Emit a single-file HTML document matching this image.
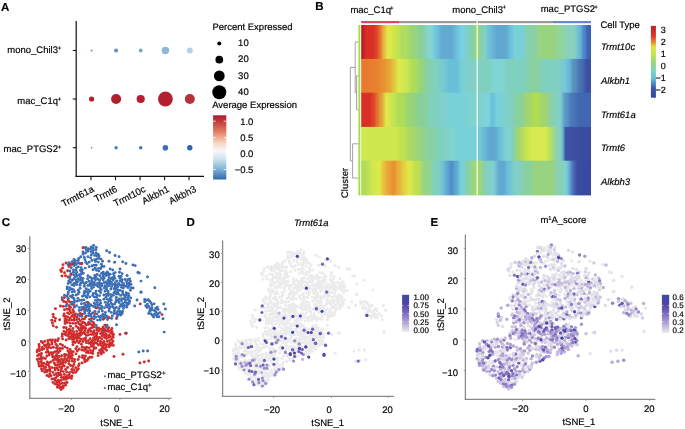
<!DOCTYPE html><html><head><meta charset="utf-8"><style>html,body{margin:0;padding:0;background:#fff;}svg{display:block;font-family:"Liberation Sans",sans-serif;text-rendering:geometricPrecision;will-change:transform;} text{stroke:#000;stroke-width:0.18px;}</style></head><body><svg width="685" height="429" viewBox="0 0 685 429"><text x="1.00" y="10.60" font-size="11.5" text-anchor="start" font-weight="bold" font-style="normal" fill="#000" >A</text>
<line x1="76.20" y1="21.00" x2="76.20" y2="177.00" stroke="#111" stroke-width="1.2"/>
<line x1="75.60" y1="176.40" x2="204.00" y2="176.40" stroke="#111" stroke-width="1.2"/>
<line x1="72.80" y1="50.50" x2="76.20" y2="50.50" stroke="#111" stroke-width="1.1"/>
<line x1="72.80" y1="99.00" x2="76.20" y2="99.00" stroke="#111" stroke-width="1.1"/>
<line x1="72.80" y1="147.70" x2="76.20" y2="147.70" stroke="#111" stroke-width="1.1"/>
<line x1="91.00" y1="176.40" x2="91.00" y2="180.20" stroke="#111" stroke-width="1.1"/>
<line x1="115.50" y1="176.40" x2="115.50" y2="180.20" stroke="#111" stroke-width="1.1"/>
<line x1="140.10" y1="176.40" x2="140.10" y2="180.20" stroke="#111" stroke-width="1.1"/>
<line x1="164.60" y1="176.40" x2="164.60" y2="180.20" stroke="#111" stroke-width="1.1"/>
<line x1="189.00" y1="176.40" x2="189.00" y2="180.20" stroke="#111" stroke-width="1.1"/>
<text x="58.00" y="52.70" font-size="9.5" text-anchor="end" font-weight="normal" font-style="normal" fill="#000" >mono_Chil3</text>
<text x="57.80" y="49.50" font-size="6.2" text-anchor="start" font-weight="normal" font-style="normal" fill="#000" >+</text>
<text x="58.00" y="103.90" font-size="9.5" text-anchor="end" font-weight="normal" font-style="normal" fill="#000" >mac_C1q</text>
<text x="57.80" y="100.70" font-size="6.2" text-anchor="start" font-weight="normal" font-style="normal" fill="#000" >+</text>
<text x="58.00" y="152.40" font-size="9.5" text-anchor="end" font-weight="normal" font-style="normal" fill="#000" >mac_PTGS2</text>
<text x="57.80" y="149.20" font-size="6.2" text-anchor="start" font-weight="normal" font-style="normal" fill="#000" >+</text>
<text transform="translate(94.60,191.2) rotate(-27)" font-size="9.5" text-anchor="end" fill="#000">Trmt61a</text>
<text transform="translate(118.00,191.2) rotate(-27)" font-size="9.5" text-anchor="end" fill="#000">Trmt6</text>
<text transform="translate(146.30,191.2) rotate(-27)" font-size="9.5" text-anchor="end" fill="#000">Trmt10c</text>
<text transform="translate(169.90,191.2) rotate(-27)" font-size="9.5" text-anchor="end" fill="#000">Alkbh1</text>
<text transform="translate(196.90,191.2) rotate(-27)" font-size="9.5" text-anchor="end" fill="#000">Alkbh3</text>
<circle cx="91.60" cy="50.50" r="1.00" fill="#5a8fbd"/>
<circle cx="116.10" cy="50.50" r="2.00" fill="#5a93bd"/>
<circle cx="140.70" cy="50.50" r="1.90" fill="#74a6cb"/>
<circle cx="165.40" cy="50.50" r="3.70" fill="#8bb9d5"/>
<circle cx="189.80" cy="50.50" r="3.00" fill="#b5d2e4"/>
<circle cx="91.60" cy="99.00" r="2.60" fill="#b41f2e"/>
<circle cx="116.10" cy="99.00" r="5.00" fill="#b2202f"/>
<circle cx="140.70" cy="99.00" r="4.10" fill="#b41f2e"/>
<circle cx="165.40" cy="99.00" r="7.40" fill="#b2202f"/>
<circle cx="189.80" cy="99.00" r="5.00" fill="#b53236"/>
<circle cx="91.60" cy="147.70" r="0.90" fill="#6b98c8"/>
<circle cx="116.10" cy="147.70" r="1.75" fill="#4a82c0"/>
<circle cx="140.70" cy="147.70" r="1.75" fill="#4078b8"/>
<circle cx="165.40" cy="147.70" r="2.80" fill="#3a70b0"/>
<circle cx="189.80" cy="147.70" r="2.70" fill="#2e64a8"/>
<text x="212.40" y="30.20" font-size="9.5" text-anchor="start" font-weight="normal" font-style="normal" fill="#000" >Percent Expressed</text>
<circle cx="219.30" cy="43.50" r="2.00" fill="#000"/>
<text x="243.40" y="45.65" font-size="9.5" text-anchor="middle" font-weight="normal" font-style="normal" fill="#000" >10</text>
<circle cx="219.30" cy="59.70" r="3.85" fill="#000"/>
<text x="243.40" y="62.00" font-size="9.5" text-anchor="middle" font-weight="normal" font-style="normal" fill="#000" >20</text>
<circle cx="219.30" cy="75.90" r="5.40" fill="#000"/>
<text x="243.40" y="78.90" font-size="9.5" text-anchor="middle" font-weight="normal" font-style="normal" fill="#000" >30</text>
<circle cx="219.30" cy="92.20" r="7.00" fill="#000"/>
<text x="243.40" y="94.90" font-size="9.5" text-anchor="middle" font-weight="normal" font-style="normal" fill="#000" >40</text>
<text x="212.20" y="108.20" font-size="9.5" text-anchor="start" font-weight="normal" font-style="normal" fill="#000" >Average Expression</text>
<defs><linearGradient id="rdbu" x1="0" y1="0" x2="0" y2="1"><stop offset="0" stop-color="#b2182b"/><stop offset="0.1" stop-color="#c43c3c"/><stop offset="0.25" stop-color="#e07b5f"/><stop offset="0.42" stop-color="#f7d2bd"/><stop offset="0.55" stop-color="#f7f7f7"/><stop offset="0.68" stop-color="#cfe3ef"/><stop offset="0.82" stop-color="#88b9d9"/><stop offset="1" stop-color="#2f6aac"/></linearGradient></defs>
<rect x="213.10" y="115.30" width="13.20" height="64.20" fill="url(#rdbu)" />
<line x1="213.10" y1="121.20" x2="215.70" y2="121.20" stroke="#fff" stroke-width="0.8"/>
<line x1="223.70" y1="121.20" x2="226.30" y2="121.20" stroke="#fff" stroke-width="0.8"/>
<text x="253.40" y="124.60" font-size="9.5" text-anchor="end" font-weight="normal" font-style="normal" fill="#000" >1.0</text>
<line x1="213.10" y1="137.60" x2="215.70" y2="137.60" stroke="#fff" stroke-width="0.8"/>
<line x1="223.70" y1="137.60" x2="226.30" y2="137.60" stroke="#fff" stroke-width="0.8"/>
<text x="253.40" y="141.00" font-size="9.5" text-anchor="end" font-weight="normal" font-style="normal" fill="#000" >0.5</text>
<line x1="213.10" y1="153.30" x2="215.70" y2="153.30" stroke="#fff" stroke-width="0.8"/>
<line x1="223.70" y1="153.30" x2="226.30" y2="153.30" stroke="#fff" stroke-width="0.8"/>
<text x="253.40" y="156.70" font-size="9.5" text-anchor="end" font-weight="normal" font-style="normal" fill="#000" >0.0</text>
<line x1="213.10" y1="169.50" x2="215.70" y2="169.50" stroke="#fff" stroke-width="0.8"/>
<line x1="223.70" y1="169.50" x2="226.30" y2="169.50" stroke="#fff" stroke-width="0.8"/>
<text x="253.40" y="172.90" font-size="9.5" text-anchor="end" font-weight="normal" font-style="normal" fill="#000" >−0.5</text>
<text x="315.30" y="10.00" font-size="11.5" text-anchor="start" font-weight="bold" font-style="normal" fill="#000" >B</text>
<text x="350.40" y="12.70" font-size="9.5" text-anchor="start" font-weight="normal" font-style="normal" fill="#000" >mac_C1q</text>
<text x="390.10" y="9.50" font-size="6.2" text-anchor="start" font-weight="normal" font-style="normal" fill="#000" >+</text>
<text x="452.30" y="12.60" font-size="9.5" text-anchor="start" font-weight="normal" font-style="normal" fill="#000" >mono_Chil3</text>
<text x="502.40" y="9.40" font-size="6.2" text-anchor="start" font-weight="normal" font-style="normal" fill="#000" >+</text>
<text x="540.70" y="12.30" font-size="9.5" text-anchor="start" font-weight="normal" font-style="normal" fill="#000" >mac_PTGS2</text>
<text x="594.30" y="9.10" font-size="6.2" text-anchor="start" font-weight="normal" font-style="normal" fill="#000" >+</text>
<rect x="361.20" y="21.00" width="37.80" height="2.20" fill="#e2465f" />
<rect x="399.00" y="21.00" width="77.50" height="2.20" fill="#9a9a9a" />
<rect x="477.80" y="21.00" width="75.20" height="2.20" fill="#9a9a9a" />
<rect x="553.00" y="21.00" width="38.00" height="2.20" fill="#6b86c9" />
<defs><linearGradient id="hm0" x1="0" y1="0" x2="1" y2="0"><stop offset="0.0042" stop-color="#b82028"/><stop offset="0.0060" stop-color="#b82028"/><stop offset="0.0226" stop-color="#d83028"/><stop offset="0.0517" stop-color="#d83028"/><stop offset="0.0692" stop-color="#e04a28"/><stop offset="0.0714" stop-color="#e04a28"/><stop offset="0.0817" stop-color="#e07a30"/><stop offset="0.0847" stop-color="#e07a30"/><stop offset="0.0950" stop-color="#e8b040"/><stop offset="0.0972" stop-color="#e8b040"/><stop offset="0.1147" stop-color="#e0e848"/><stop offset="0.1254" stop-color="#e0e848"/><stop offset="0.1488" stop-color="#c8e450"/><stop offset="0.1540" stop-color="#c8e450"/><stop offset="0.1773" stop-color="#b0dc60"/><stop offset="0.1954" stop-color="#b0dc60"/><stop offset="0.2215" stop-color="#98d478"/><stop offset="0.2323" stop-color="#98d478"/><stop offset="0.2584" stop-color="#88d098"/><stop offset="0.2654" stop-color="#88d098"/><stop offset="0.2844" stop-color="#84d2c8"/><stop offset="0.2873" stop-color="#84d2c8"/><stop offset="0.2991" stop-color="#88d4d0"/><stop offset="0.3021" stop-color="#88d4d0"/><stop offset="0.3124" stop-color="#7ccfd8"/><stop offset="0.3146" stop-color="#7ccfd8"/><stop offset="0.3264" stop-color="#6ec2dc"/><stop offset="0.3301" stop-color="#6ec2dc"/><stop offset="0.3505" stop-color="#64a9d2"/><stop offset="0.3944" stop-color="#64a9d2"/><stop offset="0.4134" stop-color="#6cc0dc"/><stop offset="0.4163" stop-color="#6cc0dc"/><stop offset="0.4353" stop-color="#7ad0e0"/><stop offset="0.4460" stop-color="#7ad0e0"/><stop offset="0.4708" stop-color="#80d0b8"/><stop offset="0.4767" stop-color="#80d0b8"/><stop offset="0.4953" stop-color="#90d480"/><stop offset="0.4987" stop-color="#90d480"/><stop offset="0.5090" stop-color="#98d480"/><stop offset="0.5108" stop-color="#98d480"/><stop offset="0.5202" stop-color="#88d0a8"/><stop offset="0.5231" stop-color="#88d0a8"/><stop offset="0.5364" stop-color="#80d0c8"/><stop offset="0.5401" stop-color="#80d0c8"/><stop offset="0.5563" stop-color="#6cc0d8"/><stop offset="0.5607" stop-color="#6cc0d8"/><stop offset="0.5740" stop-color="#68b0d8"/><stop offset="0.5762" stop-color="#68b0d8"/><stop offset="0.5937" stop-color="#60a8d0"/><stop offset="0.6302" stop-color="#60a8d0"/><stop offset="0.6477" stop-color="#6cc0dc"/><stop offset="0.6499" stop-color="#6cc0dc"/><stop offset="0.6674" stop-color="#78d0d8"/><stop offset="0.7002" stop-color="#78d0d8"/><stop offset="0.7263" stop-color="#88d0a8"/><stop offset="0.7518" stop-color="#88d0a8"/><stop offset="0.7779" stop-color="#98d480"/><stop offset="0.8402" stop-color="#98d480"/><stop offset="0.8663" stop-color="#90d4a0"/><stop offset="0.8771" stop-color="#90d4a0"/><stop offset="0.9032" stop-color="#88d0c0"/><stop offset="0.9287" stop-color="#88d0c0"/><stop offset="0.9491" stop-color="#68b8d8"/><stop offset="0.9528" stop-color="#68b8d8"/><stop offset="0.9675" stop-color="#5088c8"/><stop offset="0.9712" stop-color="#5088c8"/><stop offset="0.9871" stop-color="#3e60b0"/><stop offset="0.9914" stop-color="#3e60b0"/></linearGradient><linearGradient id="hm1" x1="0" y1="0" x2="1" y2="0"><stop offset="0.0137" stop-color="#e87a30"/><stop offset="0.0259" stop-color="#e87a30"/><stop offset="0.0520" stop-color="#e88030"/><stop offset="0.0665" stop-color="#e88030"/><stop offset="0.0926" stop-color="#e89030"/><stop offset="0.0996" stop-color="#e89030"/><stop offset="0.1215" stop-color="#e8a838"/><stop offset="0.1260" stop-color="#e8a838"/><stop offset="0.1422" stop-color="#e0c840"/><stop offset="0.1459" stop-color="#e0c840"/><stop offset="0.1606" stop-color="#e0e848"/><stop offset="0.1643" stop-color="#e0e848"/><stop offset="0.1847" stop-color="#d0e850"/><stop offset="0.1954" stop-color="#d0e850"/><stop offset="0.2215" stop-color="#b0dc58"/><stop offset="0.2323" stop-color="#b0dc58"/><stop offset="0.2571" stop-color="#98d478"/><stop offset="0.2630" stop-color="#98d478"/><stop offset="0.2866" stop-color="#88d0a8"/><stop offset="0.2925" stop-color="#88d0a8"/><stop offset="0.3173" stop-color="#80d0c0"/><stop offset="0.3281" stop-color="#80d0c0"/><stop offset="0.3529" stop-color="#78c8d0"/><stop offset="0.3588" stop-color="#78c8d0"/><stop offset="0.3837" stop-color="#68c0d8"/><stop offset="0.4165" stop-color="#68c0d8"/><stop offset="0.4384" stop-color="#78d0d8"/><stop offset="0.4428" stop-color="#78d0d8"/><stop offset="0.4647" stop-color="#80d0c8"/><stop offset="0.4924" stop-color="#80d0c8"/><stop offset="0.5185" stop-color="#80d0c0"/><stop offset="0.5528" stop-color="#80d0c0"/><stop offset="0.5789" stop-color="#80d4d4"/><stop offset="0.6118" stop-color="#80d4d4"/><stop offset="0.6379" stop-color="#80d0c0"/><stop offset="0.7076" stop-color="#80d0c0"/><stop offset="0.7337" stop-color="#88d0a0"/><stop offset="0.7665" stop-color="#88d0a0"/><stop offset="0.7927" stop-color="#80d0c0"/><stop offset="0.8550" stop-color="#80d0c0"/><stop offset="0.8798" stop-color="#78c8d8"/><stop offset="0.8857" stop-color="#78c8d8"/><stop offset="0.9034" stop-color="#68b8d8"/><stop offset="0.9064" stop-color="#68b8d8"/><stop offset="0.9240" stop-color="#5890c0"/><stop offset="0.9299" stop-color="#5890c0"/><stop offset="0.9535" stop-color="#4870b0"/><stop offset="0.9594" stop-color="#4870b0"/><stop offset="0.9827" stop-color="#3850a8"/><stop offset="0.9885" stop-color="#3850a8"/></linearGradient><linearGradient id="hm2" x1="0" y1="0" x2="1" y2="0"><stop offset="0.0137" stop-color="#d83028"/><stop offset="0.0370" stop-color="#d83028"/><stop offset="0.0545" stop-color="#e04828"/><stop offset="0.0567" stop-color="#e04828"/><stop offset="0.0670" stop-color="#e07030"/><stop offset="0.0699" stop-color="#e07030"/><stop offset="0.0847" stop-color="#e0a038"/><stop offset="0.0891" stop-color="#e0a038"/><stop offset="0.1083" stop-color="#e0e848"/><stop offset="0.1134" stop-color="#e0e848"/><stop offset="0.1341" stop-color="#c8e450"/><stop offset="0.1392" stop-color="#c8e450"/><stop offset="0.1626" stop-color="#b0dc58"/><stop offset="0.1807" stop-color="#b0dc58"/><stop offset="0.2068" stop-color="#98d478"/><stop offset="0.2249" stop-color="#98d478"/><stop offset="0.2510" stop-color="#88d098"/><stop offset="0.2765" stop-color="#88d098"/><stop offset="0.3026" stop-color="#80d0c0"/><stop offset="0.3281" stop-color="#80d0c0"/><stop offset="0.3542" stop-color="#80d0d0"/><stop offset="0.3649" stop-color="#80d0d0"/><stop offset="0.3910" stop-color="#78d0d8"/><stop offset="0.4460" stop-color="#78d0d8"/><stop offset="0.4721" stop-color="#80d4d0"/><stop offset="0.4924" stop-color="#80d4d0"/><stop offset="0.5149" stop-color="#80d0d0"/><stop offset="0.5196" stop-color="#80d0d0"/><stop offset="0.5421" stop-color="#80d4d8"/><stop offset="0.5528" stop-color="#80d4d8"/><stop offset="0.5703" stop-color="#68c0d8"/><stop offset="0.5725" stop-color="#68c0d8"/><stop offset="0.5900" stop-color="#78d0d8"/><stop offset="0.6044" stop-color="#78d0d8"/><stop offset="0.6305" stop-color="#80d0c8"/><stop offset="0.6486" stop-color="#80d0c8"/><stop offset="0.6747" stop-color="#88d0a0"/><stop offset="0.6929" stop-color="#88d0a0"/><stop offset="0.7190" stop-color="#a0d470"/><stop offset="0.7297" stop-color="#a0d470"/><stop offset="0.7558" stop-color="#b0dc50"/><stop offset="0.7665" stop-color="#b0dc50"/><stop offset="0.7927" stop-color="#a0d470"/><stop offset="0.8034" stop-color="#a0d470"/><stop offset="0.8295" stop-color="#88d0b0"/><stop offset="0.8402" stop-color="#88d0b0"/><stop offset="0.8621" stop-color="#80d0d0"/><stop offset="0.8666" stop-color="#80d0d0"/><stop offset="0.8872" stop-color="#5898c8"/><stop offset="0.8931" stop-color="#5898c8"/><stop offset="0.9167" stop-color="#4878b8"/><stop offset="0.9226" stop-color="#4878b8"/><stop offset="0.9474" stop-color="#4068b0"/><stop offset="0.9869" stop-color="#4068b0"/></linearGradient><linearGradient id="hm3" x1="0" y1="0" x2="1" y2="0"><stop offset="0.0137" stop-color="#d0e850"/><stop offset="0.1512" stop-color="#d0e850"/><stop offset="0.1773" stop-color="#c0e050"/><stop offset="0.1881" stop-color="#c0e050"/><stop offset="0.2142" stop-color="#a8d868"/><stop offset="0.2249" stop-color="#a8d868"/><stop offset="0.2510" stop-color="#98d480"/><stop offset="0.2618" stop-color="#98d480"/><stop offset="0.2879" stop-color="#88d0a0"/><stop offset="0.3133" stop-color="#88d0a0"/><stop offset="0.3395" stop-color="#80d0c0"/><stop offset="0.3649" stop-color="#80d0c0"/><stop offset="0.3898" stop-color="#80d4d0"/><stop offset="0.3957" stop-color="#80d4d0"/><stop offset="0.4205" stop-color="#78d0d8"/><stop offset="0.4924" stop-color="#78d0d8"/><stop offset="0.5149" stop-color="#70c8d8"/><stop offset="0.5196" stop-color="#70c8d8"/><stop offset="0.5349" stop-color="#68b8d8"/><stop offset="0.5379" stop-color="#68b8d8"/><stop offset="0.5568" stop-color="#60a8d0"/><stop offset="0.5823" stop-color="#60a8d0"/><stop offset="0.6042" stop-color="#6cc0d8"/><stop offset="0.6086" stop-color="#6cc0d8"/><stop offset="0.6305" stop-color="#80d4d0"/><stop offset="0.6486" stop-color="#80d4d0"/><stop offset="0.6617" stop-color="#88d0a8"/><stop offset="0.6912" stop-color="#a8d868"/><stop offset="0.7206" stop-color="#c8e450"/><stop offset="0.7428" stop-color="#d8ea50"/><stop offset="0.8017" stop-color="#d8ea50"/><stop offset="0.8238" stop-color="#b8e060"/><stop offset="0.8459" stop-color="#90d4a8"/><stop offset="0.8680" stop-color="#80d0c8"/><stop offset="0.8791" stop-color="#6aa8d0"/><stop offset="0.8887" stop-color="#3e52a4"/><stop offset="1.0000" stop-color="#3a4aa0"/></linearGradient><linearGradient id="hm4" x1="0" y1="0" x2="1" y2="0"><stop offset="0.0101" stop-color="#b0dc5c"/><stop offset="0.0148" stop-color="#b0dc5c"/><stop offset="0.0302" stop-color="#c0e050"/><stop offset="0.0331" stop-color="#c0e050"/><stop offset="0.0508" stop-color="#d0e850"/><stop offset="0.0567" stop-color="#d0e850"/><stop offset="0.0773" stop-color="#e0e848"/><stop offset="0.0817" stop-color="#e0e848"/><stop offset="0.0965" stop-color="#e8c040"/><stop offset="0.0994" stop-color="#e8c040"/><stop offset="0.1142" stop-color="#e8a838"/><stop offset="0.1186" stop-color="#e8a838"/><stop offset="0.1377" stop-color="#e89030"/><stop offset="0.1429" stop-color="#e89030"/><stop offset="0.1621" stop-color="#e8b038"/><stop offset="0.1665" stop-color="#e8b038"/><stop offset="0.1827" stop-color="#e0d040"/><stop offset="0.1864" stop-color="#e0d040"/><stop offset="0.2055" stop-color="#e0e848"/><stop offset="0.2114" stop-color="#e0e848"/><stop offset="0.2363" stop-color="#c0e050"/><stop offset="0.2470" stop-color="#c0e050"/><stop offset="0.2731" stop-color="#98d488"/><stop offset="0.2912" stop-color="#98d488"/><stop offset="0.3173" stop-color="#80d0c0"/><stop offset="0.3355" stop-color="#80d0c0"/><stop offset="0.3544" stop-color="#70c0d8"/><stop offset="0.3574" stop-color="#70c0d8"/><stop offset="0.3706" stop-color="#60a8d0"/><stop offset="0.3743" stop-color="#60a8d0"/><stop offset="0.3905" stop-color="#5090c8"/><stop offset="0.3949" stop-color="#5090c8"/><stop offset="0.4111" stop-color="#60a8d0"/><stop offset="0.4148" stop-color="#60a8d0"/><stop offset="0.4340" stop-color="#78d0d8"/><stop offset="0.4399" stop-color="#78d0d8"/><stop offset="0.4635" stop-color="#88d0a8"/><stop offset="0.4694" stop-color="#88d0a8"/><stop offset="0.4909" stop-color="#a0d870"/><stop offset="0.4957" stop-color="#a0d870"/><stop offset="0.5119" stop-color="#a0d870"/><stop offset="0.5152" stop-color="#a0d870"/><stop offset="0.5335" stop-color="#88d0b0"/><stop offset="0.5394" stop-color="#88d0b0"/><stop offset="0.5642" stop-color="#80d0d0"/><stop offset="0.5749" stop-color="#80d0d0"/><stop offset="0.6011" stop-color="#60a8d0"/><stop offset="0.6192" stop-color="#60a8d0"/><stop offset="0.6411" stop-color="#70c0d8"/><stop offset="0.6455" stop-color="#70c0d8"/><stop offset="0.6674" stop-color="#80d0c8"/><stop offset="0.6855" stop-color="#80d0c8"/><stop offset="0.7116" stop-color="#88d0a0"/><stop offset="0.7297" stop-color="#88d0a0"/><stop offset="0.7558" stop-color="#98d480"/><stop offset="0.8329" stop-color="#98d480"/><stop offset="0.8590" stop-color="#88d0b8"/><stop offset="0.8771" stop-color="#88d0b8"/><stop offset="0.8901" stop-color="#7cd0d8"/><stop offset="0.9012" stop-color="#6cbcd8"/><stop offset="0.9122" stop-color="#5a90c8"/><stop offset="0.9255" stop-color="#4866b2"/><stop offset="0.9417" stop-color="#3a4ca2"/><stop offset="1.0000" stop-color="#3848a0"/></linearGradient></defs>
<rect x="361.20" y="25.00" width="229.80" height="34.50" fill="url(#hm0)" />
<rect x="361.20" y="58.90" width="229.80" height="34.40" fill="url(#hm1)" />
<rect x="361.20" y="92.70" width="229.80" height="34.80" fill="url(#hm2)" />
<rect x="361.20" y="126.90" width="229.80" height="34.40" fill="url(#hm3)" />
<rect x="361.20" y="160.70" width="229.80" height="34.70" fill="url(#hm4)" />
<rect x="476.60" y="25.00" width="1.20" height="170.40" fill="#ffffff" />
<rect x="358.40" y="25.00" width="1.90" height="170.40" fill="#a4de4a" />
<line x1="356.60" y1="75.80" x2="358.40" y2="75.80" stroke="#8c8c8c" stroke-width="0.8"/>
<line x1="356.60" y1="109.80" x2="358.40" y2="109.80" stroke="#8c8c8c" stroke-width="0.8"/>
<line x1="356.60" y1="75.80" x2="356.60" y2="109.80" stroke="#8c8c8c" stroke-width="0.8"/>
<line x1="355.20" y1="41.95" x2="358.40" y2="41.95" stroke="#8c8c8c" stroke-width="0.8"/>
<line x1="355.20" y1="92.80" x2="356.60" y2="92.80" stroke="#8c8c8c" stroke-width="0.8"/>
<line x1="355.20" y1="41.95" x2="355.20" y2="92.80" stroke="#8c8c8c" stroke-width="0.8"/>
<line x1="352.60" y1="143.80" x2="358.40" y2="143.80" stroke="#8c8c8c" stroke-width="0.8"/>
<line x1="352.60" y1="178.05" x2="358.40" y2="178.05" stroke="#8c8c8c" stroke-width="0.8"/>
<line x1="352.60" y1="143.80" x2="352.60" y2="178.05" stroke="#8c8c8c" stroke-width="0.8"/>
<line x1="350.30" y1="67.38" x2="355.20" y2="67.38" stroke="#8c8c8c" stroke-width="0.8"/>
<line x1="350.30" y1="160.93" x2="352.60" y2="160.93" stroke="#8c8c8c" stroke-width="0.8"/>
<line x1="350.30" y1="67.38" x2="350.30" y2="160.93" stroke="#8c8c8c" stroke-width="0.8"/>
<text transform="translate(347.6,198.0) rotate(-90)" font-size="9.5" fill="#000">Cluster</text>
<text x="600.40" y="27.80" font-size="9.5" text-anchor="start" font-weight="normal" font-style="normal" fill="#000" >Cell Type</text>
<text x="601.00" y="50.30" font-size="9.5" text-anchor="start" font-weight="normal" font-style="italic" fill="#000" >Trmt10c</text>
<text x="601.00" y="83.80" font-size="9.5" text-anchor="start" font-weight="normal" font-style="italic" fill="#000" >Alkbh1</text>
<text x="601.00" y="117.70" font-size="9.5" text-anchor="start" font-weight="normal" font-style="italic" fill="#000" >Trmt61a</text>
<text x="601.00" y="151.00" font-size="9.5" text-anchor="start" font-weight="normal" font-style="italic" fill="#000" >Trmt6</text>
<text x="601.00" y="184.80" font-size="9.5" text-anchor="start" font-weight="normal" font-style="italic" fill="#000" >Alkbh3</text>
<defs><linearGradient id="jet" x1="0" y1="0" x2="0" y2="1"><stop offset="0" stop-color="#b82028"/><stop offset="0.045" stop-color="#c82428"/><stop offset="0.1" stop-color="#d83028"/><stop offset="0.145" stop-color="#dc3a28"/><stop offset="0.195" stop-color="#e26a2c"/><stop offset="0.245" stop-color="#e8a032"/><stop offset="0.29" stop-color="#e0e040"/><stop offset="0.38" stop-color="#c8e450"/><stop offset="0.49" stop-color="#a0d870"/><stop offset="0.53" stop-color="#92d48c"/><stop offset="0.63" stop-color="#80d0c0"/><stop offset="0.73" stop-color="#68c0dc"/><stop offset="0.79" stop-color="#5090c8"/><stop offset="0.87" stop-color="#3c58a8"/><stop offset="1" stop-color="#3342a0"/></linearGradient></defs>
<rect x="650.90" y="25.90" width="5.00" height="71.80" fill="url(#jet)" />
<text x="665.80" y="32.60" font-size="9" text-anchor="end" font-weight="normal" font-style="normal" fill="#000" >3</text>
<text x="665.80" y="44.75" font-size="9" text-anchor="end" font-weight="normal" font-style="normal" fill="#000" >2</text>
<text x="665.80" y="56.90" font-size="9" text-anchor="end" font-weight="normal" font-style="normal" fill="#000" >1</text>
<text x="665.80" y="69.05" font-size="9" text-anchor="end" font-weight="normal" font-style="normal" fill="#000" >0</text>
<text x="665.80" y="81.20" font-size="9" text-anchor="end" font-weight="normal" font-style="normal" fill="#000" >−1</text>
<text x="665.80" y="93.35" font-size="9" text-anchor="end" font-weight="normal" font-style="normal" fill="#000" >−2</text>
<text x="1.70" y="226.20" font-size="11.5" text-anchor="start" font-weight="bold" font-style="normal" fill="#000" >C</text>
<line x1="29.80" y1="236.20" x2="29.80" y2="399.00" stroke="#8a8a8a" stroke-width="1.3"/>
<line x1="29.20" y1="398.40" x2="171.50" y2="398.40" stroke="#8a8a8a" stroke-width="1.3"/>
<line x1="27.80" y1="248.40" x2="29.50" y2="248.40" stroke="#8a8a8a" stroke-width="0.8"/>
<text x="26.40" y="251.80" font-size="9.5" text-anchor="end" font-weight="normal" font-style="normal" fill="#000" >30</text>
<line x1="27.80" y1="279.70" x2="29.50" y2="279.70" stroke="#8a8a8a" stroke-width="0.8"/>
<text x="26.40" y="283.10" font-size="9.5" text-anchor="end" font-weight="normal" font-style="normal" fill="#000" >20</text>
<line x1="27.80" y1="310.50" x2="29.50" y2="310.50" stroke="#8a8a8a" stroke-width="0.8"/>
<text x="26.40" y="314.60" font-size="9.5" text-anchor="end" font-weight="normal" font-style="normal" fill="#000" >10</text>
<line x1="27.80" y1="341.10" x2="29.50" y2="341.10" stroke="#8a8a8a" stroke-width="0.8"/>
<text x="26.40" y="345.90" font-size="9.5" text-anchor="end" font-weight="normal" font-style="normal" fill="#000" >0</text>
<line x1="27.80" y1="371.30" x2="29.50" y2="371.30" stroke="#8a8a8a" stroke-width="0.8"/>
<text x="26.40" y="377.40" font-size="9.5" text-anchor="end" font-weight="normal" font-style="normal" fill="#000" >−10</text>
<line x1="71.40" y1="398.40" x2="71.40" y2="400.20" stroke="#8a8a8a" stroke-width="0.8"/>
<text x="66.40" y="412.20" font-size="9.5" text-anchor="middle" font-weight="normal" font-style="normal" fill="#000" >−20</text>
<line x1="119.90" y1="398.40" x2="119.90" y2="400.20" stroke="#8a8a8a" stroke-width="0.8"/>
<text x="116.75" y="412.20" font-size="9.5" text-anchor="middle" font-weight="normal" font-style="normal" fill="#000" >0</text>
<line x1="168.30" y1="398.40" x2="168.30" y2="400.20" stroke="#8a8a8a" stroke-width="0.8"/>
<text x="164.55" y="412.20" font-size="9.5" text-anchor="middle" font-weight="normal" font-style="normal" fill="#000" >20</text>
<text x="116.65" y="425.50" font-size="9.5" text-anchor="middle" font-weight="normal" font-style="normal" fill="#000" >tSNE_1</text>
<text transform="translate(9.7,313.9) rotate(-90)" font-size="9.5" text-anchor="middle" fill="#000">tSNE_2</text>
<g>
<circle cx="67.15" cy="288.88" r="1.45" fill="#3a6db4"/>
<circle cx="72.19" cy="261.61" r="1.45" fill="#3a6db4"/>
<circle cx="123.79" cy="283.70" r="1.45" fill="#3a6db4"/>
<circle cx="82.49" cy="296.29" r="1.45" fill="#3a6db4"/>
<circle cx="98.78" cy="311.66" r="1.45" fill="#3a6db4"/>
<circle cx="109.00" cy="310.93" r="1.45" fill="#3a6db4"/>
<circle cx="46.99" cy="375.56" r="1.45" fill="#d02a2a"/>
<circle cx="84.23" cy="257.41" r="1.45" fill="#3a6db4"/>
<circle cx="141.00" cy="292.20" r="1.45" fill="#3a6db4"/>
<circle cx="111.37" cy="282.24" r="1.45" fill="#3a6db4"/>
<circle cx="95.57" cy="261.49" r="1.45" fill="#3a6db4"/>
<circle cx="67.67" cy="316.94" r="1.45" fill="#d02a2a"/>
<circle cx="122.76" cy="303.49" r="1.45" fill="#3a6db4"/>
<circle cx="50.88" cy="347.89" r="1.45" fill="#d02a2a"/>
<circle cx="83.02" cy="251.89" r="1.45" fill="#3a6db4"/>
<circle cx="86.39" cy="352.40" r="1.45" fill="#d02a2a"/>
<circle cx="97.76" cy="279.09" r="1.45" fill="#3a6db4"/>
<circle cx="103.86" cy="341.43" r="1.45" fill="#d02a2a"/>
<circle cx="157.33" cy="307.11" r="1.45" fill="#3a6db4"/>
<circle cx="67.00" cy="382.47" r="1.45" fill="#d02a2a"/>
<circle cx="110.75" cy="278.81" r="1.45" fill="#3a6db4"/>
<circle cx="77.00" cy="346.67" r="1.45" fill="#d02a2a"/>
<circle cx="108.30" cy="293.44" r="1.45" fill="#3a6db4"/>
<circle cx="122.64" cy="311.46" r="1.45" fill="#3a6db4"/>
<circle cx="58.03" cy="362.14" r="1.45" fill="#d02a2a"/>
<circle cx="122.76" cy="261.83" r="1.45" fill="#3a6db4"/>
<circle cx="85.87" cy="247.43" r="1.45" fill="#3a6db4"/>
<circle cx="55.46" cy="339.95" r="1.45" fill="#d02a2a"/>
<circle cx="117.16" cy="284.84" r="1.45" fill="#3a6db4"/>
<circle cx="86.70" cy="307.28" r="1.45" fill="#3a6db4"/>
<circle cx="72.73" cy="366.54" r="1.45" fill="#d02a2a"/>
<circle cx="86.69" cy="302.15" r="1.45" fill="#3a6db4"/>
<circle cx="80.30" cy="276.64" r="1.45" fill="#3a6db4"/>
<circle cx="79.59" cy="300.35" r="1.45" fill="#3a6db4"/>
<circle cx="126.45" cy="294.88" r="1.45" fill="#3a6db4"/>
<circle cx="106.03" cy="273.31" r="1.45" fill="#3a6db4"/>
<circle cx="57.63" cy="340.81" r="1.45" fill="#d02a2a"/>
<circle cx="94.96" cy="311.35" r="1.45" fill="#3a6db4"/>
<circle cx="80.38" cy="320.96" r="1.45" fill="#d02a2a"/>
<circle cx="79.81" cy="263.54" r="1.45" fill="#3a6db4"/>
<circle cx="64.52" cy="295.16" r="1.45" fill="#3a6db4"/>
<circle cx="106.63" cy="338.53" r="1.45" fill="#d02a2a"/>
<circle cx="131.01" cy="284.33" r="1.45" fill="#3a6db4"/>
<circle cx="93.31" cy="293.46" r="1.45" fill="#3a6db4"/>
<circle cx="92.75" cy="353.55" r="1.45" fill="#d02a2a"/>
<circle cx="100.39" cy="317.96" r="1.45" fill="#3a6db4"/>
<circle cx="85.99" cy="349.08" r="1.45" fill="#d02a2a"/>
<circle cx="67.63" cy="312.95" r="1.45" fill="#d02a2a"/>
<circle cx="114.04" cy="288.74" r="1.45" fill="#3a6db4"/>
<circle cx="44.61" cy="372.01" r="1.45" fill="#d02a2a"/>
<circle cx="71.00" cy="273.62" r="1.45" fill="#3a6db4"/>
<circle cx="98.65" cy="316.43" r="1.45" fill="#3a6db4"/>
<circle cx="99.22" cy="290.89" r="1.45" fill="#3a6db4"/>
<circle cx="79.02" cy="292.17" r="1.45" fill="#3a6db4"/>
<circle cx="103.19" cy="280.04" r="1.45" fill="#3a6db4"/>
<circle cx="55.50" cy="318.41" r="1.45" fill="#d02a2a"/>
<circle cx="75.98" cy="353.87" r="1.45" fill="#d02a2a"/>
<circle cx="39.06" cy="366.05" r="1.45" fill="#d02a2a"/>
<circle cx="70.69" cy="333.14" r="1.45" fill="#d02a2a"/>
<circle cx="97.14" cy="274.43" r="1.45" fill="#3a6db4"/>
<circle cx="94.17" cy="278.26" r="1.45" fill="#3a6db4"/>
<circle cx="78.13" cy="293.98" r="1.45" fill="#3a6db4"/>
<circle cx="65.05" cy="323.43" r="1.45" fill="#d02a2a"/>
<circle cx="47.85" cy="340.54" r="1.45" fill="#d02a2a"/>
<circle cx="73.32" cy="331.45" r="1.45" fill="#d02a2a"/>
<circle cx="94.33" cy="297.10" r="1.45" fill="#3a6db4"/>
<circle cx="71.98" cy="284.86" r="1.45" fill="#3a6db4"/>
<circle cx="58.80" cy="382.18" r="1.45" fill="#d02a2a"/>
<circle cx="91.48" cy="282.77" r="1.45" fill="#3a6db4"/>
<circle cx="86.66" cy="347.15" r="1.45" fill="#d02a2a"/>
<circle cx="146.42" cy="300.30" r="1.45" fill="#3a6db4"/>
<circle cx="49.13" cy="355.00" r="1.45" fill="#d02a2a"/>
<circle cx="77.06" cy="340.80" r="1.45" fill="#d02a2a"/>
<circle cx="100.63" cy="292.64" r="1.45" fill="#3a6db4"/>
<circle cx="75.30" cy="334.60" r="1.45" fill="#d02a2a"/>
<circle cx="64.64" cy="358.68" r="1.45" fill="#d02a2a"/>
<circle cx="73.71" cy="333.49" r="1.45" fill="#d02a2a"/>
<circle cx="72.99" cy="342.21" r="1.45" fill="#d02a2a"/>
<circle cx="86.43" cy="325.05" r="1.45" fill="#d02a2a"/>
<circle cx="98.22" cy="286.54" r="1.45" fill="#3a6db4"/>
<circle cx="109.08" cy="277.67" r="1.45" fill="#3a6db4"/>
<circle cx="83.89" cy="299.85" r="1.45" fill="#3a6db4"/>
<circle cx="70.48" cy="326.19" r="1.45" fill="#d02a2a"/>
<circle cx="115.18" cy="272.62" r="1.45" fill="#3a6db4"/>
<circle cx="158.89" cy="316.76" r="1.45" fill="#3a6db4"/>
<circle cx="73.78" cy="278.87" r="1.45" fill="#3a6db4"/>
<circle cx="120.70" cy="313.60" r="1.45" fill="#3a6db4"/>
<circle cx="62.47" cy="345.32" r="1.45" fill="#d02a2a"/>
<circle cx="97.02" cy="313.83" r="1.45" fill="#3a6db4"/>
<circle cx="88.35" cy="340.82" r="1.45" fill="#d02a2a"/>
<circle cx="64.23" cy="313.83" r="1.45" fill="#d02a2a"/>
<circle cx="93.85" cy="265.21" r="1.45" fill="#3a6db4"/>
<circle cx="71.56" cy="288.87" r="1.45" fill="#3a6db4"/>
<circle cx="74.40" cy="307.16" r="1.45" fill="#3a6db4"/>
<circle cx="78.06" cy="327.74" r="1.45" fill="#d02a2a"/>
<circle cx="101.54" cy="273.35" r="1.45" fill="#3a6db4"/>
<circle cx="119.22" cy="298.96" r="1.45" fill="#3a6db4"/>
<circle cx="64.89" cy="383.07" r="1.45" fill="#d02a2a"/>
<circle cx="88.88" cy="281.13" r="1.45" fill="#3a6db4"/>
<circle cx="156.97" cy="316.82" r="1.45" fill="#3a6db4"/>
<circle cx="130.74" cy="297.91" r="1.45" fill="#3a6db4"/>
<circle cx="66.64" cy="319.65" r="1.45" fill="#d02a2a"/>
<circle cx="57.27" cy="376.28" r="1.45" fill="#d02a2a"/>
<circle cx="106.40" cy="294.50" r="1.45" fill="#3a6db4"/>
<circle cx="62.60" cy="268.00" r="1.45" fill="#d02a2a"/>
<circle cx="78.31" cy="278.74" r="1.45" fill="#3a6db4"/>
<circle cx="51.02" cy="375.73" r="1.45" fill="#d02a2a"/>
<circle cx="93.85" cy="327.11" r="1.45" fill="#d02a2a"/>
<circle cx="69.08" cy="305.68" r="1.45" fill="#d02a2a"/>
<circle cx="68.16" cy="264.79" r="1.45" fill="#3a6db4"/>
<circle cx="70.50" cy="307.52" r="1.45" fill="#d02a2a"/>
<circle cx="56.15" cy="344.52" r="1.45" fill="#d02a2a"/>
<circle cx="113.18" cy="337.21" r="1.45" fill="#d02a2a"/>
<circle cx="72.75" cy="323.36" r="1.45" fill="#d02a2a"/>
<circle cx="92.61" cy="284.65" r="1.45" fill="#3a6db4"/>
<circle cx="68.66" cy="336.37" r="1.45" fill="#d02a2a"/>
<circle cx="76.85" cy="317.28" r="1.45" fill="#d02a2a"/>
<circle cx="73.56" cy="304.92" r="1.45" fill="#d02a2a"/>
<circle cx="87.61" cy="305.51" r="1.45" fill="#3a6db4"/>
<circle cx="81.80" cy="307.54" r="1.45" fill="#3a6db4"/>
<circle cx="54.87" cy="321.00" r="1.45" fill="#d02a2a"/>
<circle cx="91.87" cy="318.40" r="1.45" fill="#d02a2a"/>
<circle cx="86.43" cy="291.76" r="1.45" fill="#3a6db4"/>
<circle cx="113.54" cy="273.78" r="1.45" fill="#3a6db4"/>
<circle cx="116.73" cy="280.95" r="1.45" fill="#3a6db4"/>
<circle cx="83.53" cy="308.80" r="1.45" fill="#d02a2a"/>
<circle cx="89.17" cy="266.76" r="1.45" fill="#3a6db4"/>
<circle cx="96.74" cy="343.37" r="1.45" fill="#d02a2a"/>
<circle cx="103.35" cy="333.80" r="1.45" fill="#d02a2a"/>
<circle cx="102.08" cy="336.05" r="1.45" fill="#d02a2a"/>
<circle cx="78.37" cy="260.53" r="1.45" fill="#3a6db4"/>
<circle cx="164.20" cy="332.10" r="1.45" fill="#3a6db4"/>
<circle cx="85.71" cy="328.39" r="1.45" fill="#d02a2a"/>
<circle cx="59.69" cy="319.79" r="1.45" fill="#d02a2a"/>
<circle cx="133.12" cy="287.95" r="1.45" fill="#3a6db4"/>
<circle cx="148.70" cy="361.00" r="1.45" fill="#d02a2a"/>
<circle cx="82.43" cy="326.46" r="1.45" fill="#d02a2a"/>
<circle cx="91.96" cy="260.41" r="1.45" fill="#3a6db4"/>
<circle cx="103.48" cy="352.39" r="1.45" fill="#d02a2a"/>
<circle cx="72.76" cy="263.55" r="1.45" fill="#3a6db4"/>
<circle cx="132.96" cy="264.90" r="1.45" fill="#3a6db4"/>
<circle cx="70.96" cy="330.60" r="1.45" fill="#d02a2a"/>
<circle cx="107.60" cy="302.78" r="1.45" fill="#3a6db4"/>
<circle cx="96.94" cy="330.03" r="1.45" fill="#d02a2a"/>
<circle cx="76.70" cy="284.52" r="1.45" fill="#3a6db4"/>
<circle cx="123.00" cy="354.30" r="1.45" fill="#d02a2a"/>
<circle cx="104.45" cy="343.69" r="1.45" fill="#d02a2a"/>
<circle cx="72.16" cy="358.54" r="1.45" fill="#d02a2a"/>
<circle cx="127.58" cy="297.71" r="1.45" fill="#3a6db4"/>
<circle cx="74.66" cy="359.48" r="1.45" fill="#d02a2a"/>
<circle cx="66.70" cy="360.36" r="1.45" fill="#d02a2a"/>
<circle cx="79.21" cy="363.86" r="1.45" fill="#d02a2a"/>
<circle cx="111.87" cy="343.15" r="1.45" fill="#d02a2a"/>
<circle cx="85.89" cy="309.27" r="1.45" fill="#3a6db4"/>
<circle cx="107.05" cy="284.22" r="1.45" fill="#3a6db4"/>
<circle cx="72.38" cy="355.25" r="1.45" fill="#d02a2a"/>
<circle cx="65.81" cy="306.23" r="1.45" fill="#3a6db4"/>
<circle cx="129.01" cy="285.51" r="1.45" fill="#3a6db4"/>
<circle cx="76.57" cy="305.69" r="1.45" fill="#3a6db4"/>
<circle cx="95.63" cy="293.43" r="1.45" fill="#3a6db4"/>
<circle cx="79.05" cy="337.95" r="1.45" fill="#d02a2a"/>
<circle cx="84.98" cy="330.57" r="1.45" fill="#d02a2a"/>
<circle cx="115.21" cy="282.69" r="1.45" fill="#3a6db4"/>
<circle cx="80.17" cy="280.36" r="1.45" fill="#3a6db4"/>
<circle cx="94.59" cy="284.44" r="1.45" fill="#3a6db4"/>
<circle cx="109.03" cy="261.31" r="1.45" fill="#3a6db4"/>
<circle cx="73.00" cy="314.80" r="1.45" fill="#d02a2a"/>
<circle cx="67.96" cy="350.93" r="1.45" fill="#d02a2a"/>
<circle cx="92.80" cy="295.50" r="1.45" fill="#3a6db4"/>
<circle cx="86.26" cy="316.03" r="1.45" fill="#3a6db4"/>
<circle cx="111.56" cy="318.41" r="1.45" fill="#3a6db4"/>
<circle cx="43.64" cy="363.20" r="1.45" fill="#d02a2a"/>
<circle cx="102.53" cy="261.26" r="1.45" fill="#3a6db4"/>
<circle cx="98.52" cy="327.89" r="1.45" fill="#d02a2a"/>
<circle cx="64.96" cy="318.60" r="1.45" fill="#d02a2a"/>
<circle cx="129.61" cy="278.86" r="1.45" fill="#3a6db4"/>
<circle cx="81.90" cy="263.25" r="1.45" fill="#3a6db4"/>
<circle cx="123.37" cy="288.11" r="1.45" fill="#3a6db4"/>
<circle cx="80.40" cy="270.46" r="1.45" fill="#3a6db4"/>
<circle cx="68.88" cy="363.84" r="1.45" fill="#d02a2a"/>
<circle cx="64.31" cy="366.03" r="1.45" fill="#d02a2a"/>
<circle cx="119.48" cy="272.27" r="1.45" fill="#3a6db4"/>
<circle cx="148.72" cy="313.42" r="1.45" fill="#3a6db4"/>
<circle cx="84.37" cy="295.34" r="1.45" fill="#3a6db4"/>
<circle cx="67.14" cy="330.09" r="1.45" fill="#d02a2a"/>
<circle cx="67.15" cy="286.90" r="1.45" fill="#3a6db4"/>
<circle cx="123.47" cy="308.39" r="1.45" fill="#3a6db4"/>
<circle cx="62.94" cy="362.20" r="1.45" fill="#d02a2a"/>
<circle cx="89.84" cy="283.97" r="1.45" fill="#3a6db4"/>
<circle cx="80.72" cy="327.91" r="1.45" fill="#d02a2a"/>
<circle cx="105.95" cy="297.16" r="1.45" fill="#3a6db4"/>
<circle cx="87.80" cy="302.50" r="1.45" fill="#d02a2a"/>
<circle cx="48.17" cy="342.92" r="1.45" fill="#d02a2a"/>
<circle cx="46.26" cy="364.55" r="1.45" fill="#d02a2a"/>
<circle cx="38.98" cy="354.51" r="1.45" fill="#d02a2a"/>
<circle cx="116.50" cy="318.50" r="1.45" fill="#d02a2a"/>
<circle cx="154.40" cy="310.59" r="1.45" fill="#3a6db4"/>
<circle cx="91.37" cy="346.18" r="1.45" fill="#d02a2a"/>
<circle cx="49.37" cy="366.65" r="1.45" fill="#d02a2a"/>
<circle cx="106.12" cy="344.70" r="1.45" fill="#d02a2a"/>
<circle cx="80.82" cy="325.30" r="1.45" fill="#d02a2a"/>
<circle cx="62.40" cy="348.52" r="1.45" fill="#d02a2a"/>
<circle cx="87.91" cy="251.25" r="1.45" fill="#3a6db4"/>
<circle cx="74.43" cy="262.40" r="1.45" fill="#3a6db4"/>
<circle cx="65.96" cy="379.39" r="1.45" fill="#d02a2a"/>
<circle cx="87.93" cy="285.54" r="1.45" fill="#3a6db4"/>
<circle cx="72.22" cy="297.26" r="1.45" fill="#3a6db4"/>
<circle cx="101.26" cy="278.36" r="1.45" fill="#3a6db4"/>
<circle cx="145.76" cy="305.80" r="1.45" fill="#3a6db4"/>
<circle cx="107.25" cy="341.57" r="1.45" fill="#d02a2a"/>
<circle cx="116.35" cy="307.40" r="1.45" fill="#3a6db4"/>
<circle cx="139.30" cy="273.00" r="1.45" fill="#3a6db4"/>
<circle cx="75.22" cy="342.46" r="1.45" fill="#d02a2a"/>
<circle cx="103.53" cy="345.39" r="1.45" fill="#d02a2a"/>
<circle cx="74.02" cy="283.38" r="1.45" fill="#3a6db4"/>
<circle cx="57.50" cy="365.04" r="1.45" fill="#d02a2a"/>
<circle cx="113.30" cy="334.40" r="1.45" fill="#d02a2a"/>
<circle cx="72.23" cy="280.26" r="1.45" fill="#3a6db4"/>
<circle cx="112.49" cy="304.75" r="1.45" fill="#3a6db4"/>
<circle cx="86.59" cy="335.39" r="1.45" fill="#d02a2a"/>
<circle cx="50.81" cy="361.87" r="1.45" fill="#d02a2a"/>
<circle cx="78.30" cy="335.91" r="1.45" fill="#d02a2a"/>
<circle cx="56.50" cy="327.18" r="1.45" fill="#d02a2a"/>
<circle cx="96.49" cy="297.18" r="1.45" fill="#3a6db4"/>
<circle cx="70.61" cy="337.01" r="1.45" fill="#d02a2a"/>
<circle cx="101.13" cy="354.05" r="1.45" fill="#d02a2a"/>
<circle cx="49.37" cy="345.00" r="1.45" fill="#d02a2a"/>
<circle cx="93.00" cy="253.15" r="1.45" fill="#3a6db4"/>
<circle cx="126.64" cy="307.14" r="1.45" fill="#3a6db4"/>
<circle cx="151.90" cy="307.68" r="1.45" fill="#3a6db4"/>
<circle cx="75.91" cy="270.31" r="1.45" fill="#3a6db4"/>
<circle cx="65.75" cy="377.30" r="1.45" fill="#d02a2a"/>
<circle cx="68.03" cy="298.36" r="1.45" fill="#3a6db4"/>
<circle cx="100.32" cy="319.99" r="1.45" fill="#3a6db4"/>
<circle cx="48.67" cy="347.29" r="1.45" fill="#d02a2a"/>
<circle cx="53.21" cy="325.79" r="1.45" fill="#d02a2a"/>
<circle cx="117.69" cy="286.84" r="1.45" fill="#3a6db4"/>
<circle cx="154.56" cy="314.22" r="1.45" fill="#3a6db4"/>
<circle cx="88.28" cy="324.49" r="1.45" fill="#d02a2a"/>
<circle cx="107.27" cy="272.07" r="1.45" fill="#3a6db4"/>
<circle cx="61.18" cy="375.01" r="1.45" fill="#d02a2a"/>
<circle cx="58.03" cy="348.88" r="1.45" fill="#d02a2a"/>
<circle cx="120.67" cy="295.41" r="1.45" fill="#3a6db4"/>
<circle cx="106.55" cy="289.31" r="1.45" fill="#3a6db4"/>
<circle cx="84.56" cy="318.86" r="1.45" fill="#d02a2a"/>
<circle cx="60.10" cy="350.72" r="1.45" fill="#d02a2a"/>
<circle cx="107.25" cy="299.36" r="1.45" fill="#3a6db4"/>
<circle cx="81.75" cy="271.93" r="1.45" fill="#3a6db4"/>
<circle cx="77.75" cy="281.60" r="1.45" fill="#3a6db4"/>
<circle cx="112.86" cy="341.28" r="1.45" fill="#d02a2a"/>
<circle cx="63.81" cy="327.47" r="1.45" fill="#d02a2a"/>
<circle cx="112.23" cy="332.00" r="1.45" fill="#d02a2a"/>
<circle cx="43.51" cy="366.16" r="1.45" fill="#d02a2a"/>
<circle cx="71.98" cy="302.24" r="1.45" fill="#3a6db4"/>
<circle cx="141.00" cy="292.00" r="1.45" fill="#3a6db4"/>
<circle cx="67.57" cy="367.44" r="1.45" fill="#d02a2a"/>
<circle cx="154.08" cy="303.87" r="1.45" fill="#3a6db4"/>
<circle cx="98.11" cy="355.59" r="1.45" fill="#d02a2a"/>
<circle cx="65.05" cy="321.27" r="1.45" fill="#d02a2a"/>
<circle cx="54.72" cy="356.74" r="1.45" fill="#d02a2a"/>
<circle cx="95.19" cy="307.18" r="1.45" fill="#3a6db4"/>
<circle cx="104.70" cy="329.51" r="1.45" fill="#d02a2a"/>
<circle cx="41.28" cy="341.45" r="1.45" fill="#d02a2a"/>
<circle cx="59.68" cy="387.63" r="1.45" fill="#d02a2a"/>
<circle cx="113.30" cy="345.40" r="1.45" fill="#d02a2a"/>
<circle cx="46.63" cy="371.88" r="1.45" fill="#d02a2a"/>
<circle cx="61.08" cy="380.55" r="1.45" fill="#d02a2a"/>
<circle cx="106.63" cy="287.06" r="1.45" fill="#3a6db4"/>
<circle cx="78.93" cy="323.85" r="1.45" fill="#d02a2a"/>
<circle cx="73.06" cy="337.23" r="1.45" fill="#d02a2a"/>
<circle cx="94.84" cy="313.61" r="1.45" fill="#d02a2a"/>
<circle cx="65.56" cy="385.16" r="1.45" fill="#d02a2a"/>
<circle cx="114.72" cy="304.05" r="1.45" fill="#3a6db4"/>
<circle cx="68.97" cy="308.72" r="1.45" fill="#d02a2a"/>
<circle cx="88.57" cy="315.80" r="1.45" fill="#3a6db4"/>
<circle cx="67.06" cy="309.32" r="1.45" fill="#d02a2a"/>
<circle cx="130.34" cy="290.23" r="1.45" fill="#3a6db4"/>
<circle cx="54.73" cy="368.12" r="1.45" fill="#d02a2a"/>
<circle cx="114.17" cy="276.11" r="1.45" fill="#3a6db4"/>
<circle cx="108.00" cy="280.12" r="1.45" fill="#3a6db4"/>
<circle cx="81.09" cy="267.64" r="1.45" fill="#3a6db4"/>
<circle cx="89.88" cy="296.84" r="1.45" fill="#3a6db4"/>
<circle cx="81.75" cy="323.59" r="1.45" fill="#d02a2a"/>
<circle cx="77.11" cy="370.25" r="1.45" fill="#d02a2a"/>
<circle cx="50.10" cy="371.30" r="1.45" fill="#d02a2a"/>
<circle cx="111.23" cy="300.13" r="1.45" fill="#3a6db4"/>
<circle cx="116.32" cy="297.42" r="1.45" fill="#3a6db4"/>
<circle cx="114.18" cy="313.55" r="1.45" fill="#3a6db4"/>
<circle cx="84.77" cy="311.22" r="1.45" fill="#3a6db4"/>
<circle cx="80.14" cy="313.54" r="1.45" fill="#d02a2a"/>
<circle cx="73.41" cy="272.25" r="1.45" fill="#3a6db4"/>
<circle cx="56.21" cy="373.72" r="1.45" fill="#d02a2a"/>
<circle cx="61.55" cy="386.84" r="1.45" fill="#d02a2a"/>
<circle cx="85.02" cy="361.72" r="1.45" fill="#d02a2a"/>
<circle cx="67.50" cy="358.58" r="1.45" fill="#d02a2a"/>
<circle cx="38.76" cy="363.60" r="1.45" fill="#d02a2a"/>
<circle cx="71.95" cy="369.50" r="1.45" fill="#d02a2a"/>
<circle cx="82.60" cy="319.15" r="1.45" fill="#d02a2a"/>
<circle cx="75.03" cy="277.08" r="1.45" fill="#3a6db4"/>
<circle cx="122.49" cy="291.13" r="1.45" fill="#3a6db4"/>
<circle cx="91.71" cy="327.72" r="1.45" fill="#d02a2a"/>
<circle cx="119.90" cy="313.57" r="1.45" fill="#3a6db4"/>
<circle cx="63.72" cy="315.72" r="1.45" fill="#d02a2a"/>
<circle cx="63.62" cy="377.34" r="1.45" fill="#d02a2a"/>
<circle cx="91.29" cy="246.96" r="1.45" fill="#3a6db4"/>
<circle cx="126.30" cy="333.20" r="1.45" fill="#3a6db4"/>
<circle cx="72.72" cy="295.29" r="1.45" fill="#3a6db4"/>
<circle cx="123.86" cy="298.89" r="1.45" fill="#3a6db4"/>
<circle cx="87.20" cy="263.77" r="1.45" fill="#3a6db4"/>
<circle cx="62.21" cy="333.95" r="1.45" fill="#d02a2a"/>
<circle cx="71.72" cy="339.02" r="1.45" fill="#d02a2a"/>
<circle cx="76.10" cy="295.05" r="1.45" fill="#3a6db4"/>
<circle cx="76.44" cy="267.84" r="1.45" fill="#3a6db4"/>
<circle cx="92.90" cy="342.61" r="1.45" fill="#d02a2a"/>
<circle cx="43.69" cy="348.89" r="1.45" fill="#d02a2a"/>
<circle cx="99.67" cy="337.48" r="1.45" fill="#d02a2a"/>
<circle cx="69.43" cy="372.62" r="1.45" fill="#d02a2a"/>
<circle cx="110.44" cy="306.91" r="1.45" fill="#3a6db4"/>
<circle cx="108.14" cy="291.43" r="1.45" fill="#3a6db4"/>
<circle cx="158.02" cy="309.56" r="1.45" fill="#3a6db4"/>
<circle cx="119.14" cy="302.50" r="1.45" fill="#3a6db4"/>
<circle cx="91.32" cy="334.39" r="1.45" fill="#d02a2a"/>
<circle cx="127.12" cy="275.50" r="1.45" fill="#3a6db4"/>
<circle cx="73.68" cy="274.86" r="1.45" fill="#3a6db4"/>
<circle cx="82.64" cy="355.58" r="1.45" fill="#d02a2a"/>
<circle cx="97.93" cy="307.37" r="1.45" fill="#3a6db4"/>
<circle cx="108.77" cy="327.66" r="1.45" fill="#d02a2a"/>
<circle cx="121.51" cy="300.67" r="1.45" fill="#3a6db4"/>
<circle cx="66.13" cy="302.22" r="1.45" fill="#d02a2a"/>
<circle cx="92.37" cy="340.38" r="1.45" fill="#d02a2a"/>
<circle cx="84.58" cy="359.72" r="1.45" fill="#d02a2a"/>
<circle cx="153.61" cy="316.95" r="1.45" fill="#3a6db4"/>
<circle cx="79.28" cy="307.60" r="1.45" fill="#3a6db4"/>
<circle cx="54.70" cy="359.17" r="1.45" fill="#d02a2a"/>
<circle cx="95.91" cy="277.29" r="1.45" fill="#3a6db4"/>
<circle cx="85.06" cy="333.92" r="1.45" fill="#d02a2a"/>
<circle cx="128.85" cy="295.94" r="1.45" fill="#3a6db4"/>
<circle cx="89.83" cy="311.00" r="1.45" fill="#3a6db4"/>
<circle cx="69.64" cy="290.06" r="1.45" fill="#3a6db4"/>
<circle cx="39.13" cy="346.57" r="1.45" fill="#d02a2a"/>
<circle cx="119.09" cy="256.67" r="1.45" fill="#3a6db4"/>
<circle cx="82.17" cy="280.47" r="1.45" fill="#3a6db4"/>
<circle cx="101.74" cy="306.44" r="1.45" fill="#3a6db4"/>
<circle cx="147.01" cy="307.40" r="1.45" fill="#3a6db4"/>
<circle cx="91.08" cy="341.88" r="1.45" fill="#d02a2a"/>
<circle cx="77.87" cy="314.72" r="1.45" fill="#3a6db4"/>
<circle cx="63.77" cy="301.46" r="1.45" fill="#d02a2a"/>
<circle cx="87.62" cy="278.81" r="1.45" fill="#3a6db4"/>
<circle cx="109.29" cy="308.80" r="1.45" fill="#3a6db4"/>
<circle cx="151.04" cy="302.85" r="1.45" fill="#3a6db4"/>
<circle cx="74.08" cy="317.73" r="1.45" fill="#d02a2a"/>
<circle cx="108.07" cy="273.17" r="1.45" fill="#3a6db4"/>
<circle cx="68.23" cy="300.39" r="1.45" fill="#d02a2a"/>
<circle cx="100.16" cy="287.69" r="1.45" fill="#3a6db4"/>
<circle cx="111.45" cy="339.31" r="1.45" fill="#d02a2a"/>
<circle cx="62.33" cy="299.63" r="1.45" fill="#d02a2a"/>
<circle cx="115.05" cy="285.09" r="1.45" fill="#3a6db4"/>
<circle cx="46.86" cy="355.97" r="1.45" fill="#d02a2a"/>
<circle cx="37.45" cy="349.86" r="1.45" fill="#d02a2a"/>
<circle cx="80.47" cy="335.33" r="1.45" fill="#d02a2a"/>
<circle cx="96.52" cy="335.07" r="1.45" fill="#d02a2a"/>
<circle cx="43.82" cy="368.61" r="1.45" fill="#d02a2a"/>
<circle cx="72.85" cy="328.45" r="1.45" fill="#d02a2a"/>
<circle cx="74.22" cy="302.53" r="1.45" fill="#3a6db4"/>
<circle cx="104.55" cy="337.59" r="1.45" fill="#d02a2a"/>
<circle cx="125.58" cy="300.00" r="1.45" fill="#3a6db4"/>
<circle cx="71.70" cy="316.34" r="1.45" fill="#d02a2a"/>
<circle cx="111.17" cy="330.33" r="1.45" fill="#d02a2a"/>
<circle cx="85.64" cy="252.95" r="1.45" fill="#3a6db4"/>
<circle cx="125.09" cy="302.19" r="1.45" fill="#3a6db4"/>
<circle cx="101.70" cy="339.06" r="1.45" fill="#d02a2a"/>
<circle cx="163.00" cy="318.70" r="1.45" fill="#3a6db4"/>
<circle cx="63.13" cy="306.40" r="1.45" fill="#d02a2a"/>
<circle cx="51.78" cy="320.24" r="1.45" fill="#d02a2a"/>
<circle cx="110.85" cy="289.01" r="1.45" fill="#3a6db4"/>
<circle cx="100.74" cy="268.51" r="1.45" fill="#3a6db4"/>
<circle cx="138.80" cy="352.00" r="1.45" fill="#3a6db4"/>
<circle cx="93.49" cy="337.89" r="1.45" fill="#d02a2a"/>
<circle cx="104.19" cy="282.78" r="1.45" fill="#3a6db4"/>
<circle cx="89.54" cy="319.42" r="1.45" fill="#d02a2a"/>
<circle cx="41.36" cy="359.78" r="1.45" fill="#d02a2a"/>
<circle cx="58.05" cy="372.93" r="1.45" fill="#d02a2a"/>
<circle cx="76.40" cy="336.64" r="1.45" fill="#d02a2a"/>
<circle cx="60.28" cy="344.09" r="1.45" fill="#d02a2a"/>
<circle cx="67.60" cy="270.80" r="1.45" fill="#d02a2a"/>
<circle cx="100.61" cy="303.29" r="1.45" fill="#3a6db4"/>
<circle cx="68.40" cy="356.71" r="1.45" fill="#d02a2a"/>
<circle cx="129.20" cy="282.89" r="1.45" fill="#3a6db4"/>
<circle cx="87.90" cy="256.63" r="1.45" fill="#3a6db4"/>
<circle cx="104.47" cy="307.64" r="1.45" fill="#3a6db4"/>
<circle cx="98.41" cy="345.00" r="1.45" fill="#d02a2a"/>
<circle cx="90.03" cy="338.70" r="1.45" fill="#d02a2a"/>
<circle cx="63.37" cy="385.89" r="1.45" fill="#d02a2a"/>
<circle cx="78.27" cy="290.32" r="1.45" fill="#3a6db4"/>
<circle cx="70.03" cy="349.42" r="1.45" fill="#d02a2a"/>
<circle cx="117.92" cy="290.06" r="1.45" fill="#3a6db4"/>
<circle cx="63.45" cy="360.35" r="1.45" fill="#d02a2a"/>
<circle cx="88.56" cy="322.42" r="1.45" fill="#d02a2a"/>
<circle cx="93.49" cy="287.09" r="1.45" fill="#3a6db4"/>
<circle cx="107.42" cy="307.08" r="1.45" fill="#3a6db4"/>
<circle cx="77.29" cy="351.03" r="1.45" fill="#d02a2a"/>
<circle cx="55.17" cy="370.12" r="1.45" fill="#d02a2a"/>
<circle cx="58.98" cy="374.72" r="1.45" fill="#d02a2a"/>
<circle cx="69.01" cy="331.82" r="1.45" fill="#d02a2a"/>
<circle cx="91.07" cy="320.68" r="1.45" fill="#3a6db4"/>
<circle cx="61.89" cy="366.79" r="1.45" fill="#d02a2a"/>
<circle cx="75.92" cy="274.24" r="1.45" fill="#3a6db4"/>
<circle cx="69.98" cy="318.27" r="1.45" fill="#d02a2a"/>
<circle cx="56.93" cy="384.45" r="1.45" fill="#d02a2a"/>
<circle cx="95.07" cy="336.65" r="1.45" fill="#d02a2a"/>
<circle cx="95.50" cy="280.02" r="1.45" fill="#3a6db4"/>
<circle cx="94.09" cy="330.59" r="1.45" fill="#d02a2a"/>
<circle cx="37.24" cy="359.54" r="1.45" fill="#d02a2a"/>
<circle cx="60.03" cy="373.09" r="1.45" fill="#d02a2a"/>
<circle cx="77.78" cy="321.97" r="1.45" fill="#d02a2a"/>
<circle cx="75.79" cy="348.68" r="1.45" fill="#d02a2a"/>
<circle cx="41.79" cy="364.14" r="1.45" fill="#d02a2a"/>
<circle cx="100.94" cy="351.97" r="1.45" fill="#d02a2a"/>
<circle cx="111.15" cy="296.95" r="1.45" fill="#3a6db4"/>
<circle cx="68.91" cy="361.26" r="1.45" fill="#d02a2a"/>
<circle cx="116.21" cy="288.86" r="1.45" fill="#3a6db4"/>
<circle cx="96.57" cy="255.76" r="1.45" fill="#3a6db4"/>
<circle cx="88.34" cy="292.69" r="1.45" fill="#3a6db4"/>
<circle cx="74.52" cy="291.61" r="1.45" fill="#3a6db4"/>
<circle cx="44.39" cy="345.21" r="1.45" fill="#d02a2a"/>
<circle cx="103.16" cy="319.33" r="1.45" fill="#d02a2a"/>
<circle cx="68.00" cy="277.00" r="1.45" fill="#d02a2a"/>
<circle cx="56.95" cy="351.20" r="1.45" fill="#d02a2a"/>
<circle cx="118.46" cy="294.09" r="1.45" fill="#3a6db4"/>
<circle cx="104.00" cy="318.00" r="1.45" fill="#d02a2a"/>
<circle cx="107.98" cy="329.46" r="1.45" fill="#d02a2a"/>
<circle cx="108.59" cy="337.35" r="1.45" fill="#d02a2a"/>
<circle cx="87.68" cy="295.04" r="1.45" fill="#3a6db4"/>
<circle cx="110.13" cy="269.03" r="1.45" fill="#3a6db4"/>
<circle cx="51.92" cy="379.07" r="1.45" fill="#d02a2a"/>
<circle cx="64.74" cy="356.58" r="1.45" fill="#d02a2a"/>
<circle cx="125.04" cy="296.94" r="1.45" fill="#3a6db4"/>
<circle cx="46.28" cy="352.35" r="1.45" fill="#d02a2a"/>
<circle cx="116.32" cy="313.51" r="1.45" fill="#3a6db4"/>
<circle cx="49.03" cy="363.05" r="1.45" fill="#d02a2a"/>
<circle cx="118.20" cy="300.74" r="1.45" fill="#3a6db4"/>
<circle cx="84.56" cy="283.84" r="1.45" fill="#3a6db4"/>
<circle cx="111.11" cy="303.22" r="1.45" fill="#3a6db4"/>
<circle cx="90.70" cy="257.84" r="1.45" fill="#3a6db4"/>
<circle cx="103.06" cy="314.25" r="1.45" fill="#3a6db4"/>
<circle cx="87.11" cy="360.44" r="1.45" fill="#d02a2a"/>
<circle cx="93.67" cy="245.52" r="1.45" fill="#3a6db4"/>
<circle cx="79.98" cy="285.14" r="1.45" fill="#3a6db4"/>
<circle cx="50.23" cy="340.01" r="1.45" fill="#d02a2a"/>
<circle cx="88.32" cy="352.81" r="1.45" fill="#d02a2a"/>
<circle cx="99.59" cy="308.81" r="1.45" fill="#3a6db4"/>
<circle cx="92.73" cy="312.89" r="1.45" fill="#3a6db4"/>
<circle cx="80.66" cy="331.72" r="1.45" fill="#d02a2a"/>
<circle cx="66.00" cy="263.00" r="1.45" fill="#d02a2a"/>
<circle cx="52.74" cy="357.05" r="1.45" fill="#d02a2a"/>
<circle cx="109.87" cy="298.63" r="1.45" fill="#3a6db4"/>
<circle cx="147.50" cy="277.00" r="1.45" fill="#3a6db4"/>
<circle cx="101.86" cy="331.80" r="1.45" fill="#d02a2a"/>
<circle cx="84.70" cy="313.23" r="1.45" fill="#3a6db4"/>
<circle cx="117.17" cy="316.51" r="1.45" fill="#3a6db4"/>
<circle cx="144.67" cy="299.47" r="1.45" fill="#3a6db4"/>
<circle cx="120.70" cy="315.00" r="1.45" fill="#3a6db4"/>
<circle cx="112.72" cy="270.05" r="1.45" fill="#3a6db4"/>
<circle cx="125.94" cy="263.43" r="1.45" fill="#3a6db4"/>
<circle cx="92.19" cy="325.21" r="1.45" fill="#d02a2a"/>
<circle cx="107.21" cy="316.51" r="1.45" fill="#3a6db4"/>
<circle cx="116.27" cy="299.81" r="1.45" fill="#3a6db4"/>
<circle cx="43.45" cy="357.95" r="1.45" fill="#d02a2a"/>
<circle cx="52.40" cy="323.04" r="1.45" fill="#d02a2a"/>
<circle cx="117.62" cy="292.16" r="1.45" fill="#3a6db4"/>
<circle cx="121.91" cy="281.97" r="1.45" fill="#3a6db4"/>
<circle cx="113.00" cy="334.60" r="1.45" fill="#d02a2a"/>
<circle cx="130.91" cy="287.73" r="1.45" fill="#3a6db4"/>
<circle cx="122.71" cy="293.47" r="1.45" fill="#3a6db4"/>
<circle cx="81.04" cy="278.52" r="1.45" fill="#3a6db4"/>
<circle cx="105.97" cy="333.81" r="1.45" fill="#d02a2a"/>
<circle cx="41.14" cy="366.19" r="1.45" fill="#d02a2a"/>
<circle cx="102.43" cy="342.90" r="1.45" fill="#d02a2a"/>
<circle cx="85.29" cy="268.10" r="1.45" fill="#3a6db4"/>
<circle cx="90.93" cy="305.02" r="1.45" fill="#3a6db4"/>
<circle cx="124.53" cy="305.51" r="1.45" fill="#3a6db4"/>
<circle cx="65.70" cy="316.52" r="1.45" fill="#d02a2a"/>
<circle cx="95.24" cy="268.25" r="1.45" fill="#3a6db4"/>
<circle cx="41.45" cy="368.95" r="1.45" fill="#d02a2a"/>
<circle cx="80.16" cy="288.22" r="1.45" fill="#3a6db4"/>
<circle cx="120.00" cy="334.40" r="1.45" fill="#d02a2a"/>
<circle cx="61.56" cy="355.79" r="1.45" fill="#d02a2a"/>
<circle cx="72.19" cy="361.01" r="1.45" fill="#d02a2a"/>
<circle cx="74.02" cy="259.44" r="1.45" fill="#3a6db4"/>
<circle cx="80.78" cy="283.17" r="1.45" fill="#3a6db4"/>
<circle cx="66.88" cy="296.15" r="1.45" fill="#3a6db4"/>
<circle cx="79.70" cy="315.74" r="1.45" fill="#3a6db4"/>
<circle cx="105.27" cy="315.12" r="1.45" fill="#3a6db4"/>
<circle cx="41.42" cy="353.54" r="1.45" fill="#d02a2a"/>
<circle cx="71.23" cy="267.77" r="1.45" fill="#3a6db4"/>
<circle cx="157.99" cy="313.76" r="1.45" fill="#3a6db4"/>
<circle cx="79.09" cy="349.31" r="1.45" fill="#d02a2a"/>
<circle cx="90.48" cy="350.40" r="1.45" fill="#d02a2a"/>
<circle cx="76.98" cy="338.54" r="1.45" fill="#d02a2a"/>
<circle cx="82.14" cy="333.45" r="1.45" fill="#d02a2a"/>
<circle cx="77.19" cy="301.16" r="1.45" fill="#3a6db4"/>
<circle cx="46.92" cy="344.77" r="1.45" fill="#d02a2a"/>
<circle cx="75.88" cy="282.44" r="1.45" fill="#3a6db4"/>
<circle cx="114.00" cy="356.50" r="1.45" fill="#d02a2a"/>
<circle cx="78.42" cy="368.63" r="1.45" fill="#d02a2a"/>
<circle cx="75.44" cy="314.05" r="1.45" fill="#d02a2a"/>
<circle cx="137.88" cy="272.44" r="1.45" fill="#3a6db4"/>
<circle cx="122.10" cy="279.73" r="1.45" fill="#3a6db4"/>
<circle cx="106.39" cy="305.21" r="1.45" fill="#3a6db4"/>
<circle cx="93.44" cy="346.64" r="1.45" fill="#d02a2a"/>
<circle cx="110.35" cy="284.04" r="1.45" fill="#3a6db4"/>
<circle cx="102.37" cy="310.93" r="1.45" fill="#3a6db4"/>
<circle cx="97.79" cy="339.14" r="1.45" fill="#d02a2a"/>
<circle cx="75.87" cy="367.60" r="1.45" fill="#d02a2a"/>
<circle cx="104.53" cy="348.80" r="1.45" fill="#d02a2a"/>
<circle cx="69.16" cy="354.87" r="1.45" fill="#d02a2a"/>
<circle cx="63.94" cy="331.34" r="1.45" fill="#d02a2a"/>
<circle cx="88.26" cy="248.66" r="1.45" fill="#3a6db4"/>
<circle cx="60.18" cy="383.92" r="1.45" fill="#d02a2a"/>
<circle cx="108.48" cy="282.44" r="1.45" fill="#3a6db4"/>
<circle cx="73.81" cy="298.45" r="1.45" fill="#3a6db4"/>
<circle cx="113.34" cy="295.36" r="1.45" fill="#3a6db4"/>
<circle cx="83.91" cy="247.85" r="1.45" fill="#3a6db4"/>
<circle cx="100.38" cy="341.49" r="1.45" fill="#d02a2a"/>
<circle cx="69.66" cy="287.72" r="1.45" fill="#3a6db4"/>
<circle cx="151.06" cy="313.86" r="1.45" fill="#3a6db4"/>
<circle cx="112.37" cy="277.63" r="1.45" fill="#3a6db4"/>
<circle cx="113.14" cy="279.99" r="1.45" fill="#3a6db4"/>
<circle cx="67.06" cy="322.51" r="1.45" fill="#d02a2a"/>
<circle cx="81.64" cy="330.03" r="1.45" fill="#d02a2a"/>
<circle cx="101.26" cy="289.72" r="1.45" fill="#3a6db4"/>
<circle cx="69.42" cy="329.21" r="1.45" fill="#d02a2a"/>
<circle cx="65.49" cy="362.39" r="1.45" fill="#d02a2a"/>
<circle cx="69.88" cy="358.62" r="1.45" fill="#d02a2a"/>
<circle cx="159.90" cy="312.58" r="1.45" fill="#3a6db4"/>
<circle cx="108.31" cy="275.20" r="1.45" fill="#3a6db4"/>
<circle cx="110.82" cy="333.32" r="1.45" fill="#d02a2a"/>
<circle cx="106.52" cy="350.23" r="1.45" fill="#d02a2a"/>
<circle cx="94.88" cy="342.80" r="1.45" fill="#d02a2a"/>
<circle cx="112.74" cy="284.56" r="1.45" fill="#3a6db4"/>
<circle cx="94.20" cy="282.48" r="1.45" fill="#3a6db4"/>
<circle cx="70.47" cy="296.30" r="1.45" fill="#3a6db4"/>
<circle cx="126.61" cy="281.77" r="1.45" fill="#3a6db4"/>
<circle cx="87.92" cy="275.72" r="1.45" fill="#3a6db4"/>
<circle cx="84.55" cy="291.08" r="1.45" fill="#3a6db4"/>
<circle cx="74.16" cy="320.26" r="1.45" fill="#d02a2a"/>
<circle cx="75.67" cy="260.66" r="1.45" fill="#3a6db4"/>
<circle cx="114.67" cy="262.31" r="1.45" fill="#3a6db4"/>
<circle cx="52.02" cy="367.62" r="1.45" fill="#d02a2a"/>
<circle cx="105.95" cy="275.55" r="1.45" fill="#3a6db4"/>
<circle cx="84.10" cy="306.87" r="1.45" fill="#3a6db4"/>
<circle cx="95.92" cy="249.71" r="1.45" fill="#3a6db4"/>
<circle cx="110.85" cy="294.61" r="1.45" fill="#3a6db4"/>
<circle cx="111.26" cy="312.42" r="1.45" fill="#3a6db4"/>
<circle cx="121.01" cy="304.73" r="1.45" fill="#3a6db4"/>
<circle cx="109.06" cy="317.81" r="1.45" fill="#d02a2a"/>
<circle cx="124.12" cy="295.14" r="1.45" fill="#3a6db4"/>
<circle cx="83.26" cy="273.22" r="1.45" fill="#3a6db4"/>
<circle cx="149.87" cy="308.71" r="1.45" fill="#3a6db4"/>
<circle cx="89.03" cy="347.90" r="1.45" fill="#d02a2a"/>
<circle cx="106.09" cy="281.97" r="1.45" fill="#3a6db4"/>
<circle cx="78.90" cy="318.89" r="1.45" fill="#d02a2a"/>
<circle cx="82.98" cy="282.33" r="1.45" fill="#3a6db4"/>
<circle cx="56.48" cy="354.40" r="1.45" fill="#d02a2a"/>
<circle cx="135.20" cy="265.60" r="1.45" fill="#3a6db4"/>
<circle cx="55.35" cy="380.45" r="1.45" fill="#d02a2a"/>
<circle cx="155.66" cy="308.54" r="1.45" fill="#3a6db4"/>
<circle cx="87.74" cy="332.20" r="1.45" fill="#d02a2a"/>
<circle cx="103.21" cy="347.32" r="1.45" fill="#d02a2a"/>
<circle cx="116.50" cy="324.80" r="1.45" fill="#3a6db4"/>
<circle cx="103.15" cy="272.12" r="1.45" fill="#3a6db4"/>
<circle cx="101.96" cy="285.81" r="1.45" fill="#3a6db4"/>
<circle cx="98.31" cy="262.09" r="1.45" fill="#3a6db4"/>
<circle cx="156.40" cy="314.97" r="1.45" fill="#3a6db4"/>
<circle cx="106.42" cy="327.20" r="1.45" fill="#3a6db4"/>
<circle cx="151.92" cy="304.93" r="1.45" fill="#3a6db4"/>
<circle cx="54.42" cy="374.83" r="1.45" fill="#d02a2a"/>
<circle cx="111.59" cy="286.58" r="1.45" fill="#3a6db4"/>
<circle cx="53.27" cy="352.80" r="1.45" fill="#d02a2a"/>
<circle cx="65.50" cy="275.70" r="1.45" fill="#d02a2a"/>
<circle cx="108.67" cy="335.29" r="1.45" fill="#d02a2a"/>
<circle cx="114.75" cy="308.76" r="1.45" fill="#3a6db4"/>
<circle cx="117.70" cy="311.48" r="1.45" fill="#3a6db4"/>
<circle cx="99.76" cy="275.75" r="1.45" fill="#3a6db4"/>
<circle cx="125.04" cy="279.54" r="1.45" fill="#3a6db4"/>
<circle cx="75.30" cy="263.90" r="1.45" fill="#d02a2a"/>
<circle cx="58.15" cy="369.76" r="1.45" fill="#d02a2a"/>
<circle cx="101.01" cy="259.11" r="1.45" fill="#3a6db4"/>
<circle cx="56.84" cy="367.79" r="1.45" fill="#d02a2a"/>
<circle cx="75.66" cy="372.19" r="1.45" fill="#d02a2a"/>
<circle cx="103.13" cy="327.13" r="1.45" fill="#d02a2a"/>
<circle cx="60.80" cy="270.00" r="1.45" fill="#d02a2a"/>
<circle cx="94.16" cy="316.05" r="1.45" fill="#3a6db4"/>
<circle cx="103.17" cy="316.72" r="1.45" fill="#3a6db4"/>
<circle cx="100.61" cy="333.76" r="1.45" fill="#d02a2a"/>
<circle cx="74.77" cy="338.26" r="1.45" fill="#d02a2a"/>
<circle cx="87.72" cy="350.84" r="1.45" fill="#d02a2a"/>
<circle cx="155.89" cy="311.99" r="1.45" fill="#3a6db4"/>
<circle cx="66.94" cy="304.42" r="1.45" fill="#3a6db4"/>
<circle cx="85.55" cy="305.12" r="1.45" fill="#3a6db4"/>
<circle cx="76.19" cy="279.94" r="1.45" fill="#3a6db4"/>
<circle cx="90.83" cy="331.30" r="1.45" fill="#d02a2a"/>
<circle cx="73.67" cy="311.71" r="1.45" fill="#d02a2a"/>
<circle cx="99.50" cy="295.66" r="1.45" fill="#3a6db4"/>
<circle cx="66.43" cy="354.69" r="1.45" fill="#d02a2a"/>
<circle cx="41.41" cy="357.71" r="1.45" fill="#d02a2a"/>
<circle cx="78.49" cy="365.78" r="1.45" fill="#d02a2a"/>
<circle cx="62.12" cy="336.42" r="1.45" fill="#d02a2a"/>
<circle cx="125.50" cy="333.20" r="1.45" fill="#d02a2a"/>
<circle cx="63.29" cy="371.61" r="1.45" fill="#d02a2a"/>
<circle cx="90.58" cy="286.05" r="1.45" fill="#3a6db4"/>
<circle cx="71.70" cy="335.05" r="1.45" fill="#d02a2a"/>
<circle cx="109.41" cy="340.66" r="1.45" fill="#d02a2a"/>
<circle cx="99.53" cy="280.35" r="1.45" fill="#3a6db4"/>
<circle cx="130.33" cy="281.19" r="1.45" fill="#3a6db4"/>
<circle cx="97.72" cy="341.07" r="1.45" fill="#d02a2a"/>
<circle cx="76.08" cy="264.56" r="1.45" fill="#3a6db4"/>
<circle cx="69.19" cy="352.77" r="1.45" fill="#d02a2a"/>
<circle cx="49.81" cy="368.97" r="1.45" fill="#d02a2a"/>
<circle cx="81.76" cy="316.41" r="1.45" fill="#3a6db4"/>
<circle cx="89.32" cy="306.75" r="1.45" fill="#3a6db4"/>
<circle cx="163.80" cy="304.00" r="1.45" fill="#3a6db4"/>
<circle cx="120.08" cy="278.30" r="1.45" fill="#3a6db4"/>
<circle cx="144.69" cy="301.83" r="1.45" fill="#3a6db4"/>
<circle cx="90.80" cy="352.76" r="1.45" fill="#d02a2a"/>
<circle cx="102.74" cy="329.29" r="1.45" fill="#d02a2a"/>
<circle cx="103.76" cy="274.26" r="1.45" fill="#3a6db4"/>
<circle cx="81.90" cy="349.97" r="1.45" fill="#d02a2a"/>
<circle cx="63.66" cy="379.28" r="1.45" fill="#d02a2a"/>
<circle cx="75.01" cy="316.04" r="1.45" fill="#d02a2a"/>
<circle cx="77.93" cy="298.35" r="1.45" fill="#3a6db4"/>
<circle cx="101.31" cy="345.54" r="1.45" fill="#d02a2a"/>
<circle cx="102.47" cy="350.60" r="1.45" fill="#d02a2a"/>
<circle cx="104.42" cy="335.52" r="1.45" fill="#d02a2a"/>
<circle cx="94.14" cy="324.19" r="1.45" fill="#d02a2a"/>
<circle cx="89.24" cy="262.12" r="1.45" fill="#3a6db4"/>
<circle cx="105.27" cy="302.36" r="1.45" fill="#3a6db4"/>
<circle cx="72.02" cy="375.98" r="1.45" fill="#d02a2a"/>
<circle cx="113.83" cy="292.95" r="1.45" fill="#3a6db4"/>
<circle cx="56.38" cy="347.84" r="1.45" fill="#d02a2a"/>
<circle cx="73.58" cy="340.12" r="1.45" fill="#d02a2a"/>
<circle cx="84.25" cy="303.48" r="1.45" fill="#3a6db4"/>
<circle cx="108.10" cy="331.10" r="1.45" fill="#d02a2a"/>
<circle cx="108.86" cy="285.73" r="1.45" fill="#3a6db4"/>
<circle cx="44.70" cy="341.39" r="1.45" fill="#d02a2a"/>
<circle cx="77.28" cy="333.92" r="1.45" fill="#d02a2a"/>
<circle cx="58.49" cy="338.61" r="1.45" fill="#d02a2a"/>
<circle cx="118.59" cy="283.35" r="1.45" fill="#3a6db4"/>
<circle cx="85.43" cy="355.93" r="1.45" fill="#d02a2a"/>
<circle cx="120.05" cy="306.48" r="1.45" fill="#3a6db4"/>
<circle cx="90.87" cy="314.31" r="1.45" fill="#3a6db4"/>
<circle cx="87.54" cy="310.49" r="1.45" fill="#3a6db4"/>
<circle cx="89.69" cy="328.77" r="1.45" fill="#d02a2a"/>
<circle cx="72.84" cy="309.81" r="1.45" fill="#d02a2a"/>
<circle cx="79.31" cy="356.73" r="1.45" fill="#d02a2a"/>
<circle cx="139.90" cy="363.00" r="1.45" fill="#d02a2a"/>
<circle cx="81.43" cy="309.99" r="1.45" fill="#3a6db4"/>
<circle cx="90.16" cy="323.76" r="1.45" fill="#d02a2a"/>
<circle cx="63.00" cy="264.60" r="1.45" fill="#d02a2a"/>
<circle cx="143.20" cy="351.00" r="1.45" fill="#3a6db4"/>
<circle cx="84.25" cy="347.71" r="1.45" fill="#d02a2a"/>
<circle cx="99.76" cy="350.26" r="1.45" fill="#d02a2a"/>
<circle cx="114.43" cy="310.88" r="1.45" fill="#3a6db4"/>
<circle cx="148.28" cy="299.72" r="1.45" fill="#3a6db4"/>
<circle cx="69.57" cy="377.28" r="1.45" fill="#d02a2a"/>
<circle cx="59.18" cy="356.52" r="1.45" fill="#d02a2a"/>
<circle cx="96.93" cy="295.07" r="1.45" fill="#3a6db4"/>
<circle cx="95.84" cy="347.96" r="1.45" fill="#d02a2a"/>
<circle cx="96.46" cy="270.31" r="1.45" fill="#3a6db4"/>
<circle cx="51.07" cy="352.82" r="1.45" fill="#d02a2a"/>
<circle cx="93.93" cy="348.66" r="1.45" fill="#d02a2a"/>
<circle cx="73.96" cy="285.48" r="1.45" fill="#3a6db4"/>
<circle cx="107.00" cy="325.15" r="1.45" fill="#3a6db4"/>
<circle cx="120.03" cy="269.02" r="1.45" fill="#3a6db4"/>
<circle cx="75.55" cy="323.40" r="1.45" fill="#d02a2a"/>
<circle cx="58.41" cy="352.48" r="1.45" fill="#d02a2a"/>
<circle cx="69.18" cy="262.74" r="1.45" fill="#3a6db4"/>
<circle cx="103.99" cy="299.13" r="1.45" fill="#3a6db4"/>
<circle cx="137.00" cy="300.00" r="1.45" fill="#3a6db4"/>
<circle cx="102.93" cy="276.20" r="1.45" fill="#3a6db4"/>
<circle cx="71.41" cy="353.39" r="1.45" fill="#d02a2a"/>
<circle cx="62.47" cy="383.32" r="1.45" fill="#d02a2a"/>
<circle cx="70.50" cy="282.18" r="1.45" fill="#3a6db4"/>
<circle cx="93.26" cy="334.59" r="1.45" fill="#d02a2a"/>
<circle cx="91.20" cy="343.93" r="1.45" fill="#d02a2a"/>
<circle cx="69.92" cy="310.70" r="1.45" fill="#d02a2a"/>
<circle cx="71.65" cy="304.27" r="1.45" fill="#3a6db4"/>
<circle cx="101.21" cy="315.97" r="1.45" fill="#3a6db4"/>
<circle cx="99.08" cy="256.01" r="1.45" fill="#3a6db4"/>
<circle cx="67.24" cy="375.71" r="1.45" fill="#d02a2a"/>
<circle cx="41.02" cy="355.67" r="1.45" fill="#d02a2a"/>
<circle cx="147.45" cy="304.08" r="1.45" fill="#3a6db4"/>
<circle cx="93.00" cy="248.30" r="1.45" fill="#3a6db4"/>
<circle cx="118.92" cy="276.36" r="1.45" fill="#3a6db4"/>
<circle cx="64.50" cy="272.80" r="1.45" fill="#d02a2a"/>
<circle cx="47.21" cy="348.64" r="1.45" fill="#d02a2a"/>
<circle cx="88.14" cy="358.80" r="1.45" fill="#d02a2a"/>
<circle cx="63.19" cy="388.05" r="1.45" fill="#d02a2a"/>
<circle cx="82.09" cy="347.04" r="1.45" fill="#d02a2a"/>
<circle cx="89.17" cy="309.10" r="1.45" fill="#3a6db4"/>
<circle cx="73.29" cy="372.66" r="1.45" fill="#d02a2a"/>
<circle cx="94.17" cy="318.73" r="1.45" fill="#3a6db4"/>
<circle cx="129.11" cy="303.54" r="1.45" fill="#3a6db4"/>
<circle cx="120.11" cy="311.39" r="1.45" fill="#3a6db4"/>
<circle cx="58.84" cy="359.91" r="1.45" fill="#d02a2a"/>
<circle cx="90.18" cy="249.25" r="1.45" fill="#3a6db4"/>
<circle cx="113.08" cy="307.19" r="1.45" fill="#3a6db4"/>
<circle cx="52.31" cy="354.86" r="1.45" fill="#d02a2a"/>
<circle cx="91.66" cy="288.53" r="1.45" fill="#3a6db4"/>
<circle cx="48.01" cy="370.31" r="1.45" fill="#d02a2a"/>
<circle cx="83.09" cy="322.11" r="1.45" fill="#d02a2a"/>
<circle cx="99.64" cy="305.04" r="1.45" fill="#3a6db4"/>
<circle cx="95.66" cy="300.36" r="1.45" fill="#3a6db4"/>
<circle cx="68.89" cy="338.67" r="1.45" fill="#d02a2a"/>
<circle cx="53.32" cy="347.21" r="1.45" fill="#d02a2a"/>
<circle cx="91.90" cy="278.63" r="1.45" fill="#3a6db4"/>
<circle cx="45.74" cy="367.39" r="1.45" fill="#d02a2a"/>
<circle cx="93.48" cy="344.59" r="1.45" fill="#d02a2a"/>
<circle cx="96.40" cy="308.00" r="1.45" fill="#d02a2a"/>
<circle cx="64.49" cy="309.78" r="1.45" fill="#d02a2a"/>
<circle cx="85.60" cy="337.88" r="1.45" fill="#d02a2a"/>
<circle cx="61.52" cy="368.84" r="1.45" fill="#d02a2a"/>
<circle cx="64.39" cy="374.56" r="1.45" fill="#d02a2a"/>
<circle cx="97.64" cy="283.26" r="1.45" fill="#3a6db4"/>
<circle cx="115.71" cy="302.01" r="1.45" fill="#3a6db4"/>
<circle cx="126.15" cy="292.70" r="1.45" fill="#3a6db4"/>
<circle cx="88.95" cy="313.34" r="1.45" fill="#3a6db4"/>
<circle cx="88.48" cy="330.34" r="1.45" fill="#d02a2a"/>
<circle cx="82.28" cy="269.82" r="1.45" fill="#3a6db4"/>
<circle cx="71.00" cy="274.50" r="1.45" fill="#d02a2a"/>
<circle cx="37.07" cy="351.76" r="1.45" fill="#d02a2a"/>
<circle cx="93.20" cy="250.51" r="1.45" fill="#3a6db4"/>
<circle cx="100.62" cy="329.29" r="1.45" fill="#d02a2a"/>
<circle cx="88.95" cy="343.29" r="1.45" fill="#d02a2a"/>
<circle cx="116.36" cy="293.93" r="1.45" fill="#3a6db4"/>
<circle cx="60.42" cy="305.97" r="1.45" fill="#d02a2a"/>
<circle cx="110.11" cy="274.14" r="1.45" fill="#3a6db4"/>
<circle cx="86.19" cy="288.72" r="1.45" fill="#3a6db4"/>
<circle cx="71.46" cy="378.38" r="1.45" fill="#d02a2a"/>
<circle cx="154.80" cy="287.70" r="1.45" fill="#3a6db4"/>
<circle cx="109.82" cy="280.93" r="1.45" fill="#3a6db4"/>
<circle cx="62.86" cy="364.41" r="1.45" fill="#d02a2a"/>
<circle cx="91.17" cy="254.96" r="1.45" fill="#3a6db4"/>
<circle cx="37.53" cy="355.84" r="1.45" fill="#d02a2a"/>
<circle cx="55.43" cy="364.97" r="1.45" fill="#d02a2a"/>
<circle cx="98.66" cy="268.34" r="1.45" fill="#3a6db4"/>
<circle cx="41.62" cy="349.87" r="1.45" fill="#d02a2a"/>
<circle cx="104.90" cy="285.85" r="1.45" fill="#3a6db4"/>
<circle cx="83.14" cy="254.21" r="1.45" fill="#3a6db4"/>
<circle cx="115.22" cy="287.14" r="1.45" fill="#3a6db4"/>
<circle cx="85.52" cy="316.89" r="1.45" fill="#d02a2a"/>
<circle cx="95.74" cy="338.88" r="1.45" fill="#d02a2a"/>
<circle cx="103.20" cy="331.10" r="1.45" fill="#3a6db4"/>
<circle cx="152.48" cy="315.40" r="1.45" fill="#3a6db4"/>
<circle cx="69.87" cy="323.08" r="1.45" fill="#d02a2a"/>
<circle cx="62.61" cy="338.91" r="1.45" fill="#d02a2a"/>
<circle cx="76.99" cy="276.10" r="1.45" fill="#3a6db4"/>
<circle cx="64.38" cy="297.59" r="1.45" fill="#d02a2a"/>
<circle cx="86.18" cy="296.84" r="1.45" fill="#3a6db4"/>
<circle cx="72.30" cy="264.30" r="1.45" fill="#d02a2a"/>
<circle cx="122.05" cy="313.57" r="1.45" fill="#3a6db4"/>
<circle cx="115.09" cy="255.51" r="1.45" fill="#3a6db4"/>
<circle cx="119.70" cy="285.10" r="1.45" fill="#3a6db4"/>
<circle cx="113.17" cy="334.52" r="1.45" fill="#d02a2a"/>
<circle cx="48.74" cy="352.74" r="1.45" fill="#d02a2a"/>
<circle cx="69.42" cy="374.81" r="1.45" fill="#d02a2a"/>
<circle cx="123.81" cy="285.94" r="1.45" fill="#3a6db4"/>
<circle cx="98.97" cy="258.31" r="1.45" fill="#3a6db4"/>
<circle cx="162.00" cy="314.60" r="1.45" fill="#d02a2a"/>
<circle cx="55.04" cy="342.12" r="1.45" fill="#d02a2a"/>
<circle cx="103.96" cy="266.40" r="1.45" fill="#3a6db4"/>
<circle cx="74.43" cy="361.75" r="1.45" fill="#d02a2a"/>
<circle cx="98.81" cy="330.81" r="1.45" fill="#d02a2a"/>
<circle cx="54.40" cy="363.28" r="1.45" fill="#d02a2a"/>
<circle cx="71.68" cy="371.60" r="1.45" fill="#d02a2a"/>
<circle cx="101.34" cy="264.14" r="1.45" fill="#3a6db4"/>
<circle cx="110.44" cy="336.52" r="1.45" fill="#d02a2a"/>
<circle cx="128.39" cy="293.66" r="1.45" fill="#3a6db4"/>
<circle cx="70.69" cy="356.55" r="1.45" fill="#d02a2a"/>
<circle cx="62.00" cy="276.00" r="1.45" fill="#d02a2a"/>
<circle cx="91.83" cy="280.71" r="1.45" fill="#3a6db4"/>
<circle cx="76.50" cy="319.62" r="1.45" fill="#d02a2a"/>
<circle cx="109.54" cy="252.54" r="1.45" fill="#3a6db4"/>
<circle cx="129.66" cy="301.32" r="1.45" fill="#3a6db4"/>
<circle cx="73.44" cy="289.66" r="1.45" fill="#3a6db4"/>
<circle cx="85.82" cy="262.26" r="1.45" fill="#3a6db4"/>
<circle cx="96.88" cy="258.95" r="1.45" fill="#3a6db4"/>
<circle cx="81.70" cy="300.23" r="1.45" fill="#3a6db4"/>
<circle cx="48.28" cy="364.90" r="1.45" fill="#d02a2a"/>
<circle cx="83.08" cy="328.28" r="1.45" fill="#d02a2a"/>
<circle cx="67.23" cy="348.09" r="1.45" fill="#d02a2a"/>
<circle cx="45.83" cy="346.65" r="1.45" fill="#d02a2a"/>
<circle cx="101.55" cy="308.50" r="1.45" fill="#3a6db4"/>
<circle cx="149.83" cy="311.20" r="1.45" fill="#3a6db4"/>
<circle cx="79.56" cy="333.49" r="1.45" fill="#d02a2a"/>
<circle cx="39.40" cy="350.86" r="1.45" fill="#d02a2a"/>
<circle cx="78.70" cy="342.78" r="1.45" fill="#d02a2a"/>
<circle cx="100.18" cy="300.54" r="1.45" fill="#3a6db4"/>
<circle cx="66.09" cy="339.93" r="1.45" fill="#d02a2a"/>
<circle cx="49.74" cy="373.96" r="1.45" fill="#d02a2a"/>
<circle cx="121.10" cy="276.36" r="1.45" fill="#3a6db4"/>
<circle cx="108.45" cy="344.80" r="1.45" fill="#d02a2a"/>
<circle cx="84.37" cy="326.83" r="1.45" fill="#d02a2a"/>
<circle cx="120.01" cy="280.86" r="1.45" fill="#3a6db4"/>
<circle cx="83.03" cy="278.34" r="1.45" fill="#3a6db4"/>
<circle cx="68.61" cy="333.95" r="1.45" fill="#d02a2a"/>
<circle cx="109.40" cy="300.92" r="1.45" fill="#3a6db4"/>
<circle cx="57.49" cy="346.11" r="1.45" fill="#d02a2a"/>
<circle cx="97.06" cy="332.91" r="1.45" fill="#d02a2a"/>
<circle cx="109.16" cy="346.81" r="1.45" fill="#d02a2a"/>
<circle cx="53.14" cy="314.34" r="1.45" fill="#d02a2a"/>
<circle cx="97.59" cy="320.10" r="1.45" fill="#3a6db4"/>
<circle cx="127.36" cy="305.03" r="1.45" fill="#3a6db4"/>
<circle cx="122.65" cy="306.22" r="1.45" fill="#3a6db4"/>
<circle cx="118.27" cy="314.70" r="1.45" fill="#3a6db4"/>
<circle cx="128.40" cy="299.73" r="1.45" fill="#3a6db4"/>
<circle cx="68.75" cy="280.92" r="1.45" fill="#3a6db4"/>
<circle cx="107.49" cy="319.47" r="1.45" fill="#3a6db4"/>
<circle cx="69.00" cy="266.60" r="1.45" fill="#d02a2a"/>
<circle cx="60.21" cy="361.27" r="1.45" fill="#d02a2a"/>
<circle cx="62.12" cy="297.75" r="1.45" fill="#3a6db4"/>
<circle cx="101.93" cy="266.48" r="1.45" fill="#3a6db4"/>
<circle cx="66.14" cy="327.69" r="1.45" fill="#d02a2a"/>
<circle cx="148.74" cy="306.33" r="1.45" fill="#3a6db4"/>
<circle cx="78.17" cy="359.50" r="1.45" fill="#d02a2a"/>
<circle cx="55.41" cy="308.65" r="1.45" fill="#d02a2a"/>
<circle cx="74.05" cy="369.69" r="1.45" fill="#d02a2a"/>
<circle cx="42.71" cy="342.83" r="1.45" fill="#d02a2a"/>
<circle cx="93.07" cy="322.26" r="1.45" fill="#d02a2a"/>
<circle cx="47.13" cy="362.05" r="1.45" fill="#d02a2a"/>
<circle cx="87.10" cy="297.60" r="1.45" fill="#3a6db4"/>
<circle cx="65.65" cy="369.45" r="1.45" fill="#d02a2a"/>
<circle cx="68.33" cy="292.05" r="1.45" fill="#3a6db4"/>
<circle cx="120.03" cy="290.34" r="1.45" fill="#3a6db4"/>
<circle cx="94.64" cy="259.68" r="1.45" fill="#3a6db4"/>
<circle cx="88.66" cy="334.81" r="1.45" fill="#d02a2a"/>
<circle cx="76.67" cy="331.38" r="1.45" fill="#d02a2a"/>
<circle cx="80.90" cy="339.08" r="1.45" fill="#d02a2a"/>
<circle cx="61.45" cy="359.07" r="1.45" fill="#d02a2a"/>
<circle cx="147.60" cy="351.00" r="1.45" fill="#3a6db4"/>
<circle cx="66.29" cy="335.17" r="1.45" fill="#d02a2a"/>
<circle cx="104.78" cy="325.10" r="1.45" fill="#d02a2a"/>
<circle cx="97.36" cy="302.51" r="1.45" fill="#3a6db4"/>
<circle cx="83.00" cy="247.80" r="1.45" fill="#d02a2a"/>
<circle cx="76.75" cy="272.37" r="1.45" fill="#3a6db4"/>
<circle cx="69.63" cy="302.01" r="1.45" fill="#d02a2a"/>
<circle cx="96.58" cy="327.85" r="1.45" fill="#d02a2a"/>
<circle cx="41.20" cy="361.96" r="1.45" fill="#d02a2a"/>
<circle cx="73.50" cy="269.90" r="1.45" fill="#3a6db4"/>
<circle cx="99.56" cy="282.70" r="1.45" fill="#3a6db4"/>
<circle cx="52.97" cy="372.38" r="1.45" fill="#d02a2a"/>
<circle cx="98.38" cy="352.98" r="1.45" fill="#d02a2a"/>
<circle cx="110.83" cy="345.24" r="1.45" fill="#d02a2a"/>
<circle cx="103.83" cy="294.94" r="1.45" fill="#3a6db4"/>
<circle cx="104.15" cy="331.59" r="1.45" fill="#d02a2a"/>
<circle cx="79.26" cy="274.80" r="1.45" fill="#3a6db4"/>
<circle cx="93.19" cy="306.16" r="1.45" fill="#3a6db4"/>
<circle cx="108.94" cy="331.52" r="1.45" fill="#d02a2a"/>
<circle cx="83.90" cy="332.34" r="1.45" fill="#d02a2a"/>
<circle cx="105.40" cy="312.57" r="1.45" fill="#3a6db4"/>
<circle cx="101.56" cy="283.82" r="1.45" fill="#3a6db4"/>
<circle cx="51.86" cy="341.91" r="1.45" fill="#d02a2a"/>
<circle cx="122.15" cy="273.63" r="1.45" fill="#3a6db4"/>
<circle cx="53.89" cy="378.85" r="1.45" fill="#d02a2a"/>
<circle cx="94.76" cy="275.57" r="1.45" fill="#3a6db4"/>
<circle cx="71.75" cy="320.11" r="1.45" fill="#d02a2a"/>
<circle cx="64.65" cy="334.14" r="1.45" fill="#d02a2a"/>
<circle cx="140.20" cy="303.90" r="1.45" fill="#d02a2a"/>
<circle cx="94.19" cy="303.02" r="1.45" fill="#3a6db4"/>
<circle cx="71.11" cy="351.38" r="1.45" fill="#d02a2a"/>
<circle cx="110.00" cy="343.20" r="1.45" fill="#d02a2a"/>
<circle cx="95.46" cy="304.56" r="1.45" fill="#3a6db4"/>
<circle cx="86.31" cy="249.99" r="1.45" fill="#3a6db4"/>
<circle cx="93.26" cy="332.35" r="1.45" fill="#d02a2a"/>
<circle cx="81.23" cy="274.03" r="1.45" fill="#3a6db4"/>
<circle cx="69.87" cy="270.99" r="1.45" fill="#3a6db4"/>
<circle cx="105.33" cy="317.78" r="1.45" fill="#3a6db4"/>
<circle cx="104.27" cy="288.10" r="1.45" fill="#3a6db4"/>
<circle cx="96.10" cy="252.95" r="1.45" fill="#3a6db4"/>
<circle cx="92.02" cy="266.05" r="1.45" fill="#3a6db4"/>
<circle cx="106.73" cy="250.81" r="1.45" fill="#3a6db4"/>
<circle cx="88.47" cy="289.92" r="1.45" fill="#3a6db4"/>
<circle cx="84.26" cy="286.23" r="1.45" fill="#3a6db4"/>
<circle cx="89.76" cy="357.20" r="1.45" fill="#d02a2a"/>
<circle cx="69.35" cy="313.85" r="1.45" fill="#d02a2a"/>
<circle cx="98.02" cy="254.26" r="1.45" fill="#3a6db4"/>
<circle cx="115.27" cy="291.48" r="1.45" fill="#3a6db4"/>
<circle cx="82.13" cy="362.90" r="1.45" fill="#d02a2a"/>
<circle cx="94.56" cy="255.39" r="1.45" fill="#3a6db4"/>
<circle cx="91.24" cy="251.67" r="1.45" fill="#3a6db4"/>
<circle cx="112.28" cy="316.01" r="1.45" fill="#3a6db4"/>
<circle cx="97.63" cy="304.87" r="1.45" fill="#3a6db4"/>
<circle cx="108.27" cy="295.56" r="1.45" fill="#3a6db4"/>
<circle cx="128.08" cy="287.64" r="1.45" fill="#3a6db4"/>
<circle cx="127.21" cy="283.91" r="1.45" fill="#3a6db4"/>
<circle cx="69.89" cy="276.67" r="1.45" fill="#3a6db4"/>
<circle cx="84.86" cy="323.25" r="1.45" fill="#d02a2a"/>
<circle cx="149.64" cy="301.23" r="1.45" fill="#3a6db4"/>
<circle cx="78.33" cy="266.85" r="1.45" fill="#3a6db4"/>
<circle cx="81.47" cy="344.22" r="1.45" fill="#d02a2a"/>
<circle cx="96.49" cy="285.35" r="1.45" fill="#3a6db4"/>
<circle cx="58.42" cy="380.17" r="1.45" fill="#d02a2a"/>
<circle cx="57.54" cy="358.35" r="1.45" fill="#d02a2a"/>
<circle cx="81.46" cy="303.77" r="1.45" fill="#3a6db4"/>
<circle cx="59.91" cy="348.34" r="1.45" fill="#d02a2a"/>
<circle cx="67.84" cy="378.17" r="1.45" fill="#d02a2a"/>
<circle cx="105.15" cy="291.24" r="1.45" fill="#3a6db4"/>
<circle cx="72.95" cy="344.63" r="1.45" fill="#d02a2a"/>
<circle cx="56.50" cy="360.04" r="1.45" fill="#d02a2a"/>
<circle cx="79.83" cy="341.18" r="1.45" fill="#d02a2a"/>
<circle cx="42.24" cy="347.44" r="1.45" fill="#d02a2a"/>
<circle cx="57.45" cy="387.24" r="1.45" fill="#d02a2a"/>
<circle cx="56.73" cy="382.09" r="1.45" fill="#d02a2a"/>
<circle cx="76.10" cy="326.35" r="1.45" fill="#d02a2a"/>
<circle cx="39.28" cy="348.61" r="1.45" fill="#d02a2a"/>
<circle cx="114.69" cy="278.25" r="1.45" fill="#3a6db4"/>
<circle cx="74.05" cy="265.44" r="1.45" fill="#3a6db4"/>
<circle cx="61.19" cy="363.40" r="1.45" fill="#d02a2a"/>
<circle cx="121.68" cy="298.60" r="1.45" fill="#3a6db4"/>
<circle cx="126.25" cy="286.20" r="1.45" fill="#3a6db4"/>
<circle cx="106.22" cy="330.85" r="1.45" fill="#d02a2a"/>
<circle cx="79.28" cy="329.78" r="1.45" fill="#d02a2a"/>
<circle cx="39.25" cy="358.80" r="1.45" fill="#d02a2a"/>
<circle cx="81.50" cy="263.90" r="1.45" fill="#d02a2a"/>
<circle cx="95.94" cy="317.11" r="1.45" fill="#3a6db4"/>
<circle cx="141.00" cy="281.10" r="1.45" fill="#3a6db4"/>
<circle cx="90.34" cy="277.32" r="1.45" fill="#3a6db4"/>
<circle cx="92.91" cy="351.06" r="1.45" fill="#d02a2a"/>
<circle cx="127.79" cy="279.78" r="1.45" fill="#3a6db4"/>
<circle cx="127.02" cy="303.00" r="1.45" fill="#3a6db4"/>
<circle cx="72.19" cy="291.90" r="1.45" fill="#3a6db4"/>
<circle cx="47.67" cy="350.99" r="1.45" fill="#d02a2a"/>
<circle cx="111.94" cy="328.54" r="1.45" fill="#d02a2a"/>
<circle cx="52.58" cy="340.02" r="1.45" fill="#d02a2a"/>
<circle cx="64.73" cy="346.84" r="1.45" fill="#d02a2a"/>
<circle cx="86.23" cy="282.48" r="1.45" fill="#3a6db4"/>
<circle cx="60.89" cy="370.72" r="1.45" fill="#d02a2a"/>
<circle cx="86.43" cy="342.66" r="1.45" fill="#d02a2a"/>
<circle cx="71.26" cy="312.58" r="1.45" fill="#d02a2a"/>
<circle cx="134.70" cy="306.00" r="1.45" fill="#3a6db4"/>
<circle cx="53.20" cy="360.43" r="1.45" fill="#d02a2a"/>
<circle cx="85.02" cy="259.66" r="1.45" fill="#3a6db4"/>
<circle cx="80.72" cy="256.74" r="1.45" fill="#3a6db4"/>
<circle cx="68.27" cy="283.45" r="1.45" fill="#3a6db4"/>
<circle cx="68.03" cy="294.04" r="1.45" fill="#3a6db4"/>
<circle cx="91.85" cy="357.24" r="1.45" fill="#d02a2a"/>
<circle cx="58.85" cy="385.39" r="1.45" fill="#d02a2a"/>
<circle cx="69.19" cy="320.33" r="1.45" fill="#d02a2a"/>
<circle cx="89.05" cy="303.64" r="1.45" fill="#3a6db4"/>
<circle cx="49.09" cy="376.52" r="1.45" fill="#d02a2a"/>
<circle cx="70.35" cy="264.76" r="1.45" fill="#3a6db4"/>
<circle cx="93.11" cy="269.68" r="1.45" fill="#3a6db4"/>
<circle cx="45.39" cy="358.59" r="1.45" fill="#d02a2a"/>
<circle cx="100.17" cy="343.63" r="1.45" fill="#d02a2a"/>
<circle cx="84.35" cy="350.54" r="1.45" fill="#d02a2a"/>
<circle cx="94.93" cy="333.39" r="1.45" fill="#d02a2a"/>
<circle cx="73.24" cy="351.75" r="1.45" fill="#d02a2a"/>
<circle cx="82.74" cy="341.43" r="1.45" fill="#d02a2a"/>
<circle cx="61.30" cy="271.50" r="1.45" fill="#d02a2a"/>
<circle cx="96.16" cy="265.31" r="1.45" fill="#3a6db4"/>
<circle cx="77.83" cy="262.97" r="1.45" fill="#3a6db4"/>
<circle cx="121.82" cy="284.90" r="1.45" fill="#3a6db4"/>
<circle cx="55.64" cy="377.89" r="1.45" fill="#d02a2a"/>
<circle cx="106.42" cy="335.85" r="1.45" fill="#d02a2a"/>
<circle cx="54.86" cy="383.90" r="1.45" fill="#d02a2a"/>
<circle cx="84.39" cy="357.64" r="1.45" fill="#d02a2a"/>
<circle cx="104.09" cy="277.98" r="1.45" fill="#3a6db4"/>
<circle cx="144.30" cy="362.00" r="1.45" fill="#d02a2a"/>
<circle cx="98.15" cy="299.82" r="1.45" fill="#3a6db4"/>
<circle cx="70.67" cy="365.45" r="1.45" fill="#d02a2a"/>
<circle cx="73.99" cy="335.45" r="1.45" fill="#d02a2a"/>
<circle cx="83.56" cy="339.03" r="1.45" fill="#d02a2a"/>
<circle cx="108.92" cy="305.02" r="1.45" fill="#3a6db4"/>
<circle cx="99.56" cy="285.07" r="1.45" fill="#3a6db4"/>
<circle cx="79.21" cy="310.44" r="1.45" fill="#3a6db4"/>
<circle cx="42.21" cy="370.74" r="1.45" fill="#d02a2a"/>
<circle cx="101.73" cy="348.71" r="1.45" fill="#d02a2a"/>
<circle cx="121.40" cy="287.33" r="1.45" fill="#3a6db4"/>
<circle cx="53.03" cy="382.42" r="1.45" fill="#d02a2a"/>
<circle cx="90.15" cy="291.17" r="1.45" fill="#3a6db4"/>
<circle cx="51.86" cy="344.10" r="1.45" fill="#d02a2a"/>
<circle cx="70.40" cy="264.50" r="1.45" fill="#d02a2a"/>
<circle cx="66.68" cy="371.97" r="1.45" fill="#d02a2a"/>
<circle cx="69.00" cy="263.10" r="1.45" fill="#3a6db4"/>
<circle cx="39.04" cy="344.53" r="1.45" fill="#d02a2a"/>
<circle cx="56.76" cy="356.30" r="1.45" fill="#d02a2a"/>
<circle cx="53.38" cy="316.83" r="1.45" fill="#d02a2a"/>
<circle cx="61.06" cy="389.47" r="1.45" fill="#d02a2a"/>
<circle cx="55.07" cy="351.64" r="1.45" fill="#d02a2a"/>
<circle cx="38.56" cy="361.60" r="1.45" fill="#d02a2a"/>
<circle cx="74.46" cy="300.47" r="1.45" fill="#3a6db4"/>
<circle cx="45.80" cy="370.08" r="1.45" fill="#d02a2a"/>
<circle cx="70.04" cy="278.84" r="1.45" fill="#3a6db4"/>
<circle cx="94.39" cy="340.37" r="1.45" fill="#d02a2a"/>
<circle cx="82.04" cy="314.29" r="1.45" fill="#d02a2a"/>
<circle cx="118.79" cy="308.77" r="1.45" fill="#3a6db4"/>
<circle cx="66.07" cy="332.56" r="1.45" fill="#d02a2a"/>
<circle cx="59.54" cy="364.44" r="1.45" fill="#d02a2a"/>
<circle cx="98.89" cy="271.12" r="1.45" fill="#3a6db4"/>
<circle cx="82.39" cy="357.60" r="1.45" fill="#d02a2a"/>
<circle cx="84.18" cy="293.27" r="1.45" fill="#3a6db4"/>
<circle cx="78.74" cy="258.35" r="1.45" fill="#3a6db4"/>
<circle cx="106.13" cy="347.25" r="1.45" fill="#d02a2a"/>
<circle cx="61.31" cy="377.41" r="1.45" fill="#d02a2a"/>
<circle cx="97.33" cy="337.25" r="1.45" fill="#d02a2a"/>
<circle cx="85.69" cy="340.56" r="1.45" fill="#d02a2a"/>
<circle cx="96.25" cy="247.54" r="1.45" fill="#3a6db4"/>
<circle cx="91.12" cy="316.39" r="1.45" fill="#3a6db4"/>
<circle cx="96.20" cy="325.50" r="1.45" fill="#3a6db4"/>
<circle cx="151.93" cy="309.92" r="1.45" fill="#3a6db4"/>
<circle cx="64.49" cy="354.56" r="1.45" fill="#d02a2a"/>
<circle cx="73.92" cy="364.52" r="1.45" fill="#d02a2a"/>
<circle cx="165.40" cy="308.90" r="1.45" fill="#3a6db4"/>
<circle cx="59.59" cy="367.09" r="1.45" fill="#d02a2a"/>
<circle cx="96.04" cy="291.12" r="1.45" fill="#3a6db4"/>
</g>
<circle cx="104.90" cy="376.20" r="0.95" fill="#3a6db4"/>
<text x="107.40" y="377.80" font-size="9.5" text-anchor="start" font-weight="normal" font-style="normal" fill="#000" >mac_PTGS2</text>
<text x="161.90" y="374.60" font-size="6.2" text-anchor="start" font-weight="normal" font-style="normal" fill="#000" >+</text>
<circle cx="104.90" cy="388.00" r="0.95" fill="#d42b2b"/>
<text x="107.40" y="390.00" font-size="9.5" text-anchor="start" font-weight="normal" font-style="normal" fill="#000" >mac_C1q</text>
<text x="148.10" y="386.80" font-size="6.2" text-anchor="start" font-weight="normal" font-style="normal" fill="#000" >+</text>
<text x="186.60" y="225.50" font-size="11.5" text-anchor="start" font-weight="bold" font-style="normal" fill="#000" >D</text>
<text x="311.30" y="225.60" font-size="9.5" text-anchor="middle" font-weight="normal" font-style="italic" fill="#000" >Trmt61a</text>
<line x1="222.60" y1="240.40" x2="222.60" y2="396.90" stroke="#8a8a8a" stroke-width="1.3"/>
<line x1="222.00" y1="396.30" x2="393.90" y2="396.30" stroke="#8a8a8a" stroke-width="1.3"/>
<line x1="220.90" y1="253.40" x2="222.60" y2="253.40" stroke="#8a8a8a" stroke-width="0.8"/>
<text x="219.70" y="257.60" font-size="9.5" text-anchor="end" font-weight="normal" font-style="normal" fill="#000" >30</text>
<line x1="220.90" y1="282.30" x2="222.60" y2="282.30" stroke="#8a8a8a" stroke-width="0.8"/>
<text x="219.70" y="286.50" font-size="9.5" text-anchor="end" font-weight="normal" font-style="normal" fill="#000" >20</text>
<line x1="220.90" y1="311.10" x2="222.60" y2="311.10" stroke="#8a8a8a" stroke-width="0.8"/>
<text x="219.70" y="315.30" font-size="9.5" text-anchor="end" font-weight="normal" font-style="normal" fill="#000" >10</text>
<line x1="220.90" y1="340.20" x2="222.60" y2="340.20" stroke="#8a8a8a" stroke-width="0.8"/>
<text x="219.70" y="344.40" font-size="9.5" text-anchor="end" font-weight="normal" font-style="normal" fill="#000" >0</text>
<line x1="220.90" y1="369.70" x2="222.60" y2="369.70" stroke="#8a8a8a" stroke-width="0.8"/>
<text x="219.70" y="373.90" font-size="9.5" text-anchor="end" font-weight="normal" font-style="normal" fill="#000" >−10</text>
<line x1="273.70" y1="396.30" x2="273.70" y2="398.10" stroke="#8a8a8a" stroke-width="0.8"/>
<text x="272.00" y="412.50" font-size="9.5" text-anchor="middle" font-weight="normal" font-style="normal" fill="#000" >−20</text>
<line x1="331.50" y1="396.30" x2="331.50" y2="398.10" stroke="#8a8a8a" stroke-width="0.8"/>
<text x="329.20" y="412.50" font-size="9.5" text-anchor="middle" font-weight="normal" font-style="normal" fill="#000" >0</text>
<line x1="388.30" y1="396.30" x2="388.30" y2="398.10" stroke="#8a8a8a" stroke-width="0.8"/>
<text x="387.50" y="412.50" font-size="9.5" text-anchor="middle" font-weight="normal" font-style="normal" fill="#000" >20</text>
<text x="327.65" y="426.40" font-size="9.5" text-anchor="middle" font-weight="normal" font-style="normal" fill="#000" >tSNE_1</text>
<text transform="translate(203.7,313.4) rotate(-90)" font-size="9.5" text-anchor="middle" fill="#000">tSNE_2</text>
<g>
<circle cx="269.03" cy="291.24" r="1.60" fill="#ebebeb"/>
<circle cx="275.00" cy="265.41" r="1.60" fill="#ebebeb"/>
<circle cx="336.11" cy="286.34" r="1.60" fill="#ebebeb"/>
<circle cx="287.19" cy="298.26" r="1.60" fill="#ebebeb"/>
<circle cx="306.49" cy="312.81" r="1.60" fill="#ebebeb"/>
<circle cx="318.59" cy="312.12" r="1.60" fill="#ebebeb"/>
<circle cx="245.15" cy="373.33" r="1.60" fill="#ebebeb"/>
<circle cx="289.25" cy="261.44" r="1.60" fill="#ebebeb"/>
<circle cx="356.49" cy="294.38" r="1.60" fill="#ebebeb"/>
<circle cx="321.40" cy="284.95" r="1.60" fill="#ebebeb"/>
<circle cx="302.68" cy="265.30" r="1.60" fill="#ebebeb"/>
<circle cx="269.65" cy="317.81" r="1.60" fill="#ebebeb"/>
<circle cx="334.89" cy="305.08" r="1.60" fill="#ebebeb"/>
<circle cx="249.76" cy="347.13" r="1.60" fill="#ebebeb"/>
<circle cx="287.82" cy="256.21" r="1.60" fill="#ebebeb"/>
<circle cx="291.81" cy="351.40" r="1.60" fill="#ebebeb"/>
<circle cx="305.27" cy="281.97" r="1.60" fill="#ebebeb"/>
<circle cx="312.50" cy="341.01" r="1.60" fill="#ebebeb"/>
<circle cx="375.83" cy="308.50" r="1.60" fill="#ebebeb"/>
<circle cx="268.85" cy="379.87" r="1.60" fill="#ebebeb"/>
<circle cx="320.67" cy="281.71" r="1.60" fill="#ebebeb"/>
<circle cx="280.69" cy="345.97" r="1.60" fill="#ebebeb"/>
<circle cx="317.76" cy="295.56" r="1.60" fill="#ebebeb"/>
<circle cx="334.75" cy="312.62" r="1.60" fill="#ebebeb"/>
<circle cx="258.23" cy="360.62" r="1.60" fill="#ebebeb"/>
<circle cx="334.89" cy="265.62" r="1.60" fill="#ebebeb"/>
<circle cx="291.19" cy="251.98" r="1.60" fill="#ebebeb"/>
<circle cx="255.19" cy="339.60" r="1.60" fill="#ebebeb"/>
<circle cx="328.25" cy="287.41" r="1.60" fill="#ebebeb"/>
<circle cx="292.19" cy="308.66" r="1.60" fill="#ebebeb"/>
<circle cx="275.63" cy="364.79" r="1.60" fill="#ebebeb"/>
<circle cx="292.17" cy="303.81" r="1.60" fill="#ebebeb"/>
<circle cx="284.60" cy="279.64" r="1.60" fill="#ebebeb"/>
<circle cx="283.77" cy="302.10" r="1.60" fill="#ebebeb"/>
<circle cx="339.25" cy="296.92" r="1.60" fill="#ebebeb"/>
<circle cx="315.08" cy="276.49" r="1.60" fill="#ebebeb"/>
<circle cx="257.76" cy="340.42" r="1.60" fill="#ebebeb"/>
<circle cx="301.96" cy="312.52" r="1.60" fill="#ebebeb"/>
<circle cx="284.69" cy="321.62" r="1.60" fill="#ebebeb"/>
<circle cx="284.02" cy="267.24" r="1.60" fill="#ebebeb"/>
<circle cx="265.92" cy="297.19" r="1.60" fill="#ebebeb"/>
<circle cx="315.79" cy="338.26" r="1.60" fill="#ebebeb"/>
<circle cx="344.65" cy="286.93" r="1.60" fill="#ebebeb"/>
<circle cx="300.01" cy="295.58" r="1.60" fill="#ebebeb"/>
<circle cx="299.34" cy="352.49" r="1.60" fill="#ebebeb"/>
<circle cx="308.40" cy="318.78" r="1.60" fill="#ebebeb"/>
<circle cx="291.34" cy="348.25" r="1.60" fill="#ebebeb"/>
<circle cx="269.60" cy="314.03" r="1.60" fill="#ebebeb"/>
<circle cx="324.56" cy="291.11" r="1.60" fill="#ebebeb"/>
<circle cx="242.34" cy="369.97" r="1.60" fill="#ebebeb"/>
<circle cx="273.58" cy="276.79" r="1.60" fill="#ebebeb"/>
<circle cx="306.33" cy="317.33" r="1.60" fill="#ebebeb"/>
<circle cx="307.00" cy="293.14" r="1.60" fill="#ebebeb"/>
<circle cx="283.09" cy="294.36" r="1.60" fill="#ebebeb"/>
<circle cx="311.71" cy="282.86" r="1.60" fill="#ebebeb"/>
<circle cx="255.24" cy="319.21" r="1.60" fill="#ebebeb"/>
<circle cx="279.49" cy="352.79" r="1.60" fill="#ebebeb"/>
<circle cx="235.76" cy="364.32" r="1.60" fill="#ebebeb"/>
<circle cx="273.22" cy="333.16" r="1.60" fill="#ebebeb"/>
<circle cx="304.55" cy="277.55" r="1.60" fill="#ebebeb"/>
<circle cx="301.03" cy="281.18" r="1.60" fill="#ebebeb"/>
<circle cx="282.03" cy="296.07" r="1.60" fill="#ebebeb"/>
<circle cx="266.54" cy="323.96" r="1.60" fill="#ebebeb"/>
<circle cx="246.17" cy="340.17" r="1.60" fill="#ebebeb"/>
<circle cx="276.34" cy="331.56" r="1.60" fill="#ebebeb"/>
<circle cx="301.22" cy="299.02" r="1.60" fill="#ebebeb"/>
<circle cx="274.75" cy="287.44" r="1.60" fill="#ebebeb"/>
<circle cx="259.14" cy="379.60" r="1.60" fill="#ebebeb"/>
<circle cx="297.85" cy="285.46" r="1.60" fill="#ebebeb"/>
<circle cx="292.13" cy="346.42" r="1.60" fill="#ebebeb"/>
<circle cx="362.91" cy="302.06" r="1.60" fill="#ebebeb"/>
<circle cx="247.69" cy="353.86" r="1.60" fill="#ebebeb"/>
<circle cx="280.76" cy="340.42" r="1.60" fill="#ebebeb"/>
<circle cx="308.68" cy="294.80" r="1.60" fill="#ebebeb"/>
<circle cx="278.68" cy="334.54" r="1.60" fill="#ebebeb"/>
<circle cx="266.05" cy="357.34" r="1.60" fill="#ebebeb"/>
<circle cx="276.79" cy="333.49" r="1.60" fill="#ebebeb"/>
<circle cx="275.94" cy="341.74" r="1.60" fill="#ebebeb"/>
<circle cx="291.86" cy="325.49" r="1.60" fill="#ebebeb"/>
<circle cx="305.83" cy="289.03" r="1.60" fill="#ebebeb"/>
<circle cx="318.68" cy="280.62" r="1.60" fill="#ebebeb"/>
<circle cx="288.85" cy="301.63" r="1.60" fill="#ebebeb"/>
<circle cx="272.97" cy="326.57" r="1.60" fill="#ebebeb"/>
<circle cx="325.91" cy="275.84" r="1.60" fill="#ebebeb"/>
<circle cx="377.67" cy="317.64" r="1.60" fill="#ebebeb"/>
<circle cx="276.88" cy="281.76" r="1.60" fill="#ebebeb"/>
<circle cx="332.45" cy="314.65" r="1.60" fill="#ebebeb"/>
<circle cx="263.49" cy="344.69" r="1.60" fill="#ebebeb"/>
<circle cx="304.40" cy="314.87" r="1.60" fill="#ebebeb"/>
<circle cx="294.13" cy="340.43" r="1.60" fill="#ebebeb"/>
<circle cx="265.57" cy="314.87" r="1.60" fill="#ebebeb"/>
<circle cx="300.65" cy="268.82" r="1.60" fill="#ebebeb"/>
<circle cx="274.25" cy="291.23" r="1.60" fill="#ebebeb"/>
<circle cx="277.61" cy="308.55" r="1.60" fill="#ebebeb"/>
<circle cx="281.94" cy="328.04" r="1.60" fill="#ebebeb"/>
<circle cx="309.76" cy="276.53" r="1.60" fill="#ebebeb"/>
<circle cx="330.69" cy="300.78" r="1.60" fill="#ebebeb"/>
<circle cx="266.36" cy="380.44" r="1.60" fill="#ebebeb"/>
<circle cx="294.77" cy="283.90" r="1.60" fill="#ebebeb"/>
<circle cx="375.40" cy="317.70" r="1.60" fill="#ebebeb"/>
<circle cx="344.34" cy="299.79" r="1.60" fill="#ebebeb"/>
<circle cx="268.42" cy="320.38" r="1.60" fill="#ebebeb"/>
<circle cx="257.32" cy="374.02" r="1.60" fill="#ebebeb"/>
<circle cx="315.51" cy="296.56" r="1.60" fill="#ebebeb"/>
<circle cx="263.64" cy="271.46" r="1.60" fill="#ebebeb"/>
<circle cx="282.25" cy="281.63" r="1.60" fill="#ebebeb"/>
<circle cx="249.92" cy="373.49" r="1.60" fill="#ebebeb"/>
<circle cx="300.65" cy="327.45" r="1.60" fill="#ebebeb"/>
<circle cx="271.32" cy="307.15" r="1.60" fill="#ebebeb"/>
<circle cx="270.23" cy="268.42" r="1.60" fill="#ebebeb"/>
<circle cx="273.00" cy="308.89" r="1.60" fill="#ebebeb"/>
<circle cx="256.01" cy="343.93" r="1.60" fill="#ebebeb"/>
<circle cx="323.55" cy="337.01" r="1.60" fill="#ebebeb"/>
<circle cx="275.66" cy="323.90" r="1.60" fill="#ebebeb"/>
<circle cx="299.18" cy="287.23" r="1.60" fill="#ebebeb"/>
<circle cx="270.81" cy="336.22" r="1.60" fill="#ebebeb"/>
<circle cx="280.52" cy="318.13" r="1.60" fill="#ebebeb"/>
<circle cx="276.62" cy="306.43" r="1.60" fill="#ebebeb"/>
<circle cx="293.26" cy="306.99" r="1.60" fill="#ebebeb"/>
<circle cx="286.38" cy="308.91" r="1.60" fill="#ebebeb"/>
<circle cx="254.49" cy="321.66" r="1.60" fill="#ebebeb"/>
<circle cx="298.30" cy="319.20" r="1.60" fill="#ebebeb"/>
<circle cx="291.87" cy="293.96" r="1.60" fill="#ebebeb"/>
<circle cx="323.97" cy="276.94" r="1.60" fill="#ebebeb"/>
<circle cx="327.75" cy="283.73" r="1.60" fill="#ebebeb"/>
<circle cx="288.42" cy="310.10" r="1.60" fill="#ebebeb"/>
<circle cx="295.10" cy="270.29" r="1.60" fill="#ebebeb"/>
<circle cx="304.08" cy="342.84" r="1.60" fill="#ebebeb"/>
<circle cx="311.90" cy="333.78" r="1.60" fill="#ebebeb"/>
<circle cx="310.39" cy="335.92" r="1.60" fill="#ebebeb"/>
<circle cx="282.32" cy="264.39" r="1.60" fill="#ebebeb"/>
<circle cx="383.96" cy="332.17" r="1.60" fill="#ebebeb"/>
<circle cx="291.01" cy="328.66" r="1.60" fill="#ebebeb"/>
<circle cx="260.20" cy="320.51" r="1.60" fill="#ebebeb"/>
<circle cx="347.16" cy="290.36" r="1.60" fill="#ebebeb"/>
<circle cx="365.61" cy="359.54" r="1.60" fill="#ebebeb"/>
<circle cx="287.12" cy="326.83" r="1.60" fill="#ebebeb"/>
<circle cx="298.42" cy="264.28" r="1.60" fill="#ebebeb"/>
<circle cx="312.05" cy="351.38" r="1.60" fill="#ebebeb"/>
<circle cx="275.67" cy="267.25" r="1.60" fill="#ebebeb"/>
<circle cx="346.97" cy="268.53" r="1.60" fill="#ebebeb"/>
<circle cx="273.54" cy="330.75" r="1.60" fill="#ebebeb"/>
<circle cx="316.93" cy="304.40" r="1.60" fill="#ebebeb"/>
<circle cx="304.31" cy="330.22" r="1.60" fill="#ebebeb"/>
<circle cx="280.33" cy="287.11" r="1.60" fill="#ebebeb"/>
<circle cx="335.17" cy="353.20" r="1.60" fill="#ebebeb"/>
<circle cx="313.20" cy="343.15" r="1.60" fill="#ebebeb"/>
<circle cx="274.97" cy="357.21" r="1.60" fill="#ebebeb"/>
<circle cx="340.60" cy="299.60" r="1.60" fill="#ebebeb"/>
<circle cx="277.92" cy="358.10" r="1.60" fill="#ebebeb"/>
<circle cx="268.49" cy="358.93" r="1.60" fill="#ebebeb"/>
<circle cx="283.31" cy="362.25" r="1.60" fill="#ebebeb"/>
<circle cx="321.99" cy="342.64" r="1.60" fill="#ebebeb"/>
<circle cx="291.23" cy="310.55" r="1.60" fill="#ebebeb"/>
<circle cx="316.28" cy="286.83" r="1.60" fill="#ebebeb"/>
<circle cx="275.23" cy="354.09" r="1.60" fill="#ebebeb"/>
<circle cx="267.44" cy="307.67" r="1.60" fill="#ebebeb"/>
<circle cx="342.29" cy="288.05" r="1.60" fill="#ebebeb"/>
<circle cx="280.19" cy="307.16" r="1.60" fill="#ebebeb"/>
<circle cx="302.75" cy="295.55" r="1.60" fill="#ebebeb"/>
<circle cx="283.12" cy="337.72" r="1.60" fill="#ebebeb"/>
<circle cx="290.14" cy="330.72" r="1.60" fill="#ebebeb"/>
<circle cx="325.95" cy="285.38" r="1.60" fill="#ebebeb"/>
<circle cx="284.45" cy="283.17" r="1.60" fill="#ebebeb"/>
<circle cx="301.52" cy="287.04" r="1.60" fill="#ebebeb"/>
<circle cx="318.62" cy="265.13" r="1.60" fill="#ebebeb"/>
<circle cx="275.96" cy="315.78" r="1.60" fill="#ebebeb"/>
<circle cx="269.99" cy="350.00" r="1.60" fill="#ebebeb"/>
<circle cx="299.40" cy="297.50" r="1.60" fill="#ebebeb"/>
<circle cx="291.65" cy="316.95" r="1.60" fill="#ebebeb"/>
<circle cx="321.62" cy="319.20" r="1.60" fill="#ebebeb"/>
<circle cx="241.18" cy="361.63" r="1.60" fill="#ebebeb"/>
<circle cx="310.93" cy="265.08" r="1.60" fill="#ebebeb"/>
<circle cx="306.18" cy="328.18" r="1.60" fill="#ebebeb"/>
<circle cx="266.43" cy="319.38" r="1.60" fill="#ebebeb"/>
<circle cx="343.00" cy="281.75" r="1.60" fill="#ebebeb"/>
<circle cx="286.50" cy="266.96" r="1.60" fill="#ebebeb"/>
<circle cx="335.61" cy="290.51" r="1.60" fill="#ebebeb"/>
<circle cx="284.72" cy="273.80" r="1.60" fill="#ebebeb"/>
<circle cx="271.07" cy="362.24" r="1.60" fill="#ebebeb"/>
<circle cx="265.67" cy="364.30" r="1.60" fill="#ebebeb"/>
<circle cx="331.00" cy="275.51" r="1.60" fill="#ebebeb"/>
<circle cx="365.64" cy="314.48" r="1.60" fill="#ebebeb"/>
<circle cx="289.42" cy="297.36" r="1.60" fill="#ebebeb"/>
<circle cx="269.01" cy="330.27" r="1.60" fill="#ebebeb"/>
<circle cx="269.03" cy="289.36" r="1.60" fill="#ebebeb"/>
<circle cx="335.73" cy="309.72" r="1.60" fill="#ebebeb"/>
<circle cx="264.05" cy="360.68" r="1.60" fill="#ebebeb"/>
<circle cx="295.90" cy="286.59" r="1.60" fill="#ebebeb"/>
<circle cx="285.10" cy="328.21" r="1.60" fill="#ebebeb"/>
<circle cx="314.98" cy="299.08" r="1.60" fill="#ebebeb"/>
<circle cx="293.48" cy="304.14" r="1.60" fill="#ebebeb"/>
<circle cx="246.55" cy="342.42" r="1.60" fill="#ebebeb"/>
<circle cx="244.29" cy="362.91" r="1.60" fill="#ebebeb"/>
<circle cx="235.66" cy="353.40" r="1.60" fill="#ebebeb"/>
<circle cx="327.47" cy="319.29" r="1.60" fill="#ebebeb"/>
<circle cx="372.36" cy="311.80" r="1.60" fill="#ebebeb"/>
<circle cx="297.71" cy="345.51" r="1.60" fill="#ebebeb"/>
<circle cx="247.97" cy="364.89" r="1.60" fill="#ebebeb"/>
<circle cx="315.18" cy="344.11" r="1.60" fill="#ebebeb"/>
<circle cx="285.22" cy="325.73" r="1.60" fill="#ebebeb"/>
<circle cx="263.40" cy="347.72" r="1.60" fill="#ebebeb"/>
<circle cx="293.62" cy="255.60" r="1.60" fill="#ebebeb"/>
<circle cx="277.65" cy="266.16" r="1.60" fill="#ebebeb"/>
<circle cx="267.62" cy="376.96" r="1.60" fill="#ebebeb"/>
<circle cx="293.64" cy="288.08" r="1.60" fill="#ebebeb"/>
<circle cx="275.03" cy="299.18" r="1.60" fill="#ebebeb"/>
<circle cx="309.43" cy="281.28" r="1.60" fill="#ebebeb"/>
<circle cx="362.13" cy="307.26" r="1.60" fill="#ebebeb"/>
<circle cx="316.52" cy="341.14" r="1.60" fill="#ebebeb"/>
<circle cx="327.30" cy="308.78" r="1.60" fill="#ebebeb"/>
<circle cx="354.48" cy="276.20" r="1.60" fill="#ebebeb"/>
<circle cx="278.59" cy="341.99" r="1.60" fill="#ebebeb"/>
<circle cx="312.12" cy="344.76" r="1.60" fill="#ebebeb"/>
<circle cx="277.17" cy="286.03" r="1.60" fill="#ebebeb"/>
<circle cx="257.60" cy="363.37" r="1.60" fill="#ebebeb"/>
<circle cx="323.68" cy="334.35" r="1.60" fill="#ebebeb"/>
<circle cx="275.04" cy="283.07" r="1.60" fill="#ebebeb"/>
<circle cx="322.72" cy="306.27" r="1.60" fill="#ebebeb"/>
<circle cx="292.05" cy="335.29" r="1.60" fill="#ebebeb"/>
<circle cx="249.67" cy="360.37" r="1.60" fill="#ebebeb"/>
<circle cx="282.23" cy="335.78" r="1.60" fill="#ebebeb"/>
<circle cx="256.41" cy="327.51" r="1.60" fill="#ebebeb"/>
<circle cx="303.77" cy="299.10" r="1.60" fill="#ebebeb"/>
<circle cx="273.13" cy="336.82" r="1.60" fill="#ebebeb"/>
<circle cx="309.27" cy="352.96" r="1.60" fill="#ebebeb"/>
<circle cx="247.97" cy="344.39" r="1.60" fill="#ebebeb"/>
<circle cx="299.64" cy="257.40" r="1.60" fill="#ebebeb"/>
<circle cx="339.49" cy="308.54" r="1.60" fill="#ebebeb"/>
<circle cx="369.39" cy="309.05" r="1.60" fill="#ebebeb"/>
<circle cx="279.41" cy="273.65" r="1.60" fill="#ebebeb"/>
<circle cx="267.37" cy="374.97" r="1.60" fill="#ebebeb"/>
<circle cx="270.07" cy="300.22" r="1.60" fill="#ebebeb"/>
<circle cx="308.31" cy="320.71" r="1.60" fill="#ebebeb"/>
<circle cx="247.15" cy="346.56" r="1.60" fill="#ebebeb"/>
<circle cx="252.52" cy="326.19" r="1.60" fill="#ebebeb"/>
<circle cx="328.89" cy="289.30" r="1.60" fill="#ebebeb"/>
<circle cx="372.55" cy="315.24" r="1.60" fill="#ebebeb"/>
<circle cx="294.05" cy="324.96" r="1.60" fill="#ebebeb"/>
<circle cx="316.54" cy="275.32" r="1.60" fill="#ebebeb"/>
<circle cx="261.96" cy="372.81" r="1.60" fill="#ebebeb"/>
<circle cx="258.22" cy="348.06" r="1.60" fill="#ebebeb"/>
<circle cx="332.41" cy="297.42" r="1.60" fill="#ebebeb"/>
<circle cx="315.69" cy="291.65" r="1.60" fill="#ebebeb"/>
<circle cx="289.64" cy="319.63" r="1.60" fill="#ebebeb"/>
<circle cx="260.68" cy="349.80" r="1.60" fill="#ebebeb"/>
<circle cx="316.51" cy="301.17" r="1.60" fill="#ebebeb"/>
<circle cx="286.32" cy="275.19" r="1.60" fill="#ebebeb"/>
<circle cx="281.59" cy="284.35" r="1.60" fill="#ebebeb"/>
<circle cx="323.16" cy="340.86" r="1.60" fill="#ebebeb"/>
<circle cx="265.07" cy="327.79" r="1.60" fill="#ebebeb"/>
<circle cx="322.42" cy="332.08" r="1.60" fill="#ebebeb"/>
<circle cx="241.03" cy="364.43" r="1.60" fill="#ebebeb"/>
<circle cx="274.75" cy="303.89" r="1.60" fill="#ebebeb"/>
<circle cx="356.49" cy="294.19" r="1.60" fill="#ebebeb"/>
<circle cx="269.52" cy="365.64" r="1.60" fill="#ebebeb"/>
<circle cx="371.99" cy="305.43" r="1.60" fill="#ebebeb"/>
<circle cx="305.69" cy="354.42" r="1.60" fill="#ebebeb"/>
<circle cx="266.54" cy="321.91" r="1.60" fill="#ebebeb"/>
<circle cx="254.30" cy="355.51" r="1.60" fill="#ebebeb"/>
<circle cx="302.24" cy="308.57" r="1.60" fill="#ebebeb"/>
<circle cx="313.50" cy="329.72" r="1.60" fill="#ebebeb"/>
<circle cx="238.39" cy="341.03" r="1.60" fill="#ebebeb"/>
<circle cx="260.19" cy="384.76" r="1.60" fill="#ebebeb"/>
<circle cx="323.68" cy="344.77" r="1.60" fill="#ebebeb"/>
<circle cx="244.73" cy="369.84" r="1.60" fill="#ebebeb"/>
<circle cx="261.84" cy="378.05" r="1.60" fill="#ebebeb"/>
<circle cx="315.78" cy="289.51" r="1.60" fill="#ebebeb"/>
<circle cx="282.98" cy="324.35" r="1.60" fill="#ebebeb"/>
<circle cx="276.03" cy="337.03" r="1.60" fill="#ebebeb"/>
<circle cx="301.82" cy="314.66" r="1.60" fill="#ebebeb"/>
<circle cx="267.14" cy="382.42" r="1.60" fill="#ebebeb"/>
<circle cx="325.37" cy="305.61" r="1.60" fill="#ebebeb"/>
<circle cx="271.19" cy="310.03" r="1.60" fill="#ebebeb"/>
<circle cx="294.39" cy="316.74" r="1.60" fill="#ebebeb"/>
<circle cx="268.92" cy="310.60" r="1.60" fill="#ebebeb"/>
<circle cx="343.87" cy="292.51" r="1.60" fill="#ebebeb"/>
<circle cx="254.31" cy="366.29" r="1.60" fill="#ebebeb"/>
<circle cx="324.72" cy="279.14" r="1.60" fill="#ebebeb"/>
<circle cx="317.41" cy="282.95" r="1.60" fill="#ebebeb"/>
<circle cx="285.54" cy="271.12" r="1.60" fill="#ebebeb"/>
<circle cx="295.95" cy="298.78" r="1.60" fill="#ebebeb"/>
<circle cx="286.31" cy="324.11" r="1.60" fill="#ebebeb"/>
<circle cx="280.82" cy="368.30" r="1.60" fill="#ebebeb"/>
<circle cx="248.84" cy="369.29" r="1.60" fill="#ebebeb"/>
<circle cx="321.24" cy="301.90" r="1.60" fill="#ebebeb"/>
<circle cx="327.25" cy="299.33" r="1.60" fill="#ebebeb"/>
<circle cx="324.73" cy="314.60" r="1.60" fill="#ebebeb"/>
<circle cx="289.89" cy="312.40" r="1.60" fill="#ebebeb"/>
<circle cx="284.41" cy="314.60" r="1.60" fill="#ebebeb"/>
<circle cx="276.45" cy="275.49" r="1.60" fill="#ebebeb"/>
<circle cx="256.08" cy="371.58" r="1.60" fill="#ebebeb"/>
<circle cx="262.40" cy="384.02" r="1.60" fill="#ebebeb"/>
<circle cx="290.19" cy="360.22" r="1.60" fill="#ebebeb"/>
<circle cx="269.44" cy="357.24" r="1.60" fill="#ebebeb"/>
<circle cx="235.41" cy="362.00" r="1.60" fill="#ebebeb"/>
<circle cx="274.71" cy="367.59" r="1.60" fill="#ebebeb"/>
<circle cx="287.33" cy="319.91" r="1.60" fill="#ebebeb"/>
<circle cx="278.36" cy="280.06" r="1.60" fill="#ebebeb"/>
<circle cx="334.56" cy="293.37" r="1.60" fill="#ebebeb"/>
<circle cx="298.11" cy="328.02" r="1.60" fill="#ebebeb"/>
<circle cx="331.50" cy="314.62" r="1.60" fill="#ebebeb"/>
<circle cx="264.97" cy="316.66" r="1.60" fill="#ebebeb"/>
<circle cx="264.85" cy="375.02" r="1.60" fill="#ebebeb"/>
<circle cx="297.62" cy="251.53" r="1.60" fill="#ebebeb"/>
<circle cx="339.08" cy="333.21" r="1.60" fill="#ebebeb"/>
<circle cx="275.63" cy="297.31" r="1.60" fill="#ebebeb"/>
<circle cx="336.19" cy="300.72" r="1.60" fill="#ebebeb"/>
<circle cx="292.77" cy="267.46" r="1.60" fill="#ebebeb"/>
<circle cx="263.18" cy="333.92" r="1.60" fill="#ebebeb"/>
<circle cx="274.44" cy="338.73" r="1.60" fill="#ebebeb"/>
<circle cx="279.63" cy="297.08" r="1.60" fill="#ebebeb"/>
<circle cx="280.03" cy="271.31" r="1.60" fill="#ebebeb"/>
<circle cx="299.52" cy="342.13" r="1.60" fill="#ebebeb"/>
<circle cx="241.25" cy="348.08" r="1.60" fill="#ebebeb"/>
<circle cx="307.54" cy="337.27" r="1.60" fill="#ebebeb"/>
<circle cx="271.73" cy="370.55" r="1.60" fill="#ebebeb"/>
<circle cx="320.29" cy="308.31" r="1.60" fill="#ebebeb"/>
<circle cx="317.57" cy="293.65" r="1.60" fill="#ebebeb"/>
<circle cx="376.64" cy="310.82" r="1.60" fill="#ebebeb"/>
<circle cx="330.61" cy="304.14" r="1.60" fill="#ebebeb"/>
<circle cx="297.65" cy="334.34" r="1.60" fill="#ebebeb"/>
<circle cx="340.05" cy="278.57" r="1.60" fill="#ebebeb"/>
<circle cx="276.76" cy="277.96" r="1.60" fill="#ebebeb"/>
<circle cx="287.37" cy="354.41" r="1.60" fill="#ebebeb"/>
<circle cx="305.48" cy="308.75" r="1.60" fill="#ebebeb"/>
<circle cx="318.32" cy="327.97" r="1.60" fill="#ebebeb"/>
<circle cx="333.41" cy="302.41" r="1.60" fill="#ebebeb"/>
<circle cx="267.82" cy="303.87" r="1.60" fill="#ebebeb"/>
<circle cx="298.90" cy="340.01" r="1.60" fill="#ebebeb"/>
<circle cx="289.68" cy="358.33" r="1.60" fill="#ebebeb"/>
<circle cx="371.42" cy="317.82" r="1.60" fill="#ebebeb"/>
<circle cx="283.40" cy="308.97" r="1.60" fill="#ebebeb"/>
<circle cx="254.28" cy="357.81" r="1.60" fill="#ebebeb"/>
<circle cx="303.09" cy="280.26" r="1.60" fill="#ebebeb"/>
<circle cx="290.24" cy="333.89" r="1.60" fill="#ebebeb"/>
<circle cx="342.10" cy="297.93" r="1.60" fill="#ebebeb"/>
<circle cx="295.89" cy="312.19" r="1.60" fill="#ebebeb"/>
<circle cx="271.98" cy="292.36" r="1.60" fill="#ebebeb"/>
<circle cx="235.84" cy="345.87" r="1.60" fill="#ebebeb"/>
<circle cx="330.54" cy="260.74" r="1.60" fill="#ebebeb"/>
<circle cx="286.82" cy="283.28" r="1.60" fill="#ebebeb"/>
<circle cx="310.00" cy="307.87" r="1.60" fill="#ebebeb"/>
<circle cx="363.60" cy="308.78" r="1.60" fill="#ebebeb"/>
<circle cx="297.37" cy="341.43" r="1.60" fill="#ebebeb"/>
<circle cx="281.72" cy="315.71" r="1.60" fill="#ebebeb"/>
<circle cx="265.02" cy="303.15" r="1.60" fill="#ebebeb"/>
<circle cx="293.27" cy="281.71" r="1.60" fill="#ebebeb"/>
<circle cx="318.94" cy="310.10" r="1.60" fill="#ebebeb"/>
<circle cx="368.38" cy="304.47" r="1.60" fill="#ebebeb"/>
<circle cx="277.23" cy="318.56" r="1.60" fill="#ebebeb"/>
<circle cx="317.49" cy="276.36" r="1.60" fill="#ebebeb"/>
<circle cx="270.30" cy="302.14" r="1.60" fill="#ebebeb"/>
<circle cx="308.12" cy="290.11" r="1.60" fill="#ebebeb"/>
<circle cx="321.49" cy="339.00" r="1.60" fill="#ebebeb"/>
<circle cx="263.32" cy="301.42" r="1.60" fill="#ebebeb"/>
<circle cx="325.76" cy="287.65" r="1.60" fill="#ebebeb"/>
<circle cx="245.00" cy="354.78" r="1.60" fill="#ebebeb"/>
<circle cx="233.86" cy="349.00" r="1.60" fill="#ebebeb"/>
<circle cx="284.80" cy="335.23" r="1.60" fill="#ebebeb"/>
<circle cx="303.82" cy="334.98" r="1.60" fill="#ebebeb"/>
<circle cx="241.40" cy="366.75" r="1.60" fill="#ebebeb"/>
<circle cx="275.78" cy="328.72" r="1.60" fill="#ebebeb"/>
<circle cx="277.40" cy="304.17" r="1.60" fill="#ebebeb"/>
<circle cx="313.32" cy="337.37" r="1.60" fill="#ebebeb"/>
<circle cx="338.23" cy="301.77" r="1.60" fill="#ebebeb"/>
<circle cx="274.41" cy="317.24" r="1.60" fill="#ebebeb"/>
<circle cx="321.16" cy="330.49" r="1.60" fill="#ebebeb"/>
<circle cx="290.92" cy="257.21" r="1.60" fill="#ebebeb"/>
<circle cx="337.65" cy="303.84" r="1.60" fill="#ebebeb"/>
<circle cx="309.94" cy="338.77" r="1.60" fill="#ebebeb"/>
<circle cx="382.54" cy="319.48" r="1.60" fill="#ebebeb"/>
<circle cx="264.27" cy="307.83" r="1.60" fill="#ebebeb"/>
<circle cx="250.82" cy="320.94" r="1.60" fill="#ebebeb"/>
<circle cx="320.78" cy="291.36" r="1.60" fill="#ebebeb"/>
<circle cx="308.80" cy="271.95" r="1.60" fill="#ebebeb"/>
<circle cx="353.88" cy="351.02" r="1.60" fill="#ebebeb"/>
<circle cx="300.22" cy="337.66" r="1.60" fill="#ebebeb"/>
<circle cx="312.90" cy="285.46" r="1.60" fill="#ebebeb"/>
<circle cx="295.54" cy="320.16" r="1.60" fill="#ebebeb"/>
<circle cx="238.49" cy="358.38" r="1.60" fill="#ebebeb"/>
<circle cx="258.25" cy="370.84" r="1.60" fill="#ebebeb"/>
<circle cx="279.98" cy="336.47" r="1.60" fill="#ebebeb"/>
<circle cx="260.89" cy="343.52" r="1.60" fill="#ebebeb"/>
<circle cx="269.56" cy="274.12" r="1.60" fill="#ebebeb"/>
<circle cx="308.65" cy="304.89" r="1.60" fill="#ebebeb"/>
<circle cx="270.51" cy="355.48" r="1.60" fill="#ebebeb"/>
<circle cx="342.52" cy="285.56" r="1.60" fill="#ebebeb"/>
<circle cx="293.60" cy="260.69" r="1.60" fill="#ebebeb"/>
<circle cx="313.23" cy="309.00" r="1.60" fill="#ebebeb"/>
<circle cx="306.05" cy="344.39" r="1.60" fill="#ebebeb"/>
<circle cx="296.12" cy="338.42" r="1.60" fill="#ebebeb"/>
<circle cx="264.55" cy="383.11" r="1.60" fill="#ebebeb"/>
<circle cx="282.19" cy="292.60" r="1.60" fill="#ebebeb"/>
<circle cx="272.44" cy="348.58" r="1.60" fill="#ebebeb"/>
<circle cx="329.16" cy="292.36" r="1.60" fill="#ebebeb"/>
<circle cx="264.64" cy="358.92" r="1.60" fill="#ebebeb"/>
<circle cx="294.38" cy="323.00" r="1.60" fill="#ebebeb"/>
<circle cx="300.22" cy="289.55" r="1.60" fill="#ebebeb"/>
<circle cx="316.72" cy="308.48" r="1.60" fill="#ebebeb"/>
<circle cx="281.03" cy="350.10" r="1.60" fill="#ebebeb"/>
<circle cx="254.84" cy="368.18" r="1.60" fill="#ebebeb"/>
<circle cx="259.36" cy="372.54" r="1.60" fill="#ebebeb"/>
<circle cx="271.23" cy="331.90" r="1.60" fill="#ebebeb"/>
<circle cx="297.36" cy="321.36" r="1.60" fill="#ebebeb"/>
<circle cx="262.80" cy="365.03" r="1.60" fill="#ebebeb"/>
<circle cx="279.41" cy="277.37" r="1.60" fill="#ebebeb"/>
<circle cx="272.38" cy="319.07" r="1.60" fill="#ebebeb"/>
<circle cx="256.93" cy="381.75" r="1.60" fill="#ebebeb"/>
<circle cx="302.10" cy="336.48" r="1.60" fill="#ebebeb"/>
<circle cx="302.61" cy="282.84" r="1.60" fill="#ebebeb"/>
<circle cx="300.93" cy="330.74" r="1.60" fill="#ebebeb"/>
<circle cx="233.61" cy="358.15" r="1.60" fill="#ebebeb"/>
<circle cx="260.59" cy="371.00" r="1.60" fill="#ebebeb"/>
<circle cx="281.62" cy="322.58" r="1.60" fill="#ebebeb"/>
<circle cx="279.26" cy="347.87" r="1.60" fill="#ebebeb"/>
<circle cx="238.99" cy="362.51" r="1.60" fill="#ebebeb"/>
<circle cx="309.04" cy="350.99" r="1.60" fill="#ebebeb"/>
<circle cx="321.14" cy="298.88" r="1.60" fill="#ebebeb"/>
<circle cx="271.11" cy="359.79" r="1.60" fill="#ebebeb"/>
<circle cx="327.13" cy="291.22" r="1.60" fill="#ebebeb"/>
<circle cx="303.87" cy="259.87" r="1.60" fill="#ebebeb"/>
<circle cx="294.12" cy="294.85" r="1.60" fill="#ebebeb"/>
<circle cx="277.75" cy="293.82" r="1.60" fill="#ebebeb"/>
<circle cx="242.07" cy="344.59" r="1.60" fill="#ebebeb"/>
<circle cx="311.68" cy="320.08" r="1.60" fill="#ebebeb"/>
<circle cx="270.03" cy="279.99" r="1.60" fill="#ebebeb"/>
<circle cx="256.95" cy="350.26" r="1.60" fill="#ebebeb"/>
<circle cx="329.80" cy="296.17" r="1.60" fill="#ebebeb"/>
<circle cx="312.67" cy="318.82" r="1.60" fill="#ebebeb"/>
<circle cx="317.38" cy="329.67" r="1.60" fill="#ebebeb"/>
<circle cx="318.11" cy="337.15" r="1.60" fill="#ebebeb"/>
<circle cx="293.34" cy="297.07" r="1.60" fill="#ebebeb"/>
<circle cx="319.93" cy="272.44" r="1.60" fill="#ebebeb"/>
<circle cx="250.99" cy="376.66" r="1.60" fill="#ebebeb"/>
<circle cx="266.17" cy="355.36" r="1.60" fill="#ebebeb"/>
<circle cx="337.59" cy="298.87" r="1.60" fill="#ebebeb"/>
<circle cx="244.31" cy="351.35" r="1.60" fill="#ebebeb"/>
<circle cx="327.26" cy="314.57" r="1.60" fill="#ebebeb"/>
<circle cx="247.57" cy="361.48" r="1.60" fill="#ebebeb"/>
<circle cx="329.49" cy="302.47" r="1.60" fill="#ebebeb"/>
<circle cx="289.64" cy="286.46" r="1.60" fill="#ebebeb"/>
<circle cx="321.09" cy="304.82" r="1.60" fill="#ebebeb"/>
<circle cx="296.91" cy="261.84" r="1.60" fill="#ebebeb"/>
<circle cx="311.56" cy="315.27" r="1.60" fill="#ebebeb"/>
<circle cx="292.66" cy="359.01" r="1.60" fill="#ebebeb"/>
<circle cx="300.43" cy="250.18" r="1.60" fill="#ebebeb"/>
<circle cx="284.22" cy="287.69" r="1.60" fill="#ebebeb"/>
<circle cx="248.99" cy="339.67" r="1.60" fill="#ebebeb"/>
<circle cx="294.09" cy="351.79" r="1.60" fill="#ebebeb"/>
<circle cx="307.45" cy="310.11" r="1.60" fill="#ebebeb"/>
<circle cx="299.32" cy="313.98" r="1.60" fill="#ebebeb"/>
<circle cx="285.03" cy="331.81" r="1.60" fill="#ebebeb"/>
<circle cx="267.67" cy="266.73" r="1.60" fill="#ebebeb"/>
<circle cx="251.97" cy="355.80" r="1.60" fill="#ebebeb"/>
<circle cx="319.62" cy="300.48" r="1.60" fill="#ebebeb"/>
<circle cx="364.19" cy="279.99" r="1.60" fill="#ebebeb"/>
<circle cx="310.13" cy="331.89" r="1.60" fill="#ebebeb"/>
<circle cx="289.81" cy="314.30" r="1.60" fill="#ebebeb"/>
<circle cx="328.27" cy="317.40" r="1.60" fill="#ebebeb"/>
<circle cx="360.84" cy="301.27" r="1.60" fill="#ebebeb"/>
<circle cx="332.45" cy="315.98" r="1.60" fill="#ebebeb"/>
<circle cx="322.99" cy="273.40" r="1.60" fill="#ebebeb"/>
<circle cx="338.66" cy="267.14" r="1.60" fill="#ebebeb"/>
<circle cx="298.68" cy="325.65" r="1.60" fill="#ebebeb"/>
<circle cx="316.47" cy="317.41" r="1.60" fill="#ebebeb"/>
<circle cx="327.20" cy="301.59" r="1.60" fill="#ebebeb"/>
<circle cx="240.96" cy="356.65" r="1.60" fill="#ebebeb"/>
<circle cx="251.57" cy="323.59" r="1.60" fill="#ebebeb"/>
<circle cx="328.80" cy="294.35" r="1.60" fill="#ebebeb"/>
<circle cx="333.88" cy="284.69" r="1.60" fill="#ebebeb"/>
<circle cx="323.33" cy="334.54" r="1.60" fill="#ebebeb"/>
<circle cx="344.54" cy="290.15" r="1.60" fill="#ebebeb"/>
<circle cx="334.83" cy="295.59" r="1.60" fill="#ebebeb"/>
<circle cx="285.47" cy="281.42" r="1.60" fill="#ebebeb"/>
<circle cx="315.01" cy="333.79" r="1.60" fill="#ebebeb"/>
<circle cx="238.22" cy="364.45" r="1.60" fill="#ebebeb"/>
<circle cx="310.81" cy="342.40" r="1.60" fill="#ebebeb"/>
<circle cx="290.51" cy="271.56" r="1.60" fill="#ebebeb"/>
<circle cx="297.19" cy="306.53" r="1.60" fill="#ebebeb"/>
<circle cx="336.98" cy="306.99" r="1.60" fill="#ebebeb"/>
<circle cx="267.31" cy="317.42" r="1.60" fill="#ebebeb"/>
<circle cx="302.30" cy="271.70" r="1.60" fill="#ebebeb"/>
<circle cx="238.59" cy="367.07" r="1.60" fill="#ebebeb"/>
<circle cx="284.44" cy="290.61" r="1.60" fill="#ebebeb"/>
<circle cx="331.62" cy="334.35" r="1.60" fill="#ebebeb"/>
<circle cx="262.41" cy="354.61" r="1.60" fill="#ebebeb"/>
<circle cx="275.00" cy="359.55" r="1.60" fill="#ebebeb"/>
<circle cx="277.16" cy="263.36" r="1.60" fill="#ebebeb"/>
<circle cx="285.17" cy="285.83" r="1.60" fill="#ebebeb"/>
<circle cx="268.71" cy="298.12" r="1.60" fill="#ebebeb"/>
<circle cx="283.89" cy="316.68" r="1.60" fill="#ebebeb"/>
<circle cx="314.18" cy="316.09" r="1.60" fill="#ebebeb"/>
<circle cx="238.56" cy="352.47" r="1.60" fill="#ebebeb"/>
<circle cx="273.86" cy="271.24" r="1.60" fill="#ebebeb"/>
<circle cx="376.60" cy="314.80" r="1.60" fill="#ebebeb"/>
<circle cx="283.17" cy="348.47" r="1.60" fill="#ebebeb"/>
<circle cx="296.66" cy="349.50" r="1.60" fill="#ebebeb"/>
<circle cx="280.67" cy="338.27" r="1.60" fill="#ebebeb"/>
<circle cx="286.78" cy="333.45" r="1.60" fill="#ebebeb"/>
<circle cx="280.92" cy="302.87" r="1.60" fill="#ebebeb"/>
<circle cx="245.07" cy="344.17" r="1.60" fill="#ebebeb"/>
<circle cx="279.37" cy="285.14" r="1.60" fill="#ebebeb"/>
<circle cx="324.51" cy="355.28" r="1.60" fill="#ebebeb"/>
<circle cx="282.38" cy="366.77" r="1.60" fill="#ebebeb"/>
<circle cx="278.84" cy="315.07" r="1.60" fill="#ebebeb"/>
<circle cx="352.79" cy="275.67" r="1.60" fill="#ebebeb"/>
<circle cx="334.11" cy="282.58" r="1.60" fill="#ebebeb"/>
<circle cx="315.50" cy="306.71" r="1.60" fill="#ebebeb"/>
<circle cx="300.17" cy="345.94" r="1.60" fill="#ebebeb"/>
<circle cx="320.18" cy="286.66" r="1.60" fill="#ebebeb"/>
<circle cx="310.74" cy="312.12" r="1.60" fill="#ebebeb"/>
<circle cx="305.31" cy="338.84" r="1.60" fill="#ebebeb"/>
<circle cx="279.36" cy="365.79" r="1.60" fill="#ebebeb"/>
<circle cx="313.29" cy="347.99" r="1.60" fill="#ebebeb"/>
<circle cx="271.41" cy="353.73" r="1.60" fill="#ebebeb"/>
<circle cx="265.23" cy="331.45" r="1.60" fill="#ebebeb"/>
<circle cx="294.02" cy="253.15" r="1.60" fill="#ebebeb"/>
<circle cx="260.77" cy="381.25" r="1.60" fill="#ebebeb"/>
<circle cx="317.97" cy="285.14" r="1.60" fill="#ebebeb"/>
<circle cx="276.92" cy="300.30" r="1.60" fill="#ebebeb"/>
<circle cx="323.73" cy="297.38" r="1.60" fill="#ebebeb"/>
<circle cx="288.88" cy="252.38" r="1.60" fill="#ebebeb"/>
<circle cx="308.38" cy="341.07" r="1.60" fill="#ebebeb"/>
<circle cx="272.00" cy="290.14" r="1.60" fill="#ebebeb"/>
<circle cx="368.40" cy="314.90" r="1.60" fill="#ebebeb"/>
<circle cx="322.58" cy="280.59" r="1.60" fill="#ebebeb"/>
<circle cx="323.50" cy="282.82" r="1.60" fill="#ebebeb"/>
<circle cx="268.92" cy="323.09" r="1.60" fill="#ebebeb"/>
<circle cx="286.19" cy="330.21" r="1.60" fill="#ebebeb"/>
<circle cx="309.42" cy="292.04" r="1.60" fill="#ebebeb"/>
<circle cx="271.71" cy="329.43" r="1.60" fill="#ebebeb"/>
<circle cx="267.06" cy="360.86" r="1.60" fill="#ebebeb"/>
<circle cx="272.26" cy="357.29" r="1.60" fill="#ebebeb"/>
<circle cx="378.87" cy="313.69" r="1.60" fill="#ebebeb"/>
<circle cx="317.77" cy="278.28" r="1.60" fill="#ebebeb"/>
<circle cx="320.74" cy="333.33" r="1.60" fill="#ebebeb"/>
<circle cx="315.65" cy="349.34" r="1.60" fill="#ebebeb"/>
<circle cx="301.87" cy="342.30" r="1.60" fill="#ebebeb"/>
<circle cx="323.02" cy="287.15" r="1.60" fill="#ebebeb"/>
<circle cx="301.07" cy="285.17" r="1.60" fill="#ebebeb"/>
<circle cx="272.95" cy="298.26" r="1.60" fill="#ebebeb"/>
<circle cx="339.45" cy="284.51" r="1.60" fill="#ebebeb"/>
<circle cx="293.62" cy="278.78" r="1.60" fill="#ebebeb"/>
<circle cx="289.63" cy="293.32" r="1.60" fill="#ebebeb"/>
<circle cx="277.34" cy="320.95" r="1.60" fill="#ebebeb"/>
<circle cx="279.12" cy="264.51" r="1.60" fill="#ebebeb"/>
<circle cx="325.31" cy="266.08" r="1.60" fill="#ebebeb"/>
<circle cx="251.11" cy="365.81" r="1.60" fill="#ebebeb"/>
<circle cx="314.98" cy="278.61" r="1.60" fill="#ebebeb"/>
<circle cx="289.10" cy="308.28" r="1.60" fill="#ebebeb"/>
<circle cx="303.11" cy="254.15" r="1.60" fill="#ebebeb"/>
<circle cx="320.78" cy="296.66" r="1.60" fill="#ebebeb"/>
<circle cx="321.27" cy="313.53" r="1.60" fill="#ebebeb"/>
<circle cx="332.81" cy="306.25" r="1.60" fill="#ebebeb"/>
<circle cx="318.66" cy="318.64" r="1.60" fill="#ebebeb"/>
<circle cx="336.49" cy="297.17" r="1.60" fill="#ebebeb"/>
<circle cx="288.11" cy="276.41" r="1.60" fill="#ebebeb"/>
<circle cx="366.99" cy="310.02" r="1.60" fill="#ebebeb"/>
<circle cx="294.94" cy="347.14" r="1.60" fill="#ebebeb"/>
<circle cx="315.15" cy="284.70" r="1.60" fill="#ebebeb"/>
<circle cx="282.94" cy="319.66" r="1.60" fill="#ebebeb"/>
<circle cx="287.78" cy="285.03" r="1.60" fill="#ebebeb"/>
<circle cx="256.40" cy="353.29" r="1.60" fill="#ebebeb"/>
<circle cx="349.62" cy="269.19" r="1.60" fill="#ebebeb"/>
<circle cx="255.05" cy="377.96" r="1.60" fill="#ebebeb"/>
<circle cx="373.85" cy="309.85" r="1.60" fill="#ebebeb"/>
<circle cx="293.42" cy="332.26" r="1.60" fill="#ebebeb"/>
<circle cx="311.74" cy="346.59" r="1.60" fill="#ebebeb"/>
<circle cx="327.47" cy="325.26" r="1.60" fill="#ebebeb"/>
<circle cx="311.66" cy="275.37" r="1.60" fill="#ebebeb"/>
<circle cx="310.25" cy="288.33" r="1.60" fill="#ebebeb"/>
<circle cx="305.93" cy="265.87" r="1.60" fill="#ebebeb"/>
<circle cx="374.73" cy="315.94" r="1.60" fill="#ebebeb"/>
<circle cx="315.53" cy="327.53" r="1.60" fill="#ebebeb"/>
<circle cx="369.42" cy="306.44" r="1.60" fill="#ebebeb"/>
<circle cx="253.96" cy="372.64" r="1.60" fill="#ebebeb"/>
<circle cx="321.66" cy="289.06" r="1.60" fill="#ebebeb"/>
<circle cx="252.59" cy="351.77" r="1.60" fill="#ebebeb"/>
<circle cx="267.07" cy="278.76" r="1.60" fill="#ebebeb"/>
<circle cx="318.20" cy="335.20" r="1.60" fill="#ebebeb"/>
<circle cx="325.40" cy="310.06" r="1.60" fill="#ebebeb"/>
<circle cx="328.89" cy="312.64" r="1.60" fill="#ebebeb"/>
<circle cx="307.65" cy="278.80" r="1.60" fill="#ebebeb"/>
<circle cx="337.59" cy="282.40" r="1.60" fill="#ebebeb"/>
<circle cx="278.68" cy="267.58" r="1.60" fill="#ebebeb"/>
<circle cx="258.37" cy="367.84" r="1.60" fill="#ebebeb"/>
<circle cx="309.13" cy="263.05" r="1.60" fill="#ebebeb"/>
<circle cx="256.81" cy="365.97" r="1.60" fill="#ebebeb"/>
<circle cx="279.11" cy="370.14" r="1.60" fill="#ebebeb"/>
<circle cx="311.64" cy="327.47" r="1.60" fill="#ebebeb"/>
<circle cx="261.51" cy="273.36" r="1.60" fill="#ebebeb"/>
<circle cx="301.01" cy="316.97" r="1.60" fill="#ebebeb"/>
<circle cx="311.68" cy="317.60" r="1.60" fill="#ebebeb"/>
<circle cx="308.66" cy="333.74" r="1.60" fill="#ebebeb"/>
<circle cx="278.05" cy="338.01" r="1.60" fill="#ebebeb"/>
<circle cx="293.39" cy="349.92" r="1.60" fill="#ebebeb"/>
<circle cx="374.12" cy="313.13" r="1.60" fill="#ebebeb"/>
<circle cx="268.78" cy="305.96" r="1.60" fill="#ebebeb"/>
<circle cx="290.82" cy="306.62" r="1.60" fill="#ebebeb"/>
<circle cx="279.74" cy="282.77" r="1.60" fill="#ebebeb"/>
<circle cx="297.08" cy="331.41" r="1.60" fill="#ebebeb"/>
<circle cx="276.75" cy="312.86" r="1.60" fill="#ebebeb"/>
<circle cx="307.34" cy="297.66" r="1.60" fill="#ebebeb"/>
<circle cx="268.17" cy="353.56" r="1.60" fill="#ebebeb"/>
<circle cx="238.55" cy="356.43" r="1.60" fill="#ebebeb"/>
<circle cx="282.46" cy="364.07" r="1.60" fill="#ebebeb"/>
<circle cx="263.08" cy="336.26" r="1.60" fill="#ebebeb"/>
<circle cx="338.13" cy="333.21" r="1.60" fill="#ebebeb"/>
<circle cx="264.45" cy="369.59" r="1.60" fill="#ebebeb"/>
<circle cx="296.77" cy="288.56" r="1.60" fill="#ebebeb"/>
<circle cx="274.41" cy="334.96" r="1.60" fill="#ebebeb"/>
<circle cx="319.07" cy="340.28" r="1.60" fill="#ebebeb"/>
<circle cx="307.37" cy="283.16" r="1.60" fill="#ebebeb"/>
<circle cx="343.85" cy="283.95" r="1.60" fill="#ebebeb"/>
<circle cx="305.23" cy="340.67" r="1.60" fill="#ebebeb"/>
<circle cx="279.60" cy="268.21" r="1.60" fill="#ebebeb"/>
<circle cx="271.44" cy="351.74" r="1.60" fill="#ebebeb"/>
<circle cx="248.50" cy="367.09" r="1.60" fill="#ebebeb"/>
<circle cx="286.33" cy="317.31" r="1.60" fill="#ebebeb"/>
<circle cx="295.28" cy="308.16" r="1.60" fill="#ebebeb"/>
<circle cx="383.49" cy="305.56" r="1.60" fill="#ebebeb"/>
<circle cx="331.71" cy="281.22" r="1.60" fill="#ebebeb"/>
<circle cx="360.86" cy="303.51" r="1.60" fill="#ebebeb"/>
<circle cx="297.04" cy="351.74" r="1.60" fill="#ebebeb"/>
<circle cx="311.18" cy="329.51" r="1.60" fill="#ebebeb"/>
<circle cx="312.38" cy="277.39" r="1.60" fill="#ebebeb"/>
<circle cx="286.50" cy="349.09" r="1.60" fill="#ebebeb"/>
<circle cx="264.89" cy="376.86" r="1.60" fill="#ebebeb"/>
<circle cx="278.33" cy="316.96" r="1.60" fill="#ebebeb"/>
<circle cx="281.80" cy="300.20" r="1.60" fill="#ebebeb"/>
<circle cx="309.48" cy="344.90" r="1.60" fill="#ebebeb"/>
<circle cx="310.85" cy="349.69" r="1.60" fill="#ebebeb"/>
<circle cx="313.17" cy="335.41" r="1.60" fill="#ebebeb"/>
<circle cx="300.99" cy="324.68" r="1.60" fill="#ebebeb"/>
<circle cx="295.19" cy="265.89" r="1.60" fill="#ebebeb"/>
<circle cx="314.17" cy="304.00" r="1.60" fill="#ebebeb"/>
<circle cx="274.79" cy="373.73" r="1.60" fill="#ebebeb"/>
<circle cx="324.31" cy="295.09" r="1.60" fill="#ebebeb"/>
<circle cx="256.27" cy="347.08" r="1.60" fill="#ebebeb"/>
<circle cx="276.65" cy="339.76" r="1.60" fill="#ebebeb"/>
<circle cx="289.27" cy="305.07" r="1.60" fill="#ebebeb"/>
<circle cx="317.53" cy="331.22" r="1.60" fill="#ebebeb"/>
<circle cx="318.43" cy="288.26" r="1.60" fill="#ebebeb"/>
<circle cx="242.45" cy="340.97" r="1.60" fill="#ebebeb"/>
<circle cx="281.03" cy="333.90" r="1.60" fill="#ebebeb"/>
<circle cx="258.78" cy="338.34" r="1.60" fill="#ebebeb"/>
<circle cx="329.95" cy="286.00" r="1.60" fill="#ebebeb"/>
<circle cx="290.68" cy="354.74" r="1.60" fill="#ebebeb"/>
<circle cx="331.68" cy="307.91" r="1.60" fill="#ebebeb"/>
<circle cx="297.12" cy="315.32" r="1.60" fill="#ebebeb"/>
<circle cx="293.17" cy="311.71" r="1.60" fill="#ebebeb"/>
<circle cx="295.72" cy="329.01" r="1.60" fill="#ebebeb"/>
<circle cx="275.77" cy="311.07" r="1.60" fill="#ebebeb"/>
<circle cx="283.43" cy="355.49" r="1.60" fill="#ebebeb"/>
<circle cx="355.19" cy="361.44" r="1.60" fill="#ebebeb"/>
<circle cx="285.94" cy="311.23" r="1.60" fill="#ebebeb"/>
<circle cx="296.27" cy="324.27" r="1.60" fill="#ebebeb"/>
<circle cx="264.11" cy="268.24" r="1.60" fill="#ebebeb"/>
<circle cx="359.09" cy="350.07" r="1.60" fill="#ebebeb"/>
<circle cx="289.28" cy="346.96" r="1.60" fill="#ebebeb"/>
<circle cx="307.65" cy="349.37" r="1.60" fill="#ebebeb"/>
<circle cx="325.03" cy="312.08" r="1.60" fill="#ebebeb"/>
<circle cx="365.11" cy="301.50" r="1.60" fill="#ebebeb"/>
<circle cx="271.90" cy="374.96" r="1.60" fill="#ebebeb"/>
<circle cx="259.59" cy="355.29" r="1.60" fill="#ebebeb"/>
<circle cx="304.30" cy="297.10" r="1.60" fill="#ebebeb"/>
<circle cx="303.00" cy="347.19" r="1.60" fill="#ebebeb"/>
<circle cx="303.74" cy="273.65" r="1.60" fill="#ebebeb"/>
<circle cx="249.99" cy="351.79" r="1.60" fill="#ebebeb"/>
<circle cx="300.74" cy="347.86" r="1.60" fill="#ebebeb"/>
<circle cx="277.09" cy="288.02" r="1.60" fill="#ebebeb"/>
<circle cx="316.22" cy="325.59" r="1.60" fill="#ebebeb"/>
<circle cx="331.66" cy="272.43" r="1.60" fill="#ebebeb"/>
<circle cx="278.97" cy="323.93" r="1.60" fill="#ebebeb"/>
<circle cx="258.68" cy="351.47" r="1.60" fill="#ebebeb"/>
<circle cx="271.43" cy="266.49" r="1.60" fill="#ebebeb"/>
<circle cx="312.66" cy="300.95" r="1.60" fill="#ebebeb"/>
<circle cx="351.75" cy="301.77" r="1.60" fill="#ebebeb"/>
<circle cx="311.40" cy="279.23" r="1.60" fill="#ebebeb"/>
<circle cx="274.08" cy="352.34" r="1.60" fill="#ebebeb"/>
<circle cx="263.48" cy="380.68" r="1.60" fill="#ebebeb"/>
<circle cx="273.00" cy="284.89" r="1.60" fill="#ebebeb"/>
<circle cx="299.95" cy="334.53" r="1.60" fill="#ebebeb"/>
<circle cx="297.51" cy="343.38" r="1.60" fill="#ebebeb"/>
<circle cx="272.31" cy="311.90" r="1.60" fill="#ebebeb"/>
<circle cx="274.36" cy="305.82" r="1.60" fill="#ebebeb"/>
<circle cx="309.37" cy="316.90" r="1.60" fill="#ebebeb"/>
<circle cx="306.85" cy="260.11" r="1.60" fill="#ebebeb"/>
<circle cx="269.14" cy="373.47" r="1.60" fill="#ebebeb"/>
<circle cx="238.08" cy="354.49" r="1.60" fill="#ebebeb"/>
<circle cx="364.13" cy="305.63" r="1.60" fill="#ebebeb"/>
<circle cx="299.65" cy="252.80" r="1.60" fill="#ebebeb"/>
<circle cx="330.34" cy="279.38" r="1.60" fill="#ebebeb"/>
<circle cx="265.89" cy="276.01" r="1.60" fill="#ebebeb"/>
<circle cx="245.41" cy="347.84" r="1.60" fill="#ebebeb"/>
<circle cx="293.89" cy="357.46" r="1.60" fill="#ebebeb"/>
<circle cx="264.34" cy="385.16" r="1.60" fill="#ebebeb"/>
<circle cx="286.72" cy="346.32" r="1.60" fill="#ebebeb"/>
<circle cx="295.10" cy="310.39" r="1.60" fill="#ebebeb"/>
<circle cx="276.30" cy="370.58" r="1.60" fill="#ebebeb"/>
<circle cx="301.03" cy="319.51" r="1.60" fill="#ebebeb"/>
<circle cx="342.41" cy="305.13" r="1.60" fill="#ebebeb"/>
<circle cx="331.74" cy="312.56" r="1.60" fill="#ebebeb"/>
<circle cx="259.19" cy="358.51" r="1.60" fill="#ebebeb"/>
<circle cx="296.30" cy="253.70" r="1.60" fill="#ebebeb"/>
<circle cx="323.43" cy="308.58" r="1.60" fill="#ebebeb"/>
<circle cx="251.46" cy="353.73" r="1.60" fill="#ebebeb"/>
<circle cx="298.05" cy="290.90" r="1.60" fill="#ebebeb"/>
<circle cx="246.36" cy="368.36" r="1.60" fill="#ebebeb"/>
<circle cx="287.91" cy="322.71" r="1.60" fill="#ebebeb"/>
<circle cx="307.50" cy="306.55" r="1.60" fill="#ebebeb"/>
<circle cx="302.79" cy="302.11" r="1.60" fill="#ebebeb"/>
<circle cx="271.09" cy="338.40" r="1.60" fill="#ebebeb"/>
<circle cx="252.65" cy="346.48" r="1.60" fill="#ebebeb"/>
<circle cx="298.34" cy="281.53" r="1.60" fill="#ebebeb"/>
<circle cx="243.67" cy="365.59" r="1.60" fill="#ebebeb"/>
<circle cx="300.21" cy="344.00" r="1.60" fill="#ebebeb"/>
<circle cx="303.67" cy="309.35" r="1.60" fill="#ebebeb"/>
<circle cx="265.88" cy="311.04" r="1.60" fill="#ebebeb"/>
<circle cx="290.88" cy="337.65" r="1.60" fill="#ebebeb"/>
<circle cx="262.36" cy="366.97" r="1.60" fill="#ebebeb"/>
<circle cx="265.75" cy="372.38" r="1.60" fill="#ebebeb"/>
<circle cx="305.13" cy="285.92" r="1.60" fill="#ebebeb"/>
<circle cx="326.54" cy="303.67" r="1.60" fill="#ebebeb"/>
<circle cx="338.91" cy="294.85" r="1.60" fill="#ebebeb"/>
<circle cx="294.85" cy="314.40" r="1.60" fill="#ebebeb"/>
<circle cx="294.29" cy="330.50" r="1.60" fill="#ebebeb"/>
<circle cx="286.95" cy="273.18" r="1.60" fill="#ebebeb"/>
<circle cx="273.59" cy="277.62" r="1.60" fill="#ebebeb"/>
<circle cx="233.41" cy="350.79" r="1.60" fill="#ebebeb"/>
<circle cx="299.87" cy="254.90" r="1.60" fill="#ebebeb"/>
<circle cx="308.67" cy="329.51" r="1.60" fill="#ebebeb"/>
<circle cx="294.84" cy="342.77" r="1.60" fill="#ebebeb"/>
<circle cx="327.30" cy="296.02" r="1.60" fill="#ebebeb"/>
<circle cx="261.06" cy="307.42" r="1.60" fill="#ebebeb"/>
<circle cx="319.90" cy="277.28" r="1.60" fill="#ebebeb"/>
<circle cx="291.57" cy="291.09" r="1.60" fill="#ebebeb"/>
<circle cx="274.13" cy="376.00" r="1.60" fill="#ebebeb"/>
<circle cx="372.83" cy="290.12" r="1.60" fill="#ebebeb"/>
<circle cx="319.56" cy="283.71" r="1.60" fill="#ebebeb"/>
<circle cx="263.94" cy="362.77" r="1.60" fill="#ebebeb"/>
<circle cx="297.47" cy="259.11" r="1.60" fill="#ebebeb"/>
<circle cx="233.95" cy="354.66" r="1.60" fill="#ebebeb"/>
<circle cx="255.14" cy="363.31" r="1.60" fill="#ebebeb"/>
<circle cx="306.34" cy="271.78" r="1.60" fill="#ebebeb"/>
<circle cx="238.80" cy="349.00" r="1.60" fill="#ebebeb"/>
<circle cx="313.74" cy="288.37" r="1.60" fill="#ebebeb"/>
<circle cx="287.97" cy="258.40" r="1.60" fill="#ebebeb"/>
<circle cx="325.96" cy="289.59" r="1.60" fill="#ebebeb"/>
<circle cx="290.79" cy="317.76" r="1.60" fill="#ebebeb"/>
<circle cx="302.89" cy="338.59" r="1.60" fill="#ebebeb"/>
<circle cx="311.72" cy="331.22" r="1.60" fill="#ebebeb"/>
<circle cx="370.08" cy="316.35" r="1.60" fill="#ebebeb"/>
<circle cx="272.25" cy="323.63" r="1.60" fill="#ebebeb"/>
<circle cx="263.65" cy="338.62" r="1.60" fill="#ebebeb"/>
<circle cx="280.68" cy="279.14" r="1.60" fill="#ebebeb"/>
<circle cx="265.75" cy="299.49" r="1.60" fill="#ebebeb"/>
<circle cx="291.56" cy="298.77" r="1.60" fill="#ebebeb"/>
<circle cx="275.13" cy="267.96" r="1.60" fill="#ebebeb"/>
<circle cx="334.05" cy="314.62" r="1.60" fill="#ebebeb"/>
<circle cx="325.80" cy="259.63" r="1.60" fill="#ebebeb"/>
<circle cx="331.27" cy="287.66" r="1.60" fill="#ebebeb"/>
<circle cx="323.53" cy="334.46" r="1.60" fill="#ebebeb"/>
<circle cx="247.22" cy="351.71" r="1.60" fill="#ebebeb"/>
<circle cx="271.71" cy="372.62" r="1.60" fill="#ebebeb"/>
<circle cx="336.13" cy="288.45" r="1.60" fill="#ebebeb"/>
<circle cx="306.71" cy="262.29" r="1.60" fill="#ebebeb"/>
<circle cx="381.36" cy="315.60" r="1.60" fill="#ebebeb"/>
<circle cx="254.69" cy="341.66" r="1.60" fill="#ebebeb"/>
<circle cx="312.63" cy="269.95" r="1.60" fill="#ebebeb"/>
<circle cx="277.65" cy="360.26" r="1.60" fill="#ebebeb"/>
<circle cx="306.53" cy="330.95" r="1.60" fill="#ebebeb"/>
<circle cx="253.93" cy="361.70" r="1.60" fill="#ebebeb"/>
<circle cx="274.39" cy="369.58" r="1.60" fill="#ebebeb"/>
<circle cx="309.52" cy="267.81" r="1.60" fill="#ebebeb"/>
<circle cx="320.30" cy="336.36" r="1.60" fill="#ebebeb"/>
<circle cx="341.56" cy="295.77" r="1.60" fill="#ebebeb"/>
<circle cx="273.22" cy="355.33" r="1.60" fill="#ebebeb"/>
<circle cx="262.93" cy="279.04" r="1.60" fill="#ebebeb"/>
<circle cx="298.25" cy="283.50" r="1.60" fill="#ebebeb"/>
<circle cx="280.10" cy="320.35" r="1.60" fill="#ebebeb"/>
<circle cx="319.23" cy="256.83" r="1.60" fill="#ebebeb"/>
<circle cx="343.06" cy="303.02" r="1.60" fill="#ebebeb"/>
<circle cx="276.47" cy="291.98" r="1.60" fill="#ebebeb"/>
<circle cx="291.14" cy="266.02" r="1.60" fill="#ebebeb"/>
<circle cx="304.23" cy="262.89" r="1.60" fill="#ebebeb"/>
<circle cx="286.25" cy="301.99" r="1.60" fill="#ebebeb"/>
<circle cx="246.69" cy="363.23" r="1.60" fill="#ebebeb"/>
<circle cx="287.89" cy="328.55" r="1.60" fill="#ebebeb"/>
<circle cx="269.13" cy="347.32" r="1.60" fill="#ebebeb"/>
<circle cx="243.78" cy="345.95" r="1.60" fill="#ebebeb"/>
<circle cx="309.77" cy="309.82" r="1.60" fill="#ebebeb"/>
<circle cx="366.94" cy="312.38" r="1.60" fill="#ebebeb"/>
<circle cx="283.73" cy="333.49" r="1.60" fill="#ebebeb"/>
<circle cx="236.16" cy="349.94" r="1.60" fill="#ebebeb"/>
<circle cx="282.71" cy="342.29" r="1.60" fill="#ebebeb"/>
<circle cx="308.14" cy="302.28" r="1.60" fill="#ebebeb"/>
<circle cx="267.77" cy="339.59" r="1.60" fill="#ebebeb"/>
<circle cx="248.41" cy="371.82" r="1.60" fill="#ebebeb"/>
<circle cx="332.92" cy="279.38" r="1.60" fill="#ebebeb"/>
<circle cx="317.94" cy="344.20" r="1.60" fill="#ebebeb"/>
<circle cx="289.42" cy="327.18" r="1.60" fill="#ebebeb"/>
<circle cx="331.62" cy="283.64" r="1.60" fill="#ebebeb"/>
<circle cx="287.84" cy="281.26" r="1.60" fill="#ebebeb"/>
<circle cx="270.76" cy="333.92" r="1.60" fill="#ebebeb"/>
<circle cx="319.06" cy="302.64" r="1.60" fill="#ebebeb"/>
<circle cx="257.59" cy="345.44" r="1.60" fill="#ebebeb"/>
<circle cx="304.45" cy="332.94" r="1.60" fill="#ebebeb"/>
<circle cx="318.78" cy="346.11" r="1.60" fill="#ebebeb"/>
<circle cx="252.43" cy="315.35" r="1.60" fill="#ebebeb"/>
<circle cx="305.08" cy="320.81" r="1.60" fill="#ebebeb"/>
<circle cx="340.33" cy="306.53" r="1.60" fill="#ebebeb"/>
<circle cx="334.76" cy="307.66" r="1.60" fill="#ebebeb"/>
<circle cx="329.57" cy="315.69" r="1.60" fill="#ebebeb"/>
<circle cx="341.57" cy="301.51" r="1.60" fill="#ebebeb"/>
<circle cx="270.92" cy="283.70" r="1.60" fill="#ebebeb"/>
<circle cx="316.80" cy="320.21" r="1.60" fill="#ebebeb"/>
<circle cx="271.22" cy="270.14" r="1.60" fill="#ebebeb"/>
<circle cx="260.81" cy="359.79" r="1.60" fill="#ebebeb"/>
<circle cx="263.07" cy="299.64" r="1.60" fill="#ebebeb"/>
<circle cx="310.21" cy="270.02" r="1.60" fill="#ebebeb"/>
<circle cx="267.84" cy="328.00" r="1.60" fill="#ebebeb"/>
<circle cx="365.66" cy="307.76" r="1.60" fill="#ebebeb"/>
<circle cx="282.08" cy="358.12" r="1.60" fill="#ebebeb"/>
<circle cx="255.12" cy="309.96" r="1.60" fill="#ebebeb"/>
<circle cx="277.20" cy="367.77" r="1.60" fill="#ebebeb"/>
<circle cx="240.08" cy="342.33" r="1.60" fill="#ebebeb"/>
<circle cx="299.73" cy="322.85" r="1.60" fill="#ebebeb"/>
<circle cx="245.32" cy="360.53" r="1.60" fill="#ebebeb"/>
<circle cx="292.66" cy="299.50" r="1.60" fill="#ebebeb"/>
<circle cx="267.25" cy="367.54" r="1.60" fill="#ebebeb"/>
<circle cx="270.43" cy="294.24" r="1.60" fill="#ebebeb"/>
<circle cx="331.66" cy="292.62" r="1.60" fill="#ebebeb"/>
<circle cx="301.58" cy="263.59" r="1.60" fill="#ebebeb"/>
<circle cx="294.50" cy="334.74" r="1.60" fill="#ebebeb"/>
<circle cx="280.30" cy="331.49" r="1.60" fill="#ebebeb"/>
<circle cx="285.31" cy="338.78" r="1.60" fill="#ebebeb"/>
<circle cx="262.28" cy="357.71" r="1.60" fill="#ebebeb"/>
<circle cx="364.31" cy="350.07" r="1.60" fill="#ebebeb"/>
<circle cx="268.01" cy="335.08" r="1.60" fill="#ebebeb"/>
<circle cx="313.60" cy="325.54" r="1.60" fill="#ebebeb"/>
<circle cx="304.81" cy="304.15" r="1.60" fill="#ebebeb"/>
<circle cx="287.80" cy="252.33" r="1.60" fill="#ebebeb"/>
<circle cx="280.40" cy="275.60" r="1.60" fill="#ebebeb"/>
<circle cx="271.96" cy="303.68" r="1.60" fill="#ebebeb"/>
<circle cx="303.89" cy="328.15" r="1.60" fill="#ebebeb"/>
<circle cx="238.30" cy="360.45" r="1.60" fill="#ebebeb"/>
<circle cx="276.55" cy="273.27" r="1.60" fill="#ebebeb"/>
<circle cx="307.41" cy="285.38" r="1.60" fill="#ebebeb"/>
<circle cx="252.23" cy="370.32" r="1.60" fill="#ebebeb"/>
<circle cx="306.01" cy="351.95" r="1.60" fill="#ebebeb"/>
<circle cx="320.76" cy="344.62" r="1.60" fill="#ebebeb"/>
<circle cx="312.46" cy="296.98" r="1.60" fill="#ebebeb"/>
<circle cx="312.84" cy="331.69" r="1.60" fill="#ebebeb"/>
<circle cx="283.37" cy="277.90" r="1.60" fill="#ebebeb"/>
<circle cx="299.87" cy="307.61" r="1.60" fill="#ebebeb"/>
<circle cx="318.53" cy="331.62" r="1.60" fill="#ebebeb"/>
<circle cx="288.86" cy="332.40" r="1.60" fill="#ebebeb"/>
<circle cx="314.33" cy="313.67" r="1.60" fill="#ebebeb"/>
<circle cx="309.78" cy="286.44" r="1.60" fill="#ebebeb"/>
<circle cx="250.92" cy="341.46" r="1.60" fill="#ebebeb"/>
<circle cx="334.16" cy="276.80" r="1.60" fill="#ebebeb"/>
<circle cx="253.33" cy="376.44" r="1.60" fill="#ebebeb"/>
<circle cx="301.73" cy="278.63" r="1.60" fill="#ebebeb"/>
<circle cx="274.47" cy="320.81" r="1.60" fill="#ebebeb"/>
<circle cx="266.07" cy="334.10" r="1.60" fill="#ebebeb"/>
<circle cx="355.54" cy="305.46" r="1.60" fill="#ebebeb"/>
<circle cx="301.05" cy="304.63" r="1.60" fill="#ebebeb"/>
<circle cx="273.72" cy="350.43" r="1.60" fill="#ebebeb"/>
<circle cx="319.78" cy="342.68" r="1.60" fill="#ebebeb"/>
<circle cx="302.55" cy="306.09" r="1.60" fill="#ebebeb"/>
<circle cx="291.72" cy="254.41" r="1.60" fill="#ebebeb"/>
<circle cx="299.96" cy="332.41" r="1.60" fill="#ebebeb"/>
<circle cx="285.70" cy="277.18" r="1.60" fill="#ebebeb"/>
<circle cx="272.25" cy="274.30" r="1.60" fill="#ebebeb"/>
<circle cx="314.24" cy="318.61" r="1.60" fill="#ebebeb"/>
<circle cx="312.99" cy="290.50" r="1.60" fill="#ebebeb"/>
<circle cx="303.31" cy="257.21" r="1.60" fill="#ebebeb"/>
<circle cx="298.48" cy="269.62" r="1.60" fill="#ebebeb"/>
<circle cx="315.91" cy="255.18" r="1.60" fill="#ebebeb"/>
<circle cx="294.27" cy="292.22" r="1.60" fill="#ebebeb"/>
<circle cx="289.29" cy="288.73" r="1.60" fill="#ebebeb"/>
<circle cx="295.81" cy="355.95" r="1.60" fill="#ebebeb"/>
<circle cx="271.63" cy="314.88" r="1.60" fill="#ebebeb"/>
<circle cx="305.59" cy="258.45" r="1.60" fill="#ebebeb"/>
<circle cx="326.02" cy="293.70" r="1.60" fill="#ebebeb"/>
<circle cx="286.77" cy="361.34" r="1.60" fill="#ebebeb"/>
<circle cx="301.49" cy="259.52" r="1.60" fill="#ebebeb"/>
<circle cx="297.56" cy="256.00" r="1.60" fill="#ebebeb"/>
<circle cx="322.47" cy="316.93" r="1.60" fill="#ebebeb"/>
<circle cx="305.13" cy="306.38" r="1.60" fill="#ebebeb"/>
<circle cx="317.73" cy="297.57" r="1.60" fill="#ebebeb"/>
<circle cx="341.19" cy="290.07" r="1.60" fill="#ebebeb"/>
<circle cx="340.16" cy="286.53" r="1.60" fill="#ebebeb"/>
<circle cx="272.28" cy="279.67" r="1.60" fill="#ebebeb"/>
<circle cx="290.00" cy="323.79" r="1.60" fill="#ebebeb"/>
<circle cx="366.72" cy="302.94" r="1.60" fill="#ebebeb"/>
<circle cx="282.27" cy="270.38" r="1.60" fill="#ebebeb"/>
<circle cx="285.99" cy="343.65" r="1.60" fill="#ebebeb"/>
<circle cx="303.77" cy="287.90" r="1.60" fill="#ebebeb"/>
<circle cx="258.68" cy="377.69" r="1.60" fill="#ebebeb"/>
<circle cx="257.65" cy="357.03" r="1.60" fill="#ebebeb"/>
<circle cx="285.98" cy="305.34" r="1.60" fill="#ebebeb"/>
<circle cx="260.46" cy="347.55" r="1.60" fill="#ebebeb"/>
<circle cx="269.85" cy="375.80" r="1.60" fill="#ebebeb"/>
<circle cx="314.03" cy="293.47" r="1.60" fill="#ebebeb"/>
<circle cx="275.90" cy="344.04" r="1.60" fill="#ebebeb"/>
<circle cx="256.41" cy="358.63" r="1.60" fill="#ebebeb"/>
<circle cx="284.04" cy="340.77" r="1.60" fill="#ebebeb"/>
<circle cx="239.53" cy="346.70" r="1.60" fill="#ebebeb"/>
<circle cx="257.54" cy="384.39" r="1.60" fill="#ebebeb"/>
<circle cx="256.68" cy="379.52" r="1.60" fill="#ebebeb"/>
<circle cx="279.63" cy="326.72" r="1.60" fill="#ebebeb"/>
<circle cx="236.02" cy="347.81" r="1.60" fill="#ebebeb"/>
<circle cx="325.33" cy="281.17" r="1.60" fill="#ebebeb"/>
<circle cx="277.20" cy="269.04" r="1.60" fill="#ebebeb"/>
<circle cx="261.96" cy="361.82" r="1.60" fill="#ebebeb"/>
<circle cx="333.61" cy="300.44" r="1.60" fill="#ebebeb"/>
<circle cx="339.02" cy="288.70" r="1.60" fill="#ebebeb"/>
<circle cx="315.30" cy="330.99" r="1.60" fill="#ebebeb"/>
<circle cx="283.40" cy="329.97" r="1.60" fill="#ebebeb"/>
<circle cx="235.98" cy="357.46" r="1.60" fill="#ebebeb"/>
<circle cx="286.02" cy="267.58" r="1.60" fill="#ebebeb"/>
<circle cx="303.12" cy="317.97" r="1.60" fill="#ebebeb"/>
<circle cx="356.49" cy="283.87" r="1.60" fill="#ebebeb"/>
<circle cx="296.49" cy="280.29" r="1.60" fill="#ebebeb"/>
<circle cx="299.54" cy="350.13" r="1.60" fill="#ebebeb"/>
<circle cx="340.84" cy="282.62" r="1.60" fill="#ebebeb"/>
<circle cx="339.93" cy="304.61" r="1.60" fill="#ebebeb"/>
<circle cx="275.00" cy="294.10" r="1.60" fill="#ebebeb"/>
<circle cx="245.96" cy="350.06" r="1.60" fill="#ebebeb"/>
<circle cx="322.08" cy="328.80" r="1.60" fill="#ebebeb"/>
<circle cx="251.77" cy="339.67" r="1.60" fill="#ebebeb"/>
<circle cx="266.16" cy="346.13" r="1.60" fill="#ebebeb"/>
<circle cx="291.63" cy="285.18" r="1.60" fill="#ebebeb"/>
<circle cx="261.61" cy="368.75" r="1.60" fill="#ebebeb"/>
<circle cx="291.87" cy="342.17" r="1.60" fill="#ebebeb"/>
<circle cx="273.89" cy="313.68" r="1.60" fill="#ebebeb"/>
<circle cx="349.03" cy="307.45" r="1.60" fill="#ebebeb"/>
<circle cx="252.50" cy="359.00" r="1.60" fill="#ebebeb"/>
<circle cx="290.19" cy="263.56" r="1.60" fill="#ebebeb"/>
<circle cx="285.10" cy="260.80" r="1.60" fill="#ebebeb"/>
<circle cx="270.36" cy="286.09" r="1.60" fill="#ebebeb"/>
<circle cx="270.07" cy="296.12" r="1.60" fill="#ebebeb"/>
<circle cx="298.28" cy="355.98" r="1.60" fill="#ebebeb"/>
<circle cx="259.20" cy="382.64" r="1.60" fill="#ebebeb"/>
<circle cx="271.45" cy="321.03" r="1.60" fill="#ebebeb"/>
<circle cx="294.96" cy="305.22" r="1.60" fill="#ebebeb"/>
<circle cx="247.64" cy="374.24" r="1.60" fill="#ebebeb"/>
<circle cx="272.82" cy="268.39" r="1.60" fill="#ebebeb"/>
<circle cx="299.77" cy="273.05" r="1.60" fill="#ebebeb"/>
<circle cx="243.25" cy="357.26" r="1.60" fill="#ebebeb"/>
<circle cx="308.13" cy="343.09" r="1.60" fill="#ebebeb"/>
<circle cx="289.40" cy="349.63" r="1.60" fill="#ebebeb"/>
<circle cx="301.92" cy="333.39" r="1.60" fill="#ebebeb"/>
<circle cx="276.24" cy="350.78" r="1.60" fill="#ebebeb"/>
<circle cx="287.49" cy="341.00" r="1.60" fill="#ebebeb"/>
<circle cx="262.10" cy="274.78" r="1.60" fill="#ebebeb"/>
<circle cx="303.39" cy="268.91" r="1.60" fill="#ebebeb"/>
<circle cx="281.68" cy="266.70" r="1.60" fill="#ebebeb"/>
<circle cx="333.77" cy="287.47" r="1.60" fill="#ebebeb"/>
<circle cx="255.40" cy="375.54" r="1.60" fill="#ebebeb"/>
<circle cx="315.54" cy="335.73" r="1.60" fill="#ebebeb"/>
<circle cx="254.47" cy="381.22" r="1.60" fill="#ebebeb"/>
<circle cx="289.45" cy="356.36" r="1.60" fill="#ebebeb"/>
<circle cx="312.77" cy="280.91" r="1.60" fill="#ebebeb"/>
<circle cx="360.40" cy="360.49" r="1.60" fill="#ebebeb"/>
<circle cx="305.74" cy="301.60" r="1.60" fill="#ebebeb"/>
<circle cx="273.20" cy="363.75" r="1.60" fill="#ebebeb"/>
<circle cx="277.13" cy="335.34" r="1.60" fill="#ebebeb"/>
<circle cx="288.46" cy="338.73" r="1.60" fill="#ebebeb"/>
<circle cx="318.49" cy="306.53" r="1.60" fill="#ebebeb"/>
<circle cx="307.41" cy="287.63" r="1.60" fill="#ebebeb"/>
<circle cx="283.31" cy="311.66" r="1.60" fill="#ebebeb"/>
<circle cx="239.49" cy="368.77" r="1.60" fill="#ebebeb"/>
<circle cx="309.98" cy="347.90" r="1.60" fill="#ebebeb"/>
<circle cx="333.28" cy="289.77" r="1.60" fill="#ebebeb"/>
<circle cx="252.31" cy="379.83" r="1.60" fill="#ebebeb"/>
<circle cx="296.27" cy="293.41" r="1.60" fill="#ebebeb"/>
<circle cx="250.92" cy="343.54" r="1.60" fill="#ebebeb"/>
<circle cx="272.88" cy="268.15" r="1.60" fill="#ebebeb"/>
<circle cx="268.47" cy="369.93" r="1.60" fill="#ebebeb"/>
<circle cx="271.22" cy="266.82" r="1.60" fill="#ebebeb"/>
<circle cx="235.74" cy="343.94" r="1.60" fill="#ebebeb"/>
<circle cx="256.72" cy="355.09" r="1.60" fill="#ebebeb"/>
<circle cx="252.71" cy="317.71" r="1.60" fill="#ebebeb"/>
<circle cx="261.82" cy="386.51" r="1.60" fill="#ebebeb"/>
<circle cx="254.72" cy="350.67" r="1.60" fill="#ebebeb"/>
<circle cx="235.17" cy="360.11" r="1.60" fill="#ebebeb"/>
<circle cx="277.69" cy="302.21" r="1.60" fill="#ebebeb"/>
<circle cx="243.75" cy="368.14" r="1.60" fill="#ebebeb"/>
<circle cx="272.46" cy="281.73" r="1.60" fill="#ebebeb"/>
<circle cx="301.28" cy="340.00" r="1.60" fill="#ebebeb"/>
<circle cx="286.66" cy="315.31" r="1.60" fill="#ebebeb"/>
<circle cx="330.19" cy="310.07" r="1.60" fill="#ebebeb"/>
<circle cx="267.75" cy="332.61" r="1.60" fill="#ebebeb"/>
<circle cx="260.01" cy="362.80" r="1.60" fill="#ebebeb"/>
<circle cx="306.62" cy="274.42" r="1.60" fill="#ebebeb"/>
<circle cx="287.08" cy="356.32" r="1.60" fill="#ebebeb"/>
<circle cx="289.19" cy="295.40" r="1.60" fill="#ebebeb"/>
<circle cx="282.75" cy="262.32" r="1.60" fill="#ebebeb"/>
<circle cx="315.20" cy="346.52" r="1.60" fill="#ebebeb"/>
<circle cx="262.11" cy="375.08" r="1.60" fill="#ebebeb"/>
<circle cx="304.77" cy="337.04" r="1.60" fill="#ebebeb"/>
<circle cx="290.98" cy="340.19" r="1.60" fill="#ebebeb"/>
<circle cx="303.49" cy="252.09" r="1.60" fill="#ebebeb"/>
<circle cx="297.41" cy="317.29" r="1.60" fill="#ebebeb"/>
<circle cx="303.43" cy="325.92" r="1.60" fill="#ebebeb"/>
<circle cx="369.44" cy="311.17" r="1.60" fill="#ebebeb"/>
<circle cx="265.88" cy="353.44" r="1.60" fill="#ebebeb"/>
<circle cx="277.05" cy="362.87" r="1.60" fill="#ebebeb"/>
<circle cx="385.39" cy="310.20" r="1.60" fill="#ebebeb"/>
<circle cx="260.08" cy="365.31" r="1.60" fill="#ebebeb"/>
<circle cx="303.24" cy="293.36" r="1.60" fill="#ebebeb"/>
<circle cx="279.10" cy="313.20" r="1.60" fill="#c2b8dd"/>
<circle cx="274.90" cy="351.30" r="1.60" fill="#c2b8dd"/>
<circle cx="302.50" cy="359.40" r="1.60" fill="#c2b8dd"/>
<circle cx="244.70" cy="362.30" r="1.60" fill="#c2b8dd"/>
<circle cx="254.60" cy="359.70" r="1.60" fill="#c2b8dd"/>
<circle cx="261.80" cy="372.60" r="1.60" fill="#c2b8dd"/>
<circle cx="275.20" cy="337.00" r="1.60" fill="#9a8ccb"/>
<circle cx="278.00" cy="340.00" r="1.60" fill="#9a8ccb"/>
<circle cx="276.30" cy="342.50" r="1.60" fill="#9a8ccb"/>
<circle cx="294.70" cy="340.80" r="1.60" fill="#9a8ccb"/>
<circle cx="299.20" cy="343.90" r="1.60" fill="#9a8ccb"/>
<circle cx="292.60" cy="349.50" r="1.60" fill="#9a8ccb"/>
<circle cx="271.00" cy="352.30" r="1.60" fill="#9a8ccb"/>
<circle cx="285.40" cy="352.00" r="1.60" fill="#9a8ccb"/>
<circle cx="242.10" cy="343.70" r="1.60" fill="#9a8ccb"/>
<circle cx="276.20" cy="342.40" r="1.60" fill="#9a8ccb"/>
<circle cx="285.40" cy="352.50" r="1.60" fill="#9a8ccb"/>
<circle cx="303.20" cy="354.50" r="1.60" fill="#9a8ccb"/>
<circle cx="293.60" cy="361.00" r="1.60" fill="#9a8ccb"/>
<circle cx="242.10" cy="354.50" r="1.60" fill="#9a8ccb"/>
<circle cx="244.10" cy="355.50" r="1.60" fill="#9a8ccb"/>
<circle cx="236.20" cy="356.40" r="1.60" fill="#9a8ccb"/>
<circle cx="236.20" cy="359.10" r="1.60" fill="#9a8ccb"/>
<circle cx="240.80" cy="363.40" r="1.60" fill="#9a8ccb"/>
<circle cx="242.10" cy="366.30" r="1.60" fill="#9a8ccb"/>
<circle cx="246.00" cy="365.20" r="1.60" fill="#9a8ccb"/>
<circle cx="248.00" cy="363.70" r="1.60" fill="#9a8ccb"/>
<circle cx="252.60" cy="360.40" r="1.60" fill="#9a8ccb"/>
<circle cx="244.10" cy="370.00" r="1.60" fill="#9a8ccb"/>
<circle cx="254.60" cy="374.20" r="1.60" fill="#9a8ccb"/>
<circle cx="256.50" cy="365.60" r="1.60" fill="#9a8ccb"/>
<circle cx="260.50" cy="366.30" r="1.60" fill="#9a8ccb"/>
<circle cx="267.00" cy="365.00" r="1.60" fill="#9a8ccb"/>
<circle cx="264.40" cy="368.20" r="1.60" fill="#9a8ccb"/>
<circle cx="266.80" cy="368.20" r="1.60" fill="#9a8ccb"/>
<circle cx="278.90" cy="369.60" r="1.60" fill="#9a8ccb"/>
<circle cx="283.50" cy="369.20" r="1.60" fill="#9a8ccb"/>
<circle cx="276.20" cy="372.20" r="1.60" fill="#9a8ccb"/>
<circle cx="274.90" cy="374.80" r="1.60" fill="#9a8ccb"/>
<circle cx="249.00" cy="379.20" r="1.60" fill="#9a8ccb"/>
<circle cx="252.60" cy="382.00" r="1.60" fill="#9a8ccb"/>
<circle cx="262.40" cy="378.10" r="1.60" fill="#9a8ccb"/>
<circle cx="258.90" cy="382.70" r="1.60" fill="#9a8ccb"/>
<circle cx="263.10" cy="380.70" r="1.60" fill="#9a8ccb"/>
<circle cx="265.70" cy="383.40" r="1.60" fill="#9a8ccb"/>
<circle cx="262.40" cy="386.00" r="1.60" fill="#9a8ccb"/>
<circle cx="322.50" cy="264.20" r="1.60" fill="#7262b8"/>
<circle cx="326.70" cy="292.10" r="1.60" fill="#7262b8"/>
<circle cx="262.30" cy="305.90" r="1.60" fill="#7262b8"/>
<circle cx="261.90" cy="312.50" r="1.60" fill="#7262b8"/>
<circle cx="316.40" cy="308.70" r="1.60" fill="#7262b8"/>
<circle cx="304.10" cy="330.20" r="1.60" fill="#7262b8"/>
<circle cx="312.60" cy="329.20" r="1.60" fill="#7262b8"/>
<circle cx="320.30" cy="333.40" r="1.60" fill="#7262b8"/>
<circle cx="328.50" cy="333.20" r="1.60" fill="#7262b8"/>
<circle cx="281.40" cy="336.60" r="1.60" fill="#7262b8"/>
<circle cx="285.40" cy="338.30" r="1.60" fill="#7262b8"/>
<circle cx="266.50" cy="342.50" r="1.60" fill="#7262b8"/>
<circle cx="271.90" cy="343.90" r="1.60" fill="#7262b8"/>
<circle cx="313.30" cy="339.70" r="1.60" fill="#7262b8"/>
<circle cx="315.40" cy="343.20" r="1.60" fill="#7262b8"/>
<circle cx="325.50" cy="345.00" r="1.60" fill="#7262b8"/>
<circle cx="251.40" cy="346.70" r="1.60" fill="#7262b8"/>
<circle cx="299.20" cy="348.40" r="1.60" fill="#7262b8"/>
<circle cx="302.40" cy="349.50" r="1.60" fill="#7262b8"/>
<circle cx="305.90" cy="347.00" r="1.60" fill="#7262b8"/>
<circle cx="298.90" cy="351.60" r="1.60" fill="#7262b8"/>
<circle cx="301.40" cy="353.00" r="1.60" fill="#7262b8"/>
<circle cx="248.40" cy="347.50" r="1.60" fill="#7262b8"/>
<circle cx="251.30" cy="346.60" r="1.60" fill="#7262b8"/>
<circle cx="272.00" cy="343.90" r="1.60" fill="#7262b8"/>
<circle cx="292.70" cy="349.90" r="1.60" fill="#7262b8"/>
<circle cx="294.60" cy="356.40" r="1.60" fill="#7262b8"/>
<circle cx="235.50" cy="363.90" r="1.60" fill="#7262b8"/>
<circle cx="250.00" cy="363.00" r="1.60" fill="#7262b8"/>
<circle cx="250.60" cy="365.60" r="1.60" fill="#7262b8"/>
<circle cx="249.30" cy="370.90" r="1.60" fill="#7262b8"/>
<circle cx="251.90" cy="371.50" r="1.60" fill="#7262b8"/>
<circle cx="255.50" cy="372.20" r="1.60" fill="#7262b8"/>
<circle cx="263.10" cy="365.00" r="1.60" fill="#7262b8"/>
<circle cx="264.40" cy="360.40" r="1.60" fill="#7262b8"/>
<circle cx="273.90" cy="364.30" r="1.60" fill="#7262b8"/>
<circle cx="253.90" cy="384.70" r="1.60" fill="#7262b8"/>
<circle cx="258.50" cy="379.40" r="1.60" fill="#7262b8"/>
<circle cx="316.30" cy="308.90" r="1.60" fill="#7262b8"/>
<circle cx="320.20" cy="333.70" r="1.60" fill="#7262b8"/>
<circle cx="315.80" cy="343.50" r="1.60" fill="#7262b8"/>
<circle cx="325.60" cy="345.30" r="1.60" fill="#7262b8"/>
<circle cx="324.00" cy="355.40" r="1.60" fill="#7262b8"/>
<circle cx="358.20" cy="361.10" r="1.60" fill="#7262b8"/>
<circle cx="297.30" cy="256.30" r="1.60" fill="#4b45a8"/>
<circle cx="327.40" cy="258.90" r="1.60" fill="#4b45a8"/>
<circle cx="306.40" cy="288.20" r="1.60" fill="#4b45a8"/>
<circle cx="259.80" cy="319.90" r="1.60" fill="#4b45a8"/>
<circle cx="284.00" cy="318.10" r="1.60" fill="#4b45a8"/>
<circle cx="292.90" cy="316.40" r="1.60" fill="#4b45a8"/>
<circle cx="300.30" cy="316.00" r="1.60" fill="#4b45a8"/>
<circle cx="274.20" cy="328.30" r="1.60" fill="#4b45a8"/>
<circle cx="297.20" cy="326.00" r="1.60" fill="#4b45a8"/>
<circle cx="308.00" cy="332.50" r="1.60" fill="#4b45a8"/>
<circle cx="311.20" cy="332.50" r="1.60" fill="#4b45a8"/>
<circle cx="265.10" cy="340.80" r="1.60" fill="#4b45a8"/>
<circle cx="282.60" cy="347.80" r="1.60" fill="#4b45a8"/>
<circle cx="290.20" cy="353.70" r="1.60" fill="#4b45a8"/>
<circle cx="294.40" cy="353.00" r="1.60" fill="#4b45a8"/>
<circle cx="324.00" cy="354.40" r="1.60" fill="#4b45a8"/>
<circle cx="290.30" cy="354.50" r="1.60" fill="#4b45a8"/>
<circle cx="299.60" cy="348.50" r="1.60" fill="#4b45a8"/>
<circle cx="305.80" cy="346.80" r="1.60" fill="#4b45a8"/>
<circle cx="308.70" cy="357.10" r="1.60" fill="#4b45a8"/>
<circle cx="366.90" cy="315.40" r="1.60" fill="#4b45a8"/>
<circle cx="322.00" cy="311.30" r="1.60" fill="#3a48a8"/>
<circle cx="292.60" cy="332.30" r="1.60" fill="#3a48a8"/>
<circle cx="273.90" cy="359.10" r="1.60" fill="#3a48a8"/>
</g>
<defs><linearGradient id="pur" x1="0" y1="1" x2="0" y2="0"><stop offset="0" stop-color="#ebebed"/><stop offset="0.25" stop-color="#b3a6d6"/><stop offset="0.5" stop-color="#7e6cc0"/><stop offset="0.75" stop-color="#5143a8"/><stop offset="1.0" stop-color="#3a4aab"/></linearGradient></defs>
<rect x="402.10" y="294.80" width="7.00" height="37.10" fill="url(#pur)" />
<text x="413.40" y="300.40" font-size="8" text-anchor="start" font-weight="normal" font-style="normal" fill="#000" >1.00</text>
<line x1="402.10" y1="305.55" x2="403.50" y2="305.55" stroke="#fff" stroke-width="0.6"/>
<line x1="407.70" y1="305.55" x2="409.10" y2="305.55" stroke="#fff" stroke-width="0.6"/>
<text x="413.40" y="308.45" font-size="8" text-anchor="start" font-weight="normal" font-style="normal" fill="#000" >0.75</text>
<line x1="402.10" y1="313.60" x2="403.50" y2="313.60" stroke="#fff" stroke-width="0.6"/>
<line x1="407.70" y1="313.60" x2="409.10" y2="313.60" stroke="#fff" stroke-width="0.6"/>
<text x="413.40" y="316.50" font-size="8" text-anchor="start" font-weight="normal" font-style="normal" fill="#000" >0.50</text>
<line x1="402.10" y1="321.65" x2="403.50" y2="321.65" stroke="#fff" stroke-width="0.6"/>
<line x1="407.70" y1="321.65" x2="409.10" y2="321.65" stroke="#fff" stroke-width="0.6"/>
<text x="413.40" y="324.55" font-size="8" text-anchor="start" font-weight="normal" font-style="normal" fill="#000" >0.25</text>
<text x="413.40" y="332.60" font-size="8" text-anchor="start" font-weight="normal" font-style="normal" fill="#000" >0.00</text>
<text x="430.60" y="226.00" font-size="11.5" text-anchor="start" font-weight="bold" font-style="normal" fill="#000" >E</text>
<text x="563.40" y="223.10" font-size="9.5" text-anchor="middle" font-weight="normal" font-style="normal" fill="#000" >m<tspan font-size="5.6" dy="-3.3">1</tspan><tspan dy="3.3">A_score</tspan></text>
<line x1="465.40" y1="234.50" x2="465.40" y2="399.90" stroke="#8a8a8a" stroke-width="1.3"/>
<line x1="464.80" y1="399.30" x2="655.40" y2="399.30" stroke="#8a8a8a" stroke-width="1.3"/>
<line x1="463.70" y1="248.40" x2="465.40" y2="248.40" stroke="#8a8a8a" stroke-width="0.8"/>
<text x="458.00" y="253.50" font-size="9.5" text-anchor="end" font-weight="normal" font-style="normal" fill="#000" >30</text>
<line x1="463.70" y1="278.60" x2="465.40" y2="278.60" stroke="#8a8a8a" stroke-width="0.8"/>
<text x="458.00" y="283.70" font-size="9.5" text-anchor="end" font-weight="normal" font-style="normal" fill="#000" >20</text>
<line x1="463.70" y1="308.90" x2="465.40" y2="308.90" stroke="#8a8a8a" stroke-width="0.8"/>
<text x="458.00" y="314.00" font-size="9.5" text-anchor="end" font-weight="normal" font-style="normal" fill="#000" >10</text>
<line x1="463.70" y1="339.70" x2="465.40" y2="339.70" stroke="#8a8a8a" stroke-width="0.8"/>
<text x="458.00" y="344.80" font-size="9.5" text-anchor="end" font-weight="normal" font-style="normal" fill="#000" >0</text>
<line x1="463.70" y1="370.60" x2="465.40" y2="370.60" stroke="#8a8a8a" stroke-width="0.8"/>
<text x="458.00" y="375.70" font-size="9.5" text-anchor="end" font-weight="normal" font-style="normal" fill="#000" >−10</text>
<line x1="522.50" y1="399.30" x2="522.50" y2="401.10" stroke="#8a8a8a" stroke-width="0.8"/>
<text x="520.40" y="411.60" font-size="9.5" text-anchor="middle" font-weight="normal" font-style="normal" fill="#000" >−20</text>
<line x1="585.90" y1="399.30" x2="585.90" y2="401.10" stroke="#8a8a8a" stroke-width="0.8"/>
<text x="586.00" y="411.60" font-size="9.5" text-anchor="middle" font-weight="normal" font-style="normal" fill="#000" >0</text>
<line x1="649.70" y1="399.30" x2="649.70" y2="401.10" stroke="#8a8a8a" stroke-width="0.8"/>
<text x="649.20" y="411.60" font-size="9.5" text-anchor="middle" font-weight="normal" font-style="normal" fill="#000" >20</text>
<text x="578.85" y="425.30" font-size="9.5" text-anchor="middle" font-weight="normal" font-style="normal" fill="#000" >tSNE_1</text>
<text transform="translate(444.2,314.5) rotate(-90)" font-size="9.5" text-anchor="middle" fill="#000">tSNE_2</text>
<g>
<circle cx="516.59" cy="288.31" r="1.75" fill="#bcb1da"/>
<circle cx="523.21" cy="261.10" r="1.75" fill="#e5e3ea"/>
<circle cx="591.02" cy="283.14" r="1.75" fill="#b5a8d7"/>
<circle cx="536.73" cy="295.70" r="1.75" fill="#e3e1ea"/>
<circle cx="558.15" cy="311.03" r="1.75" fill="#dfdce8"/>
<circle cx="571.57" cy="310.30" r="1.75" fill="#d9d4e5"/>
<circle cx="490.09" cy="374.78" r="1.75" fill="#d7d3e5"/>
<circle cx="539.02" cy="256.92" r="1.75" fill="#5143a8"/>
<circle cx="613.63" cy="291.62" r="1.75" fill="#e2e0e9"/>
<circle cx="574.69" cy="281.68" r="1.75" fill="#bbb0d9"/>
<circle cx="553.92" cy="260.98" r="1.75" fill="#e9e8ec"/>
<circle cx="517.27" cy="316.30" r="1.75" fill="#baaed9"/>
<circle cx="589.66" cy="302.88" r="1.75" fill="#e7e6eb"/>
<circle cx="495.20" cy="347.17" r="1.75" fill="#bfb5db"/>
<circle cx="537.43" cy="251.41" r="1.75" fill="#8d7dc6"/>
<circle cx="541.87" cy="351.68" r="1.75" fill="#d9d5e6"/>
<circle cx="556.80" cy="278.55" r="1.75" fill="#eaeaed"/>
<circle cx="564.82" cy="340.73" r="1.75" fill="#b3a6d6"/>
<circle cx="635.08" cy="306.49" r="1.75" fill="#e6e5eb"/>
<circle cx="516.39" cy="381.67" r="1.75" fill="#dad6e6"/>
<circle cx="573.88" cy="278.27" r="1.75" fill="#dedbe8"/>
<circle cx="529.52" cy="345.96" r="1.75" fill="#ac9ed3"/>
<circle cx="570.65" cy="292.85" r="1.75" fill="#e7e6eb"/>
<circle cx="589.50" cy="310.83" r="1.75" fill="#e9e9ec"/>
<circle cx="504.60" cy="361.39" r="1.75" fill="#eaeaed"/>
<circle cx="589.66" cy="261.32" r="1.75" fill="#e8e7ec"/>
<circle cx="541.18" cy="246.96" r="1.75" fill="#e5e4eb"/>
<circle cx="501.23" cy="339.25" r="1.75" fill="#e0dde8"/>
<circle cx="582.30" cy="284.28" r="1.75" fill="#bcb0d9"/>
<circle cx="542.28" cy="306.66" r="1.75" fill="#e5e4eb"/>
<circle cx="523.91" cy="365.78" r="1.75" fill="#c0b6db"/>
<circle cx="542.27" cy="301.55" r="1.75" fill="#6d5db7"/>
<circle cx="533.86" cy="276.09" r="1.75" fill="#e7e6eb"/>
<circle cx="532.94" cy="299.75" r="1.75" fill="#dedbe8"/>
<circle cx="594.50" cy="294.29" r="1.75" fill="#e6e5eb"/>
<circle cx="567.68" cy="272.77" r="1.75" fill="#beb4db"/>
<circle cx="504.08" cy="340.11" r="1.75" fill="#8b7ac5"/>
<circle cx="553.12" cy="310.72" r="1.75" fill="#e2dfe9"/>
<circle cx="533.97" cy="320.31" r="1.75" fill="#8b7ac5"/>
<circle cx="533.22" cy="263.03" r="1.75" fill="#e3e1ea"/>
<circle cx="513.13" cy="294.58" r="1.75" fill="#e2e0e9"/>
<circle cx="568.47" cy="337.83" r="1.75" fill="#8775c4"/>
<circle cx="600.49" cy="283.77" r="1.75" fill="#c0b6db"/>
<circle cx="550.96" cy="292.87" r="1.75" fill="#c5bcdd"/>
<circle cx="550.22" cy="352.82" r="1.75" fill="#bdb2da"/>
<circle cx="560.27" cy="317.32" r="1.75" fill="#a597d0"/>
<circle cx="541.34" cy="348.36" r="1.75" fill="#a192cf"/>
<circle cx="517.22" cy="312.32" r="1.75" fill="#c2b8dc"/>
<circle cx="578.20" cy="288.17" r="1.75" fill="#e1dfe9"/>
<circle cx="486.97" cy="371.23" r="1.75" fill="#b7acd8"/>
<circle cx="521.64" cy="273.09" r="1.75" fill="#eaeaed"/>
<circle cx="557.97" cy="315.79" r="1.75" fill="#e9e9ec"/>
<circle cx="558.72" cy="290.31" r="1.75" fill="#ebeaed"/>
<circle cx="532.19" cy="291.59" r="1.75" fill="#e3e1ea"/>
<circle cx="563.95" cy="279.49" r="1.75" fill="#e6e4eb"/>
<circle cx="501.28" cy="317.77" r="1.75" fill="#d8d4e5"/>
<circle cx="528.19" cy="353.14" r="1.75" fill="#d0cae2"/>
<circle cx="479.67" cy="365.29" r="1.75" fill="#aa9cd2"/>
<circle cx="521.23" cy="332.46" r="1.75" fill="#8d7dc6"/>
<circle cx="555.99" cy="273.89" r="1.75" fill="#e3e2ea"/>
<circle cx="552.09" cy="277.71" r="1.75" fill="#e6e5eb"/>
<circle cx="531.01" cy="293.39" r="1.75" fill="#e3e2ea"/>
<circle cx="513.82" cy="322.77" r="1.75" fill="#ad9fd4"/>
<circle cx="491.22" cy="339.85" r="1.75" fill="#e4e3ea"/>
<circle cx="524.70" cy="330.77" r="1.75" fill="#8270c2"/>
<circle cx="552.30" cy="296.51" r="1.75" fill="#6a5ab6"/>
<circle cx="522.93" cy="284.30" r="1.75" fill="#6b5ab6"/>
<circle cx="505.61" cy="381.38" r="1.75" fill="#dddae7"/>
<circle cx="548.56" cy="282.22" r="1.75" fill="#c0b6db"/>
<circle cx="542.22" cy="346.43" r="1.75" fill="#ab9dd3"/>
<circle cx="620.75" cy="299.70" r="1.75" fill="#e9e8ec"/>
<circle cx="492.91" cy="354.26" r="1.75" fill="#bfb5db"/>
<circle cx="529.61" cy="340.11" r="1.75" fill="#a395d0"/>
<circle cx="560.58" cy="292.06" r="1.75" fill="#e6e5eb"/>
<circle cx="527.29" cy="333.92" r="1.75" fill="#c4bbdd"/>
<circle cx="513.28" cy="357.93" r="1.75" fill="#e5e4eb"/>
<circle cx="525.20" cy="332.81" r="1.75" fill="#9181c8"/>
<circle cx="524.25" cy="341.50" r="1.75" fill="#bbb0d9"/>
<circle cx="541.91" cy="324.39" r="1.75" fill="#ac9ed3"/>
<circle cx="557.41" cy="285.98" r="1.75" fill="#d7d2e5"/>
<circle cx="571.68" cy="277.12" r="1.75" fill="#e0dde8"/>
<circle cx="538.58" cy="299.25" r="1.75" fill="#e1dee9"/>
<circle cx="520.96" cy="325.53" r="1.75" fill="#bcb1da"/>
<circle cx="579.69" cy="272.08" r="1.75" fill="#e3e1ea"/>
<circle cx="637.13" cy="316.12" r="1.75" fill="#e0dde8"/>
<circle cx="525.29" cy="278.32" r="1.75" fill="#e1dfe9"/>
<circle cx="586.95" cy="312.97" r="1.75" fill="#dcd8e7"/>
<circle cx="510.44" cy="344.61" r="1.75" fill="#aa9dd2"/>
<circle cx="555.83" cy="313.20" r="1.75" fill="#dfdce8"/>
<circle cx="544.44" cy="340.12" r="1.75" fill="#cdc7e1"/>
<circle cx="512.75" cy="313.20" r="1.75" fill="#e3e1ea"/>
<circle cx="551.67" cy="264.70" r="1.75" fill="#e1dfe9"/>
<circle cx="522.38" cy="288.30" r="1.75" fill="#e7e6eb"/>
<circle cx="526.11" cy="306.54" r="1.75" fill="#a99cd2"/>
<circle cx="530.91" cy="327.07" r="1.75" fill="#dddae7"/>
<circle cx="561.78" cy="272.81" r="1.75" fill="#e3e1ea"/>
<circle cx="585.01" cy="298.36" r="1.75" fill="#e1dfe9"/>
<circle cx="513.62" cy="382.27" r="1.75" fill="#e3e1ea"/>
<circle cx="545.14" cy="280.58" r="1.75" fill="#c6bede"/>
<circle cx="634.61" cy="316.18" r="1.75" fill="#e9e9ec"/>
<circle cx="600.14" cy="297.32" r="1.75" fill="#ccc5e0"/>
<circle cx="515.91" cy="319.01" r="1.75" fill="#dbd7e6"/>
<circle cx="503.60" cy="375.50" r="1.75" fill="#6556b3"/>
<circle cx="568.16" cy="293.91" r="1.75" fill="#9d8ecd"/>
<circle cx="510.60" cy="267.48" r="1.75" fill="#e6e5eb"/>
<circle cx="531.25" cy="278.19" r="1.75" fill="#e6e5eb"/>
<circle cx="495.38" cy="374.94" r="1.75" fill="#8d7cc6"/>
<circle cx="551.67" cy="326.45" r="1.75" fill="#6b5bb6"/>
<circle cx="519.12" cy="305.06" r="1.75" fill="#9888cb"/>
<circle cx="517.92" cy="264.28" r="1.75" fill="#eaeaed"/>
<circle cx="520.99" cy="306.90" r="1.75" fill="#a89ad2"/>
<circle cx="502.13" cy="343.81" r="1.75" fill="#c1b8dc"/>
<circle cx="577.07" cy="336.52" r="1.75" fill="#e7e7ec"/>
<circle cx="523.94" cy="322.71" r="1.75" fill="#a293cf"/>
<circle cx="550.04" cy="284.09" r="1.75" fill="#e7e6eb"/>
<circle cx="518.56" cy="335.68" r="1.75" fill="#d6d1e4"/>
<circle cx="529.33" cy="316.63" r="1.75" fill="#b6aad7"/>
<circle cx="525.00" cy="304.31" r="1.75" fill="#dcd9e7"/>
<circle cx="543.47" cy="304.90" r="1.75" fill="#d8d3e5"/>
<circle cx="535.83" cy="306.92" r="1.75" fill="#eaeaed"/>
<circle cx="500.45" cy="320.35" r="1.75" fill="#c7bede"/>
<circle cx="549.07" cy="317.75" r="1.75" fill="#8a79c5"/>
<circle cx="541.92" cy="291.18" r="1.75" fill="#bcb1da"/>
<circle cx="577.54" cy="273.25" r="1.75" fill="#8e7ec7"/>
<circle cx="581.74" cy="280.40" r="1.75" fill="#eaeaed"/>
<circle cx="538.10" cy="308.18" r="1.75" fill="#c5bcdd"/>
<circle cx="545.51" cy="266.24" r="1.75" fill="#a596d0"/>
<circle cx="555.47" cy="342.66" r="1.75" fill="#d2cde3"/>
<circle cx="564.16" cy="333.12" r="1.75" fill="#c2b9dc"/>
<circle cx="562.48" cy="335.37" r="1.75" fill="#d5d0e4"/>
<circle cx="531.33" cy="260.02" r="1.75" fill="#e4e2ea"/>
<circle cx="644.11" cy="331.42" r="1.75" fill="#e4e2ea"/>
<circle cx="540.97" cy="327.72" r="1.75" fill="#7665bc"/>
<circle cx="506.78" cy="319.14" r="1.75" fill="#bbb0d9"/>
<circle cx="603.27" cy="287.38" r="1.75" fill="#bdb2da"/>
<circle cx="623.74" cy="360.25" r="1.75" fill="#9f90ce"/>
<circle cx="536.66" cy="325.80" r="1.75" fill="#dad6e6"/>
<circle cx="549.19" cy="259.91" r="1.75" fill="#eaeaed"/>
<circle cx="564.32" cy="351.66" r="1.75" fill="#bbb0d9"/>
<circle cx="523.95" cy="263.04" r="1.75" fill="#dcd8e7"/>
<circle cx="603.07" cy="264.39" r="1.75" fill="#eae9ec"/>
<circle cx="521.60" cy="329.93" r="1.75" fill="#9181c8"/>
<circle cx="569.74" cy="302.17" r="1.75" fill="#c9c1df"/>
<circle cx="555.73" cy="329.36" r="1.75" fill="#806ec1"/>
<circle cx="529.13" cy="283.96" r="1.75" fill="#e0dee9"/>
<circle cx="589.97" cy="353.57" r="1.75" fill="#e7e6eb"/>
<circle cx="565.59" cy="342.98" r="1.75" fill="#d2cce3"/>
<circle cx="523.17" cy="357.80" r="1.75" fill="#eaeaed"/>
<circle cx="595.99" cy="297.11" r="1.75" fill="#bcb1da"/>
<circle cx="526.45" cy="358.74" r="1.75" fill="#c4bbdd"/>
<circle cx="515.99" cy="359.61" r="1.75" fill="#b0a2d5"/>
<circle cx="532.43" cy="363.10" r="1.75" fill="#cdc6e1"/>
<circle cx="575.35" cy="342.45" r="1.75" fill="#6152b1"/>
<circle cx="541.21" cy="308.65" r="1.75" fill="#a698d1"/>
<circle cx="569.01" cy="283.66" r="1.75" fill="#bcb1da"/>
<circle cx="523.46" cy="354.51" r="1.75" fill="#d0cae2"/>
<circle cx="514.83" cy="305.61" r="1.75" fill="#dedbe8"/>
<circle cx="597.87" cy="284.95" r="1.75" fill="#dfdce8"/>
<circle cx="528.97" cy="305.08" r="1.75" fill="#e8e8ec"/>
<circle cx="554.00" cy="292.85" r="1.75" fill="#d5d0e4"/>
<circle cx="532.22" cy="337.26" r="1.75" fill="#8573c3"/>
<circle cx="540.01" cy="329.89" r="1.75" fill="#cec8e1"/>
<circle cx="579.74" cy="282.14" r="1.75" fill="#e9e8ec"/>
<circle cx="533.70" cy="279.81" r="1.75" fill="#b1a4d5"/>
<circle cx="552.64" cy="283.88" r="1.75" fill="#bfb4db"/>
<circle cx="571.61" cy="260.80" r="1.75" fill="#ebebed"/>
<circle cx="524.27" cy="314.16" r="1.75" fill="#e2e0e9"/>
<circle cx="517.65" cy="350.20" r="1.75" fill="#c3badd"/>
<circle cx="550.28" cy="294.91" r="1.75" fill="#dedbe8"/>
<circle cx="541.69" cy="315.39" r="1.75" fill="#c6bdde"/>
<circle cx="574.94" cy="317.76" r="1.75" fill="#e3e1ea"/>
<circle cx="485.69" cy="362.45" r="1.75" fill="#d1cbe2"/>
<circle cx="563.08" cy="260.75" r="1.75" fill="#e1dee9"/>
<circle cx="557.80" cy="327.22" r="1.75" fill="#7463bb"/>
<circle cx="513.70" cy="317.95" r="1.75" fill="#8c7bc6"/>
<circle cx="598.66" cy="278.31" r="1.75" fill="#c0b5db"/>
<circle cx="535.97" cy="262.74" r="1.75" fill="#e4e2ea"/>
<circle cx="590.47" cy="287.54" r="1.75" fill="#a294cf"/>
<circle cx="534.00" cy="269.94" r="1.75" fill="#e9e8ec"/>
<circle cx="518.85" cy="363.09" r="1.75" fill="#6858b4"/>
<circle cx="512.85" cy="365.27" r="1.75" fill="#9181c8"/>
<circle cx="585.35" cy="271.74" r="1.75" fill="#d6d1e4"/>
<circle cx="623.78" cy="312.79" r="1.75" fill="#bdb3da"/>
<circle cx="539.21" cy="294.75" r="1.75" fill="#d6d1e4"/>
<circle cx="516.57" cy="329.42" r="1.75" fill="#8372c2"/>
<circle cx="516.59" cy="286.33" r="1.75" fill="#e4e2ea"/>
<circle cx="590.60" cy="307.77" r="1.75" fill="#e3e1ea"/>
<circle cx="511.06" cy="361.45" r="1.75" fill="#e8e8ec"/>
<circle cx="546.40" cy="283.41" r="1.75" fill="#e8e8ec"/>
<circle cx="534.42" cy="327.25" r="1.75" fill="#b4a7d6"/>
<circle cx="567.57" cy="296.57" r="1.75" fill="#bbb0d9"/>
<circle cx="543.72" cy="301.89" r="1.75" fill="#ac9ed3"/>
<circle cx="491.64" cy="342.21" r="1.75" fill="#9484c9"/>
<circle cx="489.13" cy="363.80" r="1.75" fill="#e9e8ec"/>
<circle cx="479.56" cy="353.78" r="1.75" fill="#dad6e6"/>
<circle cx="581.43" cy="317.85" r="1.75" fill="#8a79c5"/>
<circle cx="631.24" cy="309.96" r="1.75" fill="#bbb0d9"/>
<circle cx="548.40" cy="345.47" r="1.75" fill="#e6e5eb"/>
<circle cx="493.21" cy="365.89" r="1.75" fill="#8978c5"/>
<circle cx="567.79" cy="343.99" r="1.75" fill="#c4bbdd"/>
<circle cx="534.55" cy="324.64" r="1.75" fill="#b6aad7"/>
<circle cx="510.34" cy="347.80" r="1.75" fill="#7b6abf"/>
<circle cx="543.87" cy="250.77" r="1.75" fill="#e9e9ec"/>
<circle cx="526.15" cy="261.89" r="1.75" fill="#bdb2da"/>
<circle cx="515.02" cy="378.60" r="1.75" fill="#b5a9d7"/>
<circle cx="543.90" cy="284.98" r="1.75" fill="#e6e5eb"/>
<circle cx="523.24" cy="296.67" r="1.75" fill="#e5e4eb"/>
<circle cx="561.41" cy="277.82" r="1.75" fill="#e7e7ec"/>
<circle cx="619.88" cy="305.19" r="1.75" fill="#6757b4"/>
<circle cx="569.28" cy="340.86" r="1.75" fill="#e3e1ea"/>
<circle cx="581.24" cy="306.78" r="1.75" fill="#d1cae2"/>
<circle cx="611.39" cy="272.47" r="1.75" fill="#e6e5eb"/>
<circle cx="527.19" cy="341.76" r="1.75" fill="#d5d0e4"/>
<circle cx="564.40" cy="344.68" r="1.75" fill="#e5e3ea"/>
<circle cx="525.62" cy="282.82" r="1.75" fill="#eaeaed"/>
<circle cx="503.91" cy="364.28" r="1.75" fill="#baafd9"/>
<circle cx="577.23" cy="333.72" r="1.75" fill="#d3cde3"/>
<circle cx="523.26" cy="279.70" r="1.75" fill="#dfdde8"/>
<circle cx="576.16" cy="304.14" r="1.75" fill="#dedae7"/>
<circle cx="542.13" cy="334.70" r="1.75" fill="#b2a5d5"/>
<circle cx="495.11" cy="361.12" r="1.75" fill="#7665bc"/>
<circle cx="531.23" cy="335.23" r="1.75" fill="#c8c0df"/>
<circle cx="502.58" cy="326.52" r="1.75" fill="#e1dee9"/>
<circle cx="555.13" cy="296.59" r="1.75" fill="#9484c9"/>
<circle cx="521.13" cy="336.32" r="1.75" fill="#806ec1"/>
<circle cx="561.24" cy="353.32" r="1.75" fill="#ac9ed3"/>
<circle cx="493.22" cy="344.29" r="1.75" fill="#e1dfe9"/>
<circle cx="550.55" cy="252.66" r="1.75" fill="#e1dee9"/>
<circle cx="594.76" cy="306.53" r="1.75" fill="#5c4dae"/>
<circle cx="627.94" cy="307.06" r="1.75" fill="#d0cae2"/>
<circle cx="528.10" cy="269.78" r="1.75" fill="#dedbe8"/>
<circle cx="514.75" cy="376.51" r="1.75" fill="#bcb1da"/>
<circle cx="517.74" cy="297.77" r="1.75" fill="#e2dfe9"/>
<circle cx="560.17" cy="319.35" r="1.75" fill="#e4e3ea"/>
<circle cx="492.30" cy="346.58" r="1.75" fill="#e0dde8"/>
<circle cx="498.26" cy="325.13" r="1.75" fill="#d4cee3"/>
<circle cx="583.00" cy="286.27" r="1.75" fill="#dfdce8"/>
<circle cx="631.45" cy="313.59" r="1.75" fill="#bcb1da"/>
<circle cx="544.35" cy="323.83" r="1.75" fill="#cdc6e1"/>
<circle cx="569.30" cy="271.54" r="1.75" fill="#e1dfe9"/>
<circle cx="508.74" cy="374.22" r="1.75" fill="#7362ba"/>
<circle cx="504.59" cy="348.16" r="1.75" fill="#e3e1ea"/>
<circle cx="586.91" cy="294.82" r="1.75" fill="#e5e3ea"/>
<circle cx="568.36" cy="288.74" r="1.75" fill="#e9e9ec"/>
<circle cx="539.46" cy="318.21" r="1.75" fill="#b2a4d5"/>
<circle cx="507.32" cy="349.99" r="1.75" fill="#8e7dc7"/>
<circle cx="569.27" cy="298.76" r="1.75" fill="#e7e7ec"/>
<circle cx="535.77" cy="271.40" r="1.75" fill="#b2a5d6"/>
<circle cx="530.52" cy="281.05" r="1.75" fill="#c9c2df"/>
<circle cx="576.65" cy="340.58" r="1.75" fill="#9383c9"/>
<circle cx="512.19" cy="326.80" r="1.75" fill="#cfc9e2"/>
<circle cx="575.82" cy="331.32" r="1.75" fill="#9f90ce"/>
<circle cx="485.52" cy="365.40" r="1.75" fill="#dcd8e7"/>
<circle cx="522.94" cy="301.63" r="1.75" fill="#e2e0e9"/>
<circle cx="613.63" cy="291.42" r="1.75" fill="#e2e0e9"/>
<circle cx="517.13" cy="366.67" r="1.75" fill="#9d8ecd"/>
<circle cx="630.82" cy="303.26" r="1.75" fill="#cbc4e0"/>
<circle cx="557.26" cy="354.86" r="1.75" fill="#cbc3e0"/>
<circle cx="513.82" cy="320.61" r="1.75" fill="#e9e9ec"/>
<circle cx="500.25" cy="356.01" r="1.75" fill="#b9add8"/>
<circle cx="553.44" cy="306.57" r="1.75" fill="#e4e3ea"/>
<circle cx="565.93" cy="328.84" r="1.75" fill="#8270c2"/>
<circle cx="482.59" cy="340.75" r="1.75" fill="#bdb2da"/>
<circle cx="506.77" cy="386.81" r="1.75" fill="#9787ca"/>
<circle cx="577.23" cy="344.69" r="1.75" fill="#d0c9e2"/>
<circle cx="489.62" cy="371.10" r="1.75" fill="#9d8ecd"/>
<circle cx="508.61" cy="379.75" r="1.75" fill="#7a68be"/>
<circle cx="568.46" cy="286.49" r="1.75" fill="#e3e1ea"/>
<circle cx="532.06" cy="323.19" r="1.75" fill="#d5d0e4"/>
<circle cx="524.35" cy="336.54" r="1.75" fill="#9d8ecd"/>
<circle cx="552.97" cy="312.98" r="1.75" fill="#eae9ec"/>
<circle cx="514.49" cy="384.35" r="1.75" fill="#a697d0"/>
<circle cx="579.09" cy="303.44" r="1.75" fill="#9888cb"/>
<circle cx="518.98" cy="308.10" r="1.75" fill="#e2e0e9"/>
<circle cx="544.73" cy="315.17" r="1.75" fill="#e7e6eb"/>
<circle cx="516.47" cy="308.70" r="1.75" fill="#806fc1"/>
<circle cx="599.62" cy="289.65" r="1.75" fill="#d9d5e6"/>
<circle cx="500.26" cy="367.36" r="1.75" fill="#6a5ab6"/>
<circle cx="578.38" cy="275.56" r="1.75" fill="#dedbe8"/>
<circle cx="570.26" cy="279.57" r="1.75" fill="#dfdce8"/>
<circle cx="534.90" cy="267.12" r="1.75" fill="#ac9ed3"/>
<circle cx="546.45" cy="296.25" r="1.75" fill="#eaeaed"/>
<circle cx="535.76" cy="322.93" r="1.75" fill="#ac9ed3"/>
<circle cx="529.67" cy="369.48" r="1.75" fill="#b3a6d6"/>
<circle cx="494.18" cy="370.52" r="1.75" fill="#8f7ec7"/>
<circle cx="574.51" cy="299.53" r="1.75" fill="#c3badd"/>
<circle cx="581.19" cy="296.83" r="1.75" fill="#e9e8ec"/>
<circle cx="578.38" cy="312.91" r="1.75" fill="#bfb5db"/>
<circle cx="539.74" cy="310.59" r="1.75" fill="#e3e1ea"/>
<circle cx="533.65" cy="312.91" r="1.75" fill="#dbd7e6"/>
<circle cx="524.81" cy="271.72" r="1.75" fill="#e3e1ea"/>
<circle cx="502.21" cy="372.94" r="1.75" fill="#8170c1"/>
<circle cx="509.23" cy="386.03" r="1.75" fill="#a394cf"/>
<circle cx="540.06" cy="360.97" r="1.75" fill="#5345a9"/>
<circle cx="517.04" cy="357.83" r="1.75" fill="#a89ad2"/>
<circle cx="479.28" cy="362.84" r="1.75" fill="#8c7cc6"/>
<circle cx="522.89" cy="368.73" r="1.75" fill="#c5bdde"/>
<circle cx="536.89" cy="318.50" r="1.75" fill="#8e7ec7"/>
<circle cx="526.94" cy="276.54" r="1.75" fill="#ebebed"/>
<circle cx="589.30" cy="290.55" r="1.75" fill="#dcd9e7"/>
<circle cx="548.85" cy="327.05" r="1.75" fill="#e6e5eb"/>
<circle cx="585.90" cy="312.94" r="1.75" fill="#e0dde8"/>
<circle cx="512.08" cy="315.08" r="1.75" fill="#cac3e0"/>
<circle cx="511.95" cy="376.55" r="1.75" fill="#907fc7"/>
<circle cx="548.31" cy="246.49" r="1.75" fill="#e7e6eb"/>
<circle cx="594.31" cy="332.52" r="1.75" fill="#c2b9dc"/>
<circle cx="523.90" cy="294.70" r="1.75" fill="#e7e7ec"/>
<circle cx="591.10" cy="298.30" r="1.75" fill="#ebebed"/>
<circle cx="542.93" cy="263.26" r="1.75" fill="#e5e4eb"/>
<circle cx="510.09" cy="333.27" r="1.75" fill="#d3cee3"/>
<circle cx="522.59" cy="338.33" r="1.75" fill="#afa2d5"/>
<circle cx="528.35" cy="294.46" r="1.75" fill="#c7bfde"/>
<circle cx="528.79" cy="267.32" r="1.75" fill="#7f6dc0"/>
<circle cx="550.42" cy="341.91" r="1.75" fill="#e3e1ea"/>
<circle cx="485.76" cy="348.17" r="1.75" fill="#e1dfe9"/>
<circle cx="559.32" cy="336.79" r="1.75" fill="#cdc6e1"/>
<circle cx="519.59" cy="371.84" r="1.75" fill="#9f90ce"/>
<circle cx="573.47" cy="306.29" r="1.75" fill="#ebebed"/>
<circle cx="570.45" cy="290.85" r="1.75" fill="#bfb4db"/>
<circle cx="635.99" cy="308.94" r="1.75" fill="#9282c8"/>
<circle cx="584.91" cy="301.89" r="1.75" fill="#c6bdde"/>
<circle cx="548.35" cy="333.70" r="1.75" fill="#ccc5e0"/>
<circle cx="595.39" cy="274.96" r="1.75" fill="#c2b8dc"/>
<circle cx="525.16" cy="274.32" r="1.75" fill="#d0cae2"/>
<circle cx="536.94" cy="354.85" r="1.75" fill="#cec7e1"/>
<circle cx="557.02" cy="306.76" r="1.75" fill="#e5e4eb"/>
<circle cx="571.28" cy="326.99" r="1.75" fill="#806ec1"/>
<circle cx="588.02" cy="300.07" r="1.75" fill="#b6aad7"/>
<circle cx="515.24" cy="301.62" r="1.75" fill="#dedae7"/>
<circle cx="549.73" cy="339.68" r="1.75" fill="#9585ca"/>
<circle cx="539.49" cy="358.98" r="1.75" fill="#cdc6e1"/>
<circle cx="630.20" cy="316.31" r="1.75" fill="#d5d0e4"/>
<circle cx="532.53" cy="306.98" r="1.75" fill="#e4e2ea"/>
<circle cx="500.22" cy="358.43" r="1.75" fill="#d0cae2"/>
<circle cx="554.38" cy="276.74" r="1.75" fill="#dfdde8"/>
<circle cx="540.12" cy="333.24" r="1.75" fill="#a395cf"/>
<circle cx="597.67" cy="295.35" r="1.75" fill="#dfdce8"/>
<circle cx="546.39" cy="310.38" r="1.75" fill="#e5e3ea"/>
<circle cx="519.85" cy="289.49" r="1.75" fill="#e5e4eb"/>
<circle cx="479.76" cy="345.86" r="1.75" fill="#e4e3ea"/>
<circle cx="584.83" cy="256.18" r="1.75" fill="#ad9fd4"/>
<circle cx="536.33" cy="279.92" r="1.75" fill="#b6a9d7"/>
<circle cx="562.04" cy="305.83" r="1.75" fill="#cdc6e1"/>
<circle cx="621.52" cy="306.78" r="1.75" fill="#e2e0e9"/>
<circle cx="548.03" cy="341.18" r="1.75" fill="#e6e5eb"/>
<circle cx="530.67" cy="314.09" r="1.75" fill="#ccc4e0"/>
<circle cx="512.14" cy="300.85" r="1.75" fill="#9080c8"/>
<circle cx="543.49" cy="278.27" r="1.75" fill="#e6e4eb"/>
<circle cx="571.96" cy="308.18" r="1.75" fill="#dfdce8"/>
<circle cx="626.82" cy="302.24" r="1.75" fill="#c8c0df"/>
<circle cx="525.68" cy="317.09" r="1.75" fill="#a798d1"/>
<circle cx="570.35" cy="272.63" r="1.75" fill="#b7abd8"/>
<circle cx="518.00" cy="299.79" r="1.75" fill="#b7abd8"/>
<circle cx="559.96" cy="287.12" r="1.75" fill="#e7e5eb"/>
<circle cx="574.80" cy="338.61" r="1.75" fill="#6050b0"/>
<circle cx="510.25" cy="299.03" r="1.75" fill="#e0dee9"/>
<circle cx="579.53" cy="284.53" r="1.75" fill="#dfdce8"/>
<circle cx="489.92" cy="355.24" r="1.75" fill="#5c4dae"/>
<circle cx="477.56" cy="349.14" r="1.75" fill="#7968be"/>
<circle cx="534.08" cy="334.65" r="1.75" fill="#c8c0df"/>
<circle cx="555.18" cy="334.38" r="1.75" fill="#705fb8"/>
<circle cx="485.93" cy="367.84" r="1.75" fill="#b9aed9"/>
<circle cx="524.07" cy="327.78" r="1.75" fill="#d9d4e5"/>
<circle cx="525.88" cy="301.92" r="1.75" fill="#e3e1ea"/>
<circle cx="565.73" cy="336.90" r="1.75" fill="#9b8ccc"/>
<circle cx="593.37" cy="299.40" r="1.75" fill="#dedce8"/>
<circle cx="522.56" cy="315.70" r="1.75" fill="#dfdce8"/>
<circle cx="574.43" cy="329.65" r="1.75" fill="#4048aa"/>
<circle cx="540.88" cy="252.47" r="1.75" fill="#e9e9ec"/>
<circle cx="592.72" cy="301.58" r="1.75" fill="#e8e7ec"/>
<circle cx="561.98" cy="338.37" r="1.75" fill="#4148aa"/>
<circle cx="642.54" cy="318.05" r="1.75" fill="#d4cfe4"/>
<circle cx="511.30" cy="305.79" r="1.75" fill="#e7e6eb"/>
<circle cx="496.38" cy="319.59" r="1.75" fill="#e4e3ea"/>
<circle cx="574.01" cy="288.44" r="1.75" fill="#c3badd"/>
<circle cx="560.72" cy="267.99" r="1.75" fill="#e3e2ea"/>
<circle cx="610.74" cy="351.27" r="1.75" fill="#e5e3ea"/>
<circle cx="551.19" cy="337.20" r="1.75" fill="#c4bbdd"/>
<circle cx="565.26" cy="282.23" r="1.75" fill="#c3badd"/>
<circle cx="546.00" cy="318.77" r="1.75" fill="#c6bede"/>
<circle cx="482.70" cy="359.03" r="1.75" fill="#9c8dcc"/>
<circle cx="504.63" cy="372.15" r="1.75" fill="#cac3e0"/>
<circle cx="528.74" cy="335.95" r="1.75" fill="#e6e5eb"/>
<circle cx="507.56" cy="343.38" r="1.75" fill="#b4a7d6"/>
<circle cx="517.18" cy="270.27" r="1.75" fill="#e3e1ea"/>
<circle cx="560.55" cy="302.68" r="1.75" fill="#dfdde8"/>
<circle cx="518.23" cy="355.97" r="1.75" fill="#e7e6eb"/>
<circle cx="598.12" cy="282.33" r="1.75" fill="#e1dfe9"/>
<circle cx="543.85" cy="256.13" r="1.75" fill="#e0dde8"/>
<circle cx="565.62" cy="307.02" r="1.75" fill="#c6bdde"/>
<circle cx="557.66" cy="344.29" r="1.75" fill="#baaed9"/>
<circle cx="546.64" cy="338.01" r="1.75" fill="#bcb0d9"/>
<circle cx="511.62" cy="385.08" r="1.75" fill="#7d6bc0"/>
<circle cx="531.19" cy="289.74" r="1.75" fill="#e7e7ec"/>
<circle cx="520.37" cy="348.70" r="1.75" fill="#a597d0"/>
<circle cx="583.30" cy="289.49" r="1.75" fill="#ebebed"/>
<circle cx="511.72" cy="359.60" r="1.75" fill="#9686ca"/>
<circle cx="544.72" cy="321.77" r="1.75" fill="#cec7e1"/>
<circle cx="551.19" cy="286.53" r="1.75" fill="#e4e2ea"/>
<circle cx="569.50" cy="306.47" r="1.75" fill="#dcd8e7"/>
<circle cx="529.90" cy="350.30" r="1.75" fill="#b6aad7"/>
<circle cx="500.84" cy="369.35" r="1.75" fill="#b7aad7"/>
<circle cx="505.85" cy="373.94" r="1.75" fill="#8b7ac5"/>
<circle cx="519.03" cy="331.14" r="1.75" fill="#d2cce3"/>
<circle cx="548.02" cy="320.03" r="1.75" fill="#e4e2ea"/>
<circle cx="509.67" cy="366.03" r="1.75" fill="#ab9dd3"/>
<circle cx="528.11" cy="273.70" r="1.75" fill="#7665bc"/>
<circle cx="520.30" cy="317.63" r="1.75" fill="#dad6e6"/>
<circle cx="503.16" cy="383.64" r="1.75" fill="#8472c2"/>
<circle cx="553.28" cy="335.96" r="1.75" fill="#8b7ac5"/>
<circle cx="553.84" cy="279.46" r="1.75" fill="#dbd8e7"/>
<circle cx="551.98" cy="329.92" r="1.75" fill="#6353b1"/>
<circle cx="477.28" cy="358.79" r="1.75" fill="#b7abd8"/>
<circle cx="507.22" cy="372.32" r="1.75" fill="#7f6dc1"/>
<circle cx="530.56" cy="321.32" r="1.75" fill="#bbb0d9"/>
<circle cx="527.93" cy="347.96" r="1.75" fill="#beb4db"/>
<circle cx="483.26" cy="363.38" r="1.75" fill="#7463bb"/>
<circle cx="560.98" cy="351.25" r="1.75" fill="#b7abd8"/>
<circle cx="574.41" cy="296.35" r="1.75" fill="#e7e6eb"/>
<circle cx="518.90" cy="360.51" r="1.75" fill="#e8e8ec"/>
<circle cx="581.05" cy="288.28" r="1.75" fill="#bcb1da"/>
<circle cx="555.24" cy="255.27" r="1.75" fill="#e3e1ea"/>
<circle cx="544.43" cy="292.11" r="1.75" fill="#e7e7ec"/>
<circle cx="526.27" cy="291.03" r="1.75" fill="#e5e4eb"/>
<circle cx="486.67" cy="344.50" r="1.75" fill="#9b8ccc"/>
<circle cx="563.91" cy="318.69" r="1.75" fill="#6f5eb8"/>
<circle cx="517.70" cy="276.46" r="1.75" fill="#5b4cae"/>
<circle cx="503.18" cy="350.48" r="1.75" fill="#e4e3ea"/>
<circle cx="584.01" cy="293.50" r="1.75" fill="#b3a6d6"/>
<circle cx="565.01" cy="317.36" r="1.75" fill="#d1cbe2"/>
<circle cx="570.23" cy="328.78" r="1.75" fill="#c7bede"/>
<circle cx="571.04" cy="336.66" r="1.75" fill="#b2a5d6"/>
<circle cx="543.56" cy="294.45" r="1.75" fill="#e8e7ec"/>
<circle cx="573.07" cy="268.50" r="1.75" fill="#e2e0e9"/>
<circle cx="496.57" cy="378.28" r="1.75" fill="#cec7e1"/>
<circle cx="513.41" cy="355.85" r="1.75" fill="#d4cfe4"/>
<circle cx="592.66" cy="296.35" r="1.75" fill="#e7e6eb"/>
<circle cx="489.16" cy="351.62" r="1.75" fill="#9484c9"/>
<circle cx="581.20" cy="312.88" r="1.75" fill="#a192ce"/>
<circle cx="492.78" cy="362.30" r="1.75" fill="#d7d2e5"/>
<circle cx="583.67" cy="300.14" r="1.75" fill="#e5e4eb"/>
<circle cx="539.46" cy="283.28" r="1.75" fill="#e8e7ec"/>
<circle cx="574.35" cy="302.61" r="1.75" fill="#e5e4eb"/>
<circle cx="547.53" cy="257.34" r="1.75" fill="#e0dee9"/>
<circle cx="563.77" cy="313.62" r="1.75" fill="#ccc5e0"/>
<circle cx="542.81" cy="359.69" r="1.75" fill="#4d44a9"/>
<circle cx="551.43" cy="245.05" r="1.75" fill="#9b8bcc"/>
<circle cx="533.44" cy="284.57" r="1.75" fill="#dfdce8"/>
<circle cx="494.35" cy="339.32" r="1.75" fill="#c5bcdd"/>
<circle cx="544.40" cy="352.08" r="1.75" fill="#c4bbdd"/>
<circle cx="559.21" cy="308.19" r="1.75" fill="#a091ce"/>
<circle cx="550.20" cy="312.26" r="1.75" fill="#dfdce8"/>
<circle cx="534.34" cy="331.04" r="1.75" fill="#8877c4"/>
<circle cx="515.07" cy="262.49" r="1.75" fill="#cec8e1"/>
<circle cx="497.65" cy="356.31" r="1.75" fill="#eaeaed"/>
<circle cx="572.72" cy="298.04" r="1.75" fill="#e5e4eb"/>
<circle cx="622.17" cy="276.46" r="1.75" fill="#e9e8ec"/>
<circle cx="562.19" cy="331.12" r="1.75" fill="#e1dee9"/>
<circle cx="539.64" cy="312.60" r="1.75" fill="#e7e6eb"/>
<circle cx="582.32" cy="315.87" r="1.75" fill="#e4e3ea"/>
<circle cx="618.45" cy="298.87" r="1.75" fill="#a799d1"/>
<circle cx="586.95" cy="314.36" r="1.75" fill="#c8c0df"/>
<circle cx="576.46" cy="269.52" r="1.75" fill="#e5e4eb"/>
<circle cx="593.84" cy="262.92" r="1.75" fill="#d2cce3"/>
<circle cx="549.49" cy="324.55" r="1.75" fill="#dcd8e7"/>
<circle cx="569.23" cy="315.87" r="1.75" fill="#bdb2da"/>
<circle cx="581.12" cy="299.21" r="1.75" fill="#806ec1"/>
<circle cx="485.44" cy="357.21" r="1.75" fill="#ada0d4"/>
<circle cx="497.21" cy="322.38" r="1.75" fill="#d8d4e5"/>
<circle cx="582.90" cy="291.58" r="1.75" fill="#d2cce3"/>
<circle cx="588.54" cy="281.41" r="1.75" fill="#5f50b0"/>
<circle cx="576.83" cy="333.92" r="1.75" fill="#c9c1df"/>
<circle cx="600.37" cy="287.16" r="1.75" fill="#e3e1ea"/>
<circle cx="589.60" cy="292.89" r="1.75" fill="#baafd9"/>
<circle cx="534.83" cy="277.97" r="1.75" fill="#e6e5eb"/>
<circle cx="567.60" cy="333.13" r="1.75" fill="#d6d1e4"/>
<circle cx="482.40" cy="365.42" r="1.75" fill="#baafd9"/>
<circle cx="562.95" cy="342.19" r="1.75" fill="#dbd7e6"/>
<circle cx="540.42" cy="267.58" r="1.75" fill="#c3b9dc"/>
<circle cx="547.83" cy="304.41" r="1.75" fill="#e1dee9"/>
<circle cx="591.98" cy="304.90" r="1.75" fill="#d4cee3"/>
<circle cx="514.67" cy="315.88" r="1.75" fill="#8f7fc7"/>
<circle cx="553.50" cy="267.73" r="1.75" fill="#cec7e1"/>
<circle cx="482.81" cy="368.18" r="1.75" fill="#dfdce8"/>
<circle cx="533.68" cy="287.64" r="1.75" fill="#e4e3ea"/>
<circle cx="586.03" cy="333.72" r="1.75" fill="#c9c1df"/>
<circle cx="509.24" cy="355.06" r="1.75" fill="#e7e6eb"/>
<circle cx="523.21" cy="360.26" r="1.75" fill="#bfb4db"/>
<circle cx="525.61" cy="258.94" r="1.75" fill="#e1dfe9"/>
<circle cx="534.50" cy="282.61" r="1.75" fill="#ddd9e7"/>
<circle cx="516.23" cy="295.56" r="1.75" fill="#d7d2e5"/>
<circle cx="533.07" cy="315.10" r="1.75" fill="#ab9ed3"/>
<circle cx="566.68" cy="314.48" r="1.75" fill="#7564bb"/>
<circle cx="482.77" cy="352.80" r="1.75" fill="#a597d0"/>
<circle cx="521.95" cy="267.24" r="1.75" fill="#dedbe8"/>
<circle cx="635.95" cy="313.12" r="1.75" fill="#e8e7ec"/>
<circle cx="532.27" cy="348.59" r="1.75" fill="#d7d2e5"/>
<circle cx="547.24" cy="349.68" r="1.75" fill="#b4a7d6"/>
<circle cx="529.50" cy="337.85" r="1.75" fill="#dddae7"/>
<circle cx="536.28" cy="332.76" r="1.75" fill="#e6e5eb"/>
<circle cx="529.78" cy="300.56" r="1.75" fill="#e6e5eb"/>
<circle cx="490.00" cy="344.06" r="1.75" fill="#dedce8"/>
<circle cx="528.05" cy="281.88" r="1.75" fill="#e4e2ea"/>
<circle cx="578.15" cy="355.76" r="1.75" fill="#bbb0d9"/>
<circle cx="531.39" cy="367.86" r="1.75" fill="#d8d3e5"/>
<circle cx="527.47" cy="313.41" r="1.75" fill="#8f7ec7"/>
<circle cx="609.52" cy="271.90" r="1.75" fill="#e9e9ec"/>
<circle cx="588.80" cy="279.18" r="1.75" fill="#e7e7ec"/>
<circle cx="568.15" cy="304.60" r="1.75" fill="#e8e8ec"/>
<circle cx="551.14" cy="345.92" r="1.75" fill="#ccc5e0"/>
<circle cx="573.35" cy="283.48" r="1.75" fill="#e2e0e9"/>
<circle cx="562.87" cy="310.30" r="1.75" fill="#e8e7ec"/>
<circle cx="556.84" cy="338.45" r="1.75" fill="#7967bd"/>
<circle cx="528.04" cy="366.84" r="1.75" fill="#d0cae2"/>
<circle cx="565.70" cy="348.08" r="1.75" fill="#afa2d4"/>
<circle cx="519.22" cy="354.13" r="1.75" fill="#e1dfe9"/>
<circle cx="512.37" cy="330.66" r="1.75" fill="#cdc6e1"/>
<circle cx="544.32" cy="248.18" r="1.75" fill="#e8e7ec"/>
<circle cx="507.42" cy="383.12" r="1.75" fill="#d1cbe2"/>
<circle cx="570.89" cy="281.88" r="1.75" fill="#d4cfe4"/>
<circle cx="525.34" cy="297.85" r="1.75" fill="#b0a2d5"/>
<circle cx="577.28" cy="294.77" r="1.75" fill="#cdc6e1"/>
<circle cx="538.61" cy="247.38" r="1.75" fill="#d0cae2"/>
<circle cx="560.25" cy="340.79" r="1.75" fill="#d3cee3"/>
<circle cx="519.88" cy="287.15" r="1.75" fill="#e3e1ea"/>
<circle cx="626.84" cy="313.23" r="1.75" fill="#9181c8"/>
<circle cx="576.00" cy="277.09" r="1.75" fill="#dedae7"/>
<circle cx="577.02" cy="279.44" r="1.75" fill="#dedbe8"/>
<circle cx="516.47" cy="321.86" r="1.75" fill="#b7abd8"/>
<circle cx="535.62" cy="329.36" r="1.75" fill="#7e6cc0"/>
<circle cx="561.40" cy="289.15" r="1.75" fill="#e6e5eb"/>
<circle cx="519.56" cy="328.53" r="1.75" fill="#e9e8ec"/>
<circle cx="514.40" cy="361.64" r="1.75" fill="#dad6e6"/>
<circle cx="520.17" cy="357.88" r="1.75" fill="#cfc8e1"/>
<circle cx="638.46" cy="311.95" r="1.75" fill="#9b8bcc"/>
<circle cx="570.66" cy="274.66" r="1.75" fill="#e6e5eb"/>
<circle cx="573.96" cy="332.64" r="1.75" fill="#b1a4d5"/>
<circle cx="568.32" cy="349.51" r="1.75" fill="#bbb0d9"/>
<circle cx="553.03" cy="342.09" r="1.75" fill="#c4bbdd"/>
<circle cx="576.49" cy="284.00" r="1.75" fill="#a091ce"/>
<circle cx="552.13" cy="281.92" r="1.75" fill="#e9e8ec"/>
<circle cx="520.94" cy="295.71" r="1.75" fill="#dfdde8"/>
<circle cx="594.72" cy="281.22" r="1.75" fill="#e3e2ea"/>
<circle cx="543.87" cy="275.18" r="1.75" fill="#e4e3ea"/>
<circle cx="539.45" cy="290.50" r="1.75" fill="#c7bede"/>
<circle cx="525.80" cy="319.61" r="1.75" fill="#bcb1da"/>
<circle cx="527.78" cy="260.15" r="1.75" fill="#e3e1ea"/>
<circle cx="579.03" cy="261.81" r="1.75" fill="#e3e2ea"/>
<circle cx="496.70" cy="366.86" r="1.75" fill="#d6d2e5"/>
<circle cx="567.57" cy="275.01" r="1.75" fill="#e4e3ea"/>
<circle cx="538.86" cy="306.25" r="1.75" fill="#dedbe8"/>
<circle cx="554.40" cy="249.24" r="1.75" fill="#d0cae2"/>
<circle cx="574.00" cy="294.02" r="1.75" fill="#7e6cc0"/>
<circle cx="574.54" cy="311.79" r="1.75" fill="#6454b2"/>
<circle cx="587.36" cy="304.12" r="1.75" fill="#e5e4eb"/>
<circle cx="571.66" cy="317.17" r="1.75" fill="#d5d0e4"/>
<circle cx="591.44" cy="294.55" r="1.75" fill="#e2dfe9"/>
<circle cx="537.75" cy="272.69" r="1.75" fill="#cec7e1"/>
<circle cx="625.28" cy="308.09" r="1.75" fill="#eaeaed"/>
<circle cx="545.33" cy="347.19" r="1.75" fill="#816fc1"/>
<circle cx="567.75" cy="281.42" r="1.75" fill="#cec8e1"/>
<circle cx="532.02" cy="318.25" r="1.75" fill="#8776c4"/>
<circle cx="537.39" cy="281.77" r="1.75" fill="#e6e4eb"/>
<circle cx="502.57" cy="353.66" r="1.75" fill="#aa9cd2"/>
<circle cx="606.00" cy="265.08" r="1.75" fill="#c0b6db"/>
<circle cx="501.07" cy="379.65" r="1.75" fill="#7b6abf"/>
<circle cx="632.89" cy="307.92" r="1.75" fill="#e4e2ea"/>
<circle cx="543.64" cy="331.52" r="1.75" fill="#7564bb"/>
<circle cx="563.97" cy="346.60" r="1.75" fill="#b1a4d5"/>
<circle cx="581.43" cy="324.14" r="1.75" fill="#a596d0"/>
<circle cx="563.89" cy="271.59" r="1.75" fill="#e4e2ea"/>
<circle cx="562.32" cy="285.24" r="1.75" fill="#dedbe8"/>
<circle cx="557.52" cy="261.58" r="1.75" fill="#c8bfde"/>
<circle cx="633.87" cy="314.33" r="1.75" fill="#e1dee9"/>
<circle cx="568.19" cy="326.53" r="1.75" fill="#e9e8ec"/>
<circle cx="627.97" cy="304.32" r="1.75" fill="#8f7fc7"/>
<circle cx="499.86" cy="374.05" r="1.75" fill="#8473c3"/>
<circle cx="574.98" cy="286.02" r="1.75" fill="#e9e9ec"/>
<circle cx="498.34" cy="352.07" r="1.75" fill="#e8e7ec"/>
<circle cx="514.42" cy="275.16" r="1.75" fill="#9180c8"/>
<circle cx="571.15" cy="334.61" r="1.75" fill="#9a8bcc"/>
<circle cx="579.13" cy="308.13" r="1.75" fill="#c3b9dc"/>
<circle cx="583.00" cy="310.85" r="1.75" fill="#e9e8ec"/>
<circle cx="559.44" cy="275.21" r="1.75" fill="#e7e6eb"/>
<circle cx="592.65" cy="278.99" r="1.75" fill="#d7d3e5"/>
<circle cx="527.29" cy="263.39" r="1.75" fill="#e1dfe9"/>
<circle cx="504.76" cy="368.99" r="1.75" fill="#c4bcdd"/>
<circle cx="561.08" cy="258.61" r="1.75" fill="#9a8bcc"/>
<circle cx="503.03" cy="367.02" r="1.75" fill="#9383c9"/>
<circle cx="527.77" cy="371.42" r="1.75" fill="#d9d4e5"/>
<circle cx="563.87" cy="326.47" r="1.75" fill="#8675c3"/>
<circle cx="508.24" cy="269.47" r="1.75" fill="#d3cde3"/>
<circle cx="552.07" cy="315.41" r="1.75" fill="#dedbe8"/>
<circle cx="563.91" cy="316.08" r="1.75" fill="#e8e8ec"/>
<circle cx="560.55" cy="333.07" r="1.75" fill="#6959b5"/>
<circle cx="526.59" cy="337.57" r="1.75" fill="#aa9cd2"/>
<circle cx="543.61" cy="350.12" r="1.75" fill="#6959b5"/>
<circle cx="633.19" cy="311.36" r="1.75" fill="#c8bfde"/>
<circle cx="516.31" cy="303.81" r="1.75" fill="#e7e6eb"/>
<circle cx="540.76" cy="304.51" r="1.75" fill="#e2e0e9"/>
<circle cx="528.46" cy="279.39" r="1.75" fill="#e5e3ea"/>
<circle cx="547.70" cy="330.62" r="1.75" fill="#ac9fd3"/>
<circle cx="525.15" cy="311.08" r="1.75" fill="#8a79c5"/>
<circle cx="559.09" cy="295.07" r="1.75" fill="#e8e8ec"/>
<circle cx="515.63" cy="353.96" r="1.75" fill="#8574c3"/>
<circle cx="482.76" cy="356.97" r="1.75" fill="#ddd9e7"/>
<circle cx="531.49" cy="365.02" r="1.75" fill="#cdc6e1"/>
<circle cx="509.98" cy="335.73" r="1.75" fill="#9180c8"/>
<circle cx="593.26" cy="332.52" r="1.75" fill="#e2e0e9"/>
<circle cx="511.51" cy="370.83" r="1.75" fill="#6556b3"/>
<circle cx="547.37" cy="285.48" r="1.75" fill="#c7bede"/>
<circle cx="522.56" cy="334.36" r="1.75" fill="#806ec1"/>
<circle cx="572.11" cy="339.96" r="1.75" fill="#9a8acc"/>
<circle cx="559.13" cy="279.80" r="1.75" fill="#cac2df"/>
<circle cx="599.60" cy="280.63" r="1.75" fill="#9181c8"/>
<circle cx="556.75" cy="340.37" r="1.75" fill="#a395d0"/>
<circle cx="528.31" cy="264.05" r="1.75" fill="#e7e6eb"/>
<circle cx="519.26" cy="352.04" r="1.75" fill="#e7e6eb"/>
<circle cx="493.80" cy="368.20" r="1.75" fill="#d5d0e4"/>
<circle cx="535.79" cy="315.77" r="1.75" fill="#e9e9ec"/>
<circle cx="545.71" cy="306.13" r="1.75" fill="#e4e2ea"/>
<circle cx="643.59" cy="303.39" r="1.75" fill="#bfb5db"/>
<circle cx="586.13" cy="277.75" r="1.75" fill="#ac9ed3"/>
<circle cx="618.48" cy="301.23" r="1.75" fill="#d1cbe2"/>
<circle cx="547.67" cy="352.03" r="1.75" fill="#a091ce"/>
<circle cx="563.35" cy="328.62" r="1.75" fill="#b9add8"/>
<circle cx="564.69" cy="273.72" r="1.75" fill="#e0dee9"/>
<circle cx="535.97" cy="349.25" r="1.75" fill="#c8c0df"/>
<circle cx="512.00" cy="378.49" r="1.75" fill="#d3cee3"/>
<circle cx="526.91" cy="315.40" r="1.75" fill="#c4bbdd"/>
<circle cx="530.75" cy="297.75" r="1.75" fill="#e6e4eb"/>
<circle cx="561.47" cy="344.83" r="1.75" fill="#9687ca"/>
<circle cx="562.99" cy="349.88" r="1.75" fill="#a091ce"/>
<circle cx="565.56" cy="334.83" r="1.75" fill="#e8e8ec"/>
<circle cx="552.05" cy="323.53" r="1.75" fill="#8573c3"/>
<circle cx="545.61" cy="261.61" r="1.75" fill="#e9e8ec"/>
<circle cx="566.68" cy="301.75" r="1.75" fill="#e7e6eb"/>
<circle cx="522.98" cy="375.19" r="1.75" fill="#e6e5eb"/>
<circle cx="577.92" cy="292.37" r="1.75" fill="#e3e1ea"/>
<circle cx="502.43" cy="347.12" r="1.75" fill="#b1a4d5"/>
<circle cx="525.04" cy="339.42" r="1.75" fill="#d3cde3"/>
<circle cx="539.05" cy="302.88" r="1.75" fill="#ccc5e0"/>
<circle cx="570.39" cy="330.42" r="1.75" fill="#8b7ac5"/>
<circle cx="571.39" cy="285.17" r="1.75" fill="#e8e7ec"/>
<circle cx="487.09" cy="340.69" r="1.75" fill="#ccc4e0"/>
<circle cx="529.90" cy="333.24" r="1.75" fill="#8573c3"/>
<circle cx="505.21" cy="337.92" r="1.75" fill="#cac2df"/>
<circle cx="584.18" cy="282.79" r="1.75" fill="#ebeaed"/>
<circle cx="540.61" cy="355.20" r="1.75" fill="#c5bdde"/>
<circle cx="586.10" cy="305.87" r="1.75" fill="#dfdce8"/>
<circle cx="547.75" cy="313.67" r="1.75" fill="#c2b8dc"/>
<circle cx="543.37" cy="309.87" r="1.75" fill="#e3e2ea"/>
<circle cx="546.20" cy="328.10" r="1.75" fill="#6051b0"/>
<circle cx="524.06" cy="309.19" r="1.75" fill="#8a79c5"/>
<circle cx="532.57" cy="355.99" r="1.75" fill="#9c8dcc"/>
<circle cx="612.18" cy="362.25" r="1.75" fill="#b8acd8"/>
<circle cx="535.35" cy="309.37" r="1.75" fill="#dfdce8"/>
<circle cx="546.81" cy="323.10" r="1.75" fill="#4c44a9"/>
<circle cx="511.13" cy="264.09" r="1.75" fill="#e1dfe9"/>
<circle cx="616.52" cy="350.28" r="1.75" fill="#ddd9e7"/>
<circle cx="539.05" cy="346.99" r="1.75" fill="#d3cee3"/>
<circle cx="559.43" cy="349.54" r="1.75" fill="#bdb2da"/>
<circle cx="578.72" cy="310.26" r="1.75" fill="#dfdce8"/>
<circle cx="623.19" cy="299.12" r="1.75" fill="#dfdce8"/>
<circle cx="519.77" cy="376.49" r="1.75" fill="#e3e1ea"/>
<circle cx="506.11" cy="355.78" r="1.75" fill="#c3b9dc"/>
<circle cx="555.72" cy="294.48" r="1.75" fill="#d0c9e2"/>
<circle cx="554.28" cy="347.24" r="1.75" fill="#9787ca"/>
<circle cx="555.10" cy="269.78" r="1.75" fill="#eaeaed"/>
<circle cx="495.46" cy="352.09" r="1.75" fill="#e3e1ea"/>
<circle cx="551.77" cy="347.95" r="1.75" fill="#cfc8e1"/>
<circle cx="525.53" cy="284.91" r="1.75" fill="#9d8ecd"/>
<circle cx="568.95" cy="324.49" r="1.75" fill="#e6e5eb"/>
<circle cx="586.08" cy="268.50" r="1.75" fill="#dfdce8"/>
<circle cx="527.62" cy="322.74" r="1.75" fill="#d5d0e4"/>
<circle cx="505.10" cy="351.75" r="1.75" fill="#e6e5eb"/>
<circle cx="519.25" cy="262.24" r="1.75" fill="#dbd7e6"/>
<circle cx="564.99" cy="298.54" r="1.75" fill="#bdb3da"/>
<circle cx="608.37" cy="299.40" r="1.75" fill="#e1dfe9"/>
<circle cx="563.60" cy="275.66" r="1.75" fill="#dfdce8"/>
<circle cx="522.19" cy="352.66" r="1.75" fill="#cac2df"/>
<circle cx="510.43" cy="382.51" r="1.75" fill="#dfdce8"/>
<circle cx="520.99" cy="281.62" r="1.75" fill="#e3e1ea"/>
<circle cx="550.90" cy="333.90" r="1.75" fill="#b1a4d5"/>
<circle cx="548.19" cy="343.22" r="1.75" fill="#e4e3ea"/>
<circle cx="520.22" cy="310.07" r="1.75" fill="#d7d2e5"/>
<circle cx="522.50" cy="303.66" r="1.75" fill="#e0dde8"/>
<circle cx="561.35" cy="315.34" r="1.75" fill="#e7e5eb"/>
<circle cx="558.55" cy="255.52" r="1.75" fill="#bfb5db"/>
<circle cx="516.71" cy="374.92" r="1.75" fill="#8675c3"/>
<circle cx="482.25" cy="354.93" r="1.75" fill="#d6d1e4"/>
<circle cx="622.10" cy="303.47" r="1.75" fill="#6252b1"/>
<circle cx="550.56" cy="247.82" r="1.75" fill="#c7bfde"/>
<circle cx="584.62" cy="275.82" r="1.75" fill="#e3e2ea"/>
<circle cx="513.10" cy="272.27" r="1.75" fill="#e8e8ec"/>
<circle cx="490.38" cy="347.92" r="1.75" fill="#ac9ed3"/>
<circle cx="544.17" cy="358.05" r="1.75" fill="#8675c4"/>
<circle cx="511.38" cy="387.23" r="1.75" fill="#9d8ecd"/>
<circle cx="536.22" cy="346.32" r="1.75" fill="#dedbe8"/>
<circle cx="545.51" cy="308.48" r="1.75" fill="#dfdce8"/>
<circle cx="524.65" cy="371.88" r="1.75" fill="#b0a3d5"/>
<circle cx="552.09" cy="318.08" r="1.75" fill="#d6d1e4"/>
<circle cx="598.00" cy="302.93" r="1.75" fill="#b0a2d5"/>
<circle cx="586.17" cy="310.76" r="1.75" fill="#e0dde8"/>
<circle cx="505.67" cy="359.16" r="1.75" fill="#cec7e1"/>
<circle cx="546.84" cy="248.77" r="1.75" fill="#ebebed"/>
<circle cx="576.94" cy="306.57" r="1.75" fill="#dedbe8"/>
<circle cx="497.09" cy="354.13" r="1.75" fill="#ebebed"/>
<circle cx="548.79" cy="287.95" r="1.75" fill="#a698d1"/>
<circle cx="491.44" cy="369.54" r="1.75" fill="#9b8ccc"/>
<circle cx="537.54" cy="321.45" r="1.75" fill="#9a8bcc"/>
<circle cx="559.27" cy="304.43" r="1.75" fill="#eaeaed"/>
<circle cx="554.05" cy="299.76" r="1.75" fill="#e5e3ea"/>
<circle cx="518.87" cy="337.98" r="1.75" fill="#b5a8d7"/>
<circle cx="498.41" cy="346.49" r="1.75" fill="#a192ce"/>
<circle cx="549.10" cy="278.08" r="1.75" fill="#dfdde8"/>
<circle cx="488.45" cy="366.62" r="1.75" fill="#d6d1e4"/>
<circle cx="551.19" cy="343.88" r="1.75" fill="#dddae7"/>
<circle cx="555.02" cy="307.38" r="1.75" fill="#e2e0e9"/>
<circle cx="513.09" cy="309.16" r="1.75" fill="#e4e2ea"/>
<circle cx="540.83" cy="337.19" r="1.75" fill="#d8d3e5"/>
<circle cx="509.19" cy="368.08" r="1.75" fill="#8978c4"/>
<circle cx="512.95" cy="373.77" r="1.75" fill="#8170c1"/>
<circle cx="556.65" cy="282.70" r="1.75" fill="#dedbe8"/>
<circle cx="580.39" cy="301.40" r="1.75" fill="#dfdce8"/>
<circle cx="594.12" cy="292.12" r="1.75" fill="#e3e1ea"/>
<circle cx="545.23" cy="312.71" r="1.75" fill="#e4e3ea"/>
<circle cx="544.62" cy="329.66" r="1.75" fill="#7362ba"/>
<circle cx="536.46" cy="269.29" r="1.75" fill="#e1dee9"/>
<circle cx="521.64" cy="273.96" r="1.75" fill="#c0b6db"/>
<circle cx="477.06" cy="351.03" r="1.75" fill="#7d6bc0"/>
<circle cx="550.81" cy="250.04" r="1.75" fill="#e5e4eb"/>
<circle cx="560.57" cy="328.61" r="1.75" fill="#c5bcdd"/>
<circle cx="545.23" cy="342.59" r="1.75" fill="#d4cfe4"/>
<circle cx="581.24" cy="293.34" r="1.75" fill="#e0dee9"/>
<circle cx="507.74" cy="305.36" r="1.75" fill="#b3a6d6"/>
<circle cx="573.03" cy="273.60" r="1.75" fill="#cac2df"/>
<circle cx="541.60" cy="288.15" r="1.75" fill="#dad6e6"/>
<circle cx="522.24" cy="377.59" r="1.75" fill="#d7d3e5"/>
<circle cx="631.76" cy="287.13" r="1.75" fill="#e5e3ea"/>
<circle cx="572.65" cy="280.37" r="1.75" fill="#dedbe8"/>
<circle cx="510.94" cy="363.66" r="1.75" fill="#e9e8ec"/>
<circle cx="548.14" cy="254.47" r="1.75" fill="#b8acd8"/>
<circle cx="477.66" cy="355.11" r="1.75" fill="#d7d3e5"/>
<circle cx="501.18" cy="364.22" r="1.75" fill="#8b7ac5"/>
<circle cx="557.99" cy="267.82" r="1.75" fill="#e7e6eb"/>
<circle cx="483.04" cy="349.15" r="1.75" fill="#dbd7e6"/>
<circle cx="566.19" cy="285.29" r="1.75" fill="#e7e6eb"/>
<circle cx="537.60" cy="253.72" r="1.75" fill="#e4e3ea"/>
<circle cx="579.75" cy="286.57" r="1.75" fill="#dfdce8"/>
<circle cx="540.73" cy="316.25" r="1.75" fill="#a799d1"/>
<circle cx="554.15" cy="338.19" r="1.75" fill="#c0b6db"/>
<circle cx="563.96" cy="330.42" r="1.75" fill="#6454b2"/>
<circle cx="628.71" cy="314.76" r="1.75" fill="#9686ca"/>
<circle cx="520.15" cy="322.42" r="1.75" fill="#d3cde3"/>
<circle cx="510.61" cy="338.22" r="1.75" fill="#baaed9"/>
<circle cx="529.51" cy="275.56" r="1.75" fill="#ebebed"/>
<circle cx="512.94" cy="297.00" r="1.75" fill="#8b7ac5"/>
<circle cx="541.59" cy="296.24" r="1.75" fill="#e3e1ea"/>
<circle cx="523.35" cy="263.79" r="1.75" fill="#e7e5eb"/>
<circle cx="588.73" cy="312.94" r="1.75" fill="#a89ad1"/>
<circle cx="579.58" cy="255.02" r="1.75" fill="#9080c8"/>
<circle cx="585.64" cy="284.54" r="1.75" fill="#baafd9"/>
<circle cx="577.05" cy="333.83" r="1.75" fill="#a99bd2"/>
<circle cx="492.39" cy="352.01" r="1.75" fill="#9484c9"/>
<circle cx="519.56" cy="374.03" r="1.75" fill="#ccc4e0"/>
<circle cx="591.04" cy="285.37" r="1.75" fill="#e3e1ea"/>
<circle cx="558.39" cy="257.82" r="1.75" fill="#5043a8"/>
<circle cx="641.22" cy="313.96" r="1.75" fill="#dad6e6"/>
<circle cx="500.67" cy="341.42" r="1.75" fill="#b8acd8"/>
<circle cx="564.96" cy="265.88" r="1.75" fill="#c7bfde"/>
<circle cx="526.15" cy="361.00" r="1.75" fill="#e7e6eb"/>
<circle cx="558.19" cy="330.14" r="1.75" fill="#afa2d4"/>
<circle cx="499.83" cy="362.53" r="1.75" fill="#8574c3"/>
<circle cx="522.54" cy="370.82" r="1.75" fill="#baafd9"/>
<circle cx="561.51" cy="263.63" r="1.75" fill="#e0dee9"/>
<circle cx="573.47" cy="335.83" r="1.75" fill="#9686ca"/>
<circle cx="597.06" cy="293.08" r="1.75" fill="#dedbe8"/>
<circle cx="521.23" cy="355.81" r="1.75" fill="#d8d3e5"/>
<circle cx="509.82" cy="275.46" r="1.75" fill="#e3e1ea"/>
<circle cx="549.01" cy="280.16" r="1.75" fill="#d4cfe4"/>
<circle cx="528.87" cy="318.97" r="1.75" fill="#b1a4d5"/>
<circle cx="572.29" cy="252.06" r="1.75" fill="#e6e5eb"/>
<circle cx="598.73" cy="300.71" r="1.75" fill="#cbc4e0"/>
<circle cx="524.84" cy="289.08" r="1.75" fill="#dbd7e6"/>
<circle cx="541.12" cy="261.75" r="1.75" fill="#c7bfde"/>
<circle cx="555.65" cy="258.45" r="1.75" fill="#e3e1ea"/>
<circle cx="535.70" cy="299.63" r="1.75" fill="#e3e1ea"/>
<circle cx="491.79" cy="364.14" r="1.75" fill="#e9e8ec"/>
<circle cx="537.51" cy="327.61" r="1.75" fill="#998acb"/>
<circle cx="516.69" cy="347.37" r="1.75" fill="#c9c2df"/>
<circle cx="488.57" cy="345.94" r="1.75" fill="#6252b1"/>
<circle cx="561.79" cy="307.88" r="1.75" fill="#6050b0"/>
<circle cx="625.22" cy="310.57" r="1.75" fill="#dedbe8"/>
<circle cx="532.89" cy="332.81" r="1.75" fill="#dfdce8"/>
<circle cx="480.12" cy="350.14" r="1.75" fill="#8977c4"/>
<circle cx="531.77" cy="342.08" r="1.75" fill="#ada0d4"/>
<circle cx="559.98" cy="299.94" r="1.75" fill="#c9c1df"/>
<circle cx="515.19" cy="339.24" r="1.75" fill="#eaeaed"/>
<circle cx="493.71" cy="373.18" r="1.75" fill="#e4e2ea"/>
<circle cx="587.48" cy="275.82" r="1.75" fill="#dedbe8"/>
<circle cx="570.86" cy="344.09" r="1.75" fill="#aa9cd2"/>
<circle cx="539.21" cy="326.16" r="1.75" fill="#6354b2"/>
<circle cx="586.04" cy="280.30" r="1.75" fill="#e7e6eb"/>
<circle cx="537.45" cy="277.79" r="1.75" fill="#7c6abf"/>
<circle cx="518.50" cy="333.27" r="1.75" fill="#cbc4e0"/>
<circle cx="572.10" cy="300.32" r="1.75" fill="#e4e3ea"/>
<circle cx="503.89" cy="345.39" r="1.75" fill="#cdc6e1"/>
<circle cx="555.88" cy="332.23" r="1.75" fill="#9888cb"/>
<circle cx="571.79" cy="346.10" r="1.75" fill="#c5bcdd"/>
<circle cx="498.17" cy="313.70" r="1.75" fill="#b7abd8"/>
<circle cx="556.59" cy="319.45" r="1.75" fill="#7b69be"/>
<circle cx="595.70" cy="304.42" r="1.75" fill="#e3e1ea"/>
<circle cx="589.51" cy="305.60" r="1.75" fill="#dfdce8"/>
<circle cx="583.76" cy="314.06" r="1.75" fill="#dfdce8"/>
<circle cx="597.07" cy="299.13" r="1.75" fill="#d6d1e4"/>
<circle cx="518.68" cy="280.37" r="1.75" fill="#a394cf"/>
<circle cx="569.59" cy="318.82" r="1.75" fill="#e2e0e9"/>
<circle cx="519.01" cy="266.08" r="1.75" fill="#beb3da"/>
<circle cx="507.47" cy="360.52" r="1.75" fill="#a293cf"/>
<circle cx="509.97" cy="297.16" r="1.75" fill="#ebebed"/>
<circle cx="562.28" cy="265.96" r="1.75" fill="#e5e4eb"/>
<circle cx="515.26" cy="327.02" r="1.75" fill="#c5bcdd"/>
<circle cx="623.80" cy="305.71" r="1.75" fill="#c3badd"/>
<circle cx="531.07" cy="358.75" r="1.75" fill="#baaed9"/>
<circle cx="501.15" cy="308.03" r="1.75" fill="#bdb3da"/>
<circle cx="525.65" cy="368.92" r="1.75" fill="#e7e6eb"/>
<circle cx="484.47" cy="342.12" r="1.75" fill="#6959b5"/>
<circle cx="550.65" cy="321.60" r="1.75" fill="#aea1d4"/>
<circle cx="490.27" cy="361.30" r="1.75" fill="#ebebed"/>
<circle cx="542.80" cy="297.01" r="1.75" fill="#e5e4eb"/>
<circle cx="514.61" cy="368.68" r="1.75" fill="#ab9dd3"/>
<circle cx="518.14" cy="291.47" r="1.75" fill="#dedbe8"/>
<circle cx="586.07" cy="289.76" r="1.75" fill="#e9e9ec"/>
<circle cx="552.70" cy="259.18" r="1.75" fill="#d6d1e4"/>
<circle cx="544.85" cy="334.13" r="1.75" fill="#aea0d4"/>
<circle cx="529.09" cy="330.70" r="1.75" fill="#d9d4e5"/>
<circle cx="534.65" cy="338.38" r="1.75" fill="#cac3e0"/>
<circle cx="509.10" cy="358.33" r="1.75" fill="#9e8fcd"/>
<circle cx="622.30" cy="350.28" r="1.75" fill="#e5e4eb"/>
<circle cx="515.45" cy="334.49" r="1.75" fill="#e0dde8"/>
<circle cx="566.03" cy="324.44" r="1.75" fill="#cdc6e1"/>
<circle cx="556.29" cy="301.90" r="1.75" fill="#e7e6eb"/>
<circle cx="537.41" cy="247.33" r="1.75" fill="#e9e8ec"/>
<circle cx="529.20" cy="271.84" r="1.75" fill="#e9e8ec"/>
<circle cx="519.84" cy="301.41" r="1.75" fill="#b4a8d7"/>
<circle cx="555.26" cy="327.18" r="1.75" fill="#6d5cb7"/>
<circle cx="482.49" cy="361.21" r="1.75" fill="#a697d0"/>
<circle cx="524.93" cy="269.38" r="1.75" fill="#e9e9ec"/>
<circle cx="559.17" cy="282.14" r="1.75" fill="#c1b7dc"/>
<circle cx="497.95" cy="371.60" r="1.75" fill="#ccc5e0"/>
<circle cx="557.62" cy="352.25" r="1.75" fill="#c3badd"/>
<circle cx="573.99" cy="344.53" r="1.75" fill="#dedbe8"/>
<circle cx="564.78" cy="294.35" r="1.75" fill="#e7e5eb"/>
<circle cx="565.20" cy="330.91" r="1.75" fill="#4347aa"/>
<circle cx="532.49" cy="274.26" r="1.75" fill="#a799d1"/>
<circle cx="550.81" cy="305.55" r="1.75" fill="#e2e0e9"/>
<circle cx="571.50" cy="330.84" r="1.75" fill="#8270c2"/>
<circle cx="538.59" cy="331.66" r="1.75" fill="#8978c5"/>
<circle cx="566.85" cy="311.94" r="1.75" fill="#b6aad7"/>
<circle cx="561.80" cy="283.26" r="1.75" fill="#c7bede"/>
<circle cx="496.49" cy="341.20" r="1.75" fill="#cdc6e1"/>
<circle cx="588.85" cy="273.10" r="1.75" fill="#e0dde8"/>
<circle cx="499.16" cy="378.06" r="1.75" fill="#6e5eb8"/>
<circle cx="552.87" cy="275.03" r="1.75" fill="#e4e2ea"/>
<circle cx="522.62" cy="319.46" r="1.75" fill="#dcd9e7"/>
<circle cx="513.30" cy="333.46" r="1.75" fill="#9181c8"/>
<circle cx="612.58" cy="303.29" r="1.75" fill="#9281c8"/>
<circle cx="552.12" cy="302.41" r="1.75" fill="#eaeaed"/>
<circle cx="521.79" cy="350.66" r="1.75" fill="#cbc3e0"/>
<circle cx="572.89" cy="342.49" r="1.75" fill="#8d7dc6"/>
<circle cx="553.78" cy="303.95" r="1.75" fill="#dbd8e7"/>
<circle cx="541.76" cy="249.51" r="1.75" fill="#ddd9e7"/>
<circle cx="550.90" cy="331.67" r="1.75" fill="#8e7dc6"/>
<circle cx="535.08" cy="273.50" r="1.75" fill="#dedbe8"/>
<circle cx="520.16" cy="270.46" r="1.75" fill="#ebebed"/>
<circle cx="566.75" cy="317.13" r="1.75" fill="#e3e1ea"/>
<circle cx="565.36" cy="287.53" r="1.75" fill="#c1b7dc"/>
<circle cx="554.62" cy="252.47" r="1.75" fill="#e2e0e9"/>
<circle cx="549.26" cy="265.53" r="1.75" fill="#e7e7ec"/>
<circle cx="568.60" cy="250.33" r="1.75" fill="#e1dee9"/>
<circle cx="544.59" cy="289.34" r="1.75" fill="#907fc7"/>
<circle cx="539.06" cy="285.66" r="1.75" fill="#e1dfe9"/>
<circle cx="546.30" cy="356.46" r="1.75" fill="#a496d0"/>
<circle cx="519.47" cy="313.21" r="1.75" fill="#cbc3e0"/>
<circle cx="557.15" cy="253.77" r="1.75" fill="#e4e2ea"/>
<circle cx="579.82" cy="290.90" r="1.75" fill="#e0dde8"/>
<circle cx="536.27" cy="362.15" r="1.75" fill="#a799d1"/>
<circle cx="552.60" cy="254.90" r="1.75" fill="#e7e6eb"/>
<circle cx="548.24" cy="251.19" r="1.75" fill="#dfdde8"/>
<circle cx="575.88" cy="315.37" r="1.75" fill="#c7bfde"/>
<circle cx="556.64" cy="304.26" r="1.75" fill="#c8c0df"/>
<circle cx="570.62" cy="294.98" r="1.75" fill="#dedae7"/>
<circle cx="596.65" cy="287.07" r="1.75" fill="#e3e1ea"/>
<circle cx="595.51" cy="283.35" r="1.75" fill="#dedbe8"/>
<circle cx="520.19" cy="276.13" r="1.75" fill="#c2b9dc"/>
<circle cx="539.85" cy="322.60" r="1.75" fill="#d8d4e5"/>
<circle cx="624.97" cy="300.63" r="1.75" fill="#baafd9"/>
<circle cx="531.28" cy="266.33" r="1.75" fill="#eae9ec"/>
<circle cx="535.40" cy="343.51" r="1.75" fill="#7f6dc0"/>
<circle cx="555.14" cy="284.79" r="1.75" fill="#9e8fcd"/>
<circle cx="505.11" cy="379.37" r="1.75" fill="#d3cde3"/>
<circle cx="503.96" cy="357.61" r="1.75" fill="#dcd8e7"/>
<circle cx="535.39" cy="303.16" r="1.75" fill="#eaeaed"/>
<circle cx="507.08" cy="347.62" r="1.75" fill="#8473c3"/>
<circle cx="517.49" cy="377.38" r="1.75" fill="#dad6e6"/>
<circle cx="566.51" cy="290.66" r="1.75" fill="#dfdce8"/>
<circle cx="524.21" cy="343.92" r="1.75" fill="#9787ca"/>
<circle cx="502.59" cy="359.29" r="1.75" fill="#d8d4e5"/>
<circle cx="533.24" cy="340.48" r="1.75" fill="#e9e9ec"/>
<circle cx="483.86" cy="346.73" r="1.75" fill="#d9d4e5"/>
<circle cx="503.84" cy="386.42" r="1.75" fill="#c4bbdd"/>
<circle cx="502.89" cy="381.29" r="1.75" fill="#c9c1df"/>
<circle cx="528.35" cy="325.68" r="1.75" fill="#e2dfe9"/>
<circle cx="479.96" cy="347.89" r="1.75" fill="#b8add8"/>
<circle cx="579.05" cy="277.70" r="1.75" fill="#dedbe8"/>
<circle cx="525.65" cy="264.92" r="1.75" fill="#e4e3ea"/>
<circle cx="508.75" cy="362.65" r="1.75" fill="#ddd9e7"/>
<circle cx="588.24" cy="298.00" r="1.75" fill="#a495d0"/>
<circle cx="594.24" cy="285.63" r="1.75" fill="#c6bede"/>
<circle cx="567.93" cy="330.17" r="1.75" fill="#ada0d4"/>
<circle cx="532.53" cy="329.10" r="1.75" fill="#c5bcdd"/>
<circle cx="479.92" cy="358.06" r="1.75" fill="#e3e1ea"/>
<circle cx="535.44" cy="263.39" r="1.75" fill="#e7e6eb"/>
<circle cx="554.41" cy="316.47" r="1.75" fill="#eae9ec"/>
<circle cx="613.63" cy="280.55" r="1.75" fill="#e5e3ea"/>
<circle cx="547.05" cy="276.77" r="1.75" fill="#dedce8"/>
<circle cx="550.44" cy="350.34" r="1.75" fill="#cbc3e0"/>
<circle cx="596.27" cy="279.23" r="1.75" fill="#e8e8ec"/>
<circle cx="595.25" cy="302.39" r="1.75" fill="#e7e6eb"/>
<circle cx="523.21" cy="291.32" r="1.75" fill="#d2cce3"/>
<circle cx="490.99" cy="350.26" r="1.75" fill="#8473c3"/>
<circle cx="575.44" cy="327.87" r="1.75" fill="#a597d0"/>
<circle cx="497.44" cy="339.32" r="1.75" fill="#a496d0"/>
<circle cx="513.41" cy="346.12" r="1.75" fill="#b4a8d7"/>
<circle cx="541.66" cy="281.93" r="1.75" fill="#c5bcdd"/>
<circle cx="508.36" cy="369.95" r="1.75" fill="#c5bcdd"/>
<circle cx="541.92" cy="341.95" r="1.75" fill="#cdc7e1"/>
<circle cx="521.98" cy="311.95" r="1.75" fill="#dddae7"/>
<circle cx="605.35" cy="305.39" r="1.75" fill="#dfdce8"/>
<circle cx="498.25" cy="359.69" r="1.75" fill="#a192ce"/>
<circle cx="540.07" cy="259.16" r="1.75" fill="#c1b8dc"/>
<circle cx="534.42" cy="256.25" r="1.75" fill="#dedbe8"/>
<circle cx="518.06" cy="282.89" r="1.75" fill="#e1dfe9"/>
<circle cx="517.74" cy="293.45" r="1.75" fill="#9c8dcc"/>
<circle cx="549.04" cy="356.50" r="1.75" fill="#b2a5d6"/>
<circle cx="505.68" cy="384.59" r="1.75" fill="#8b7ac5"/>
<circle cx="519.27" cy="319.68" r="1.75" fill="#8270c2"/>
<circle cx="545.36" cy="303.04" r="1.75" fill="#dfdce8"/>
<circle cx="492.86" cy="375.74" r="1.75" fill="#a294cf"/>
<circle cx="520.79" cy="264.24" r="1.75" fill="#e6e5eb"/>
<circle cx="550.70" cy="269.15" r="1.75" fill="#e0dde8"/>
<circle cx="487.99" cy="357.85" r="1.75" fill="#5f50b0"/>
<circle cx="559.97" cy="342.92" r="1.75" fill="#c3b9dc"/>
<circle cx="539.18" cy="349.82" r="1.75" fill="#d1cae2"/>
<circle cx="553.08" cy="332.71" r="1.75" fill="#b1a4d5"/>
<circle cx="524.58" cy="351.03" r="1.75" fill="#aa9cd2"/>
<circle cx="537.07" cy="340.72" r="1.75" fill="#d9d5e6"/>
<circle cx="508.90" cy="270.97" r="1.75" fill="#e1dee9"/>
<circle cx="554.71" cy="264.79" r="1.75" fill="#e8e8ec"/>
<circle cx="530.62" cy="262.46" r="1.75" fill="#8f7fc7"/>
<circle cx="588.42" cy="284.34" r="1.75" fill="#bbb0d9"/>
<circle cx="501.46" cy="377.10" r="1.75" fill="#b3a6d6"/>
<circle cx="568.19" cy="335.17" r="1.75" fill="#b4a8d7"/>
<circle cx="500.43" cy="383.09" r="1.75" fill="#cac3e0"/>
<circle cx="539.24" cy="356.89" r="1.75" fill="#cbc3e0"/>
<circle cx="565.12" cy="277.43" r="1.75" fill="#ccc5e0"/>
<circle cx="617.96" cy="361.25" r="1.75" fill="#b3a6d6"/>
<circle cx="557.32" cy="299.22" r="1.75" fill="#d4cfe4"/>
<circle cx="521.21" cy="364.69" r="1.75" fill="#e3e2ea"/>
<circle cx="525.58" cy="334.76" r="1.75" fill="#a99bd2"/>
<circle cx="538.15" cy="338.34" r="1.75" fill="#9383c9"/>
<circle cx="571.47" cy="304.41" r="1.75" fill="#907fc7"/>
<circle cx="559.17" cy="284.50" r="1.75" fill="#c5bcdd"/>
<circle cx="532.43" cy="309.81" r="1.75" fill="#dfdce8"/>
<circle cx="483.81" cy="369.97" r="1.75" fill="#9d8dcd"/>
<circle cx="562.02" cy="347.99" r="1.75" fill="#6858b5"/>
<circle cx="587.88" cy="286.76" r="1.75" fill="#c7bede"/>
<circle cx="498.03" cy="381.62" r="1.75" fill="#d0cae2"/>
<circle cx="546.80" cy="290.59" r="1.75" fill="#e9e9ec"/>
<circle cx="496.50" cy="343.40" r="1.75" fill="#dbd8e7"/>
<circle cx="520.85" cy="263.99" r="1.75" fill="#cdc6e1"/>
<circle cx="515.97" cy="371.19" r="1.75" fill="#b1a4d5"/>
<circle cx="519.01" cy="262.59" r="1.75" fill="#c3b9dc"/>
<circle cx="479.65" cy="343.82" r="1.75" fill="#cdc6e1"/>
<circle cx="502.93" cy="355.57" r="1.75" fill="#b1a4d5"/>
<circle cx="498.48" cy="316.19" r="1.75" fill="#8e7dc7"/>
<circle cx="508.59" cy="388.65" r="1.75" fill="#c7bede"/>
<circle cx="500.71" cy="350.91" r="1.75" fill="#d6d1e4"/>
<circle cx="479.02" cy="360.85" r="1.75" fill="#cfc9e2"/>
<circle cx="526.19" cy="299.87" r="1.75" fill="#eaeaed"/>
<circle cx="488.53" cy="369.31" r="1.75" fill="#e3e2ea"/>
<circle cx="520.39" cy="278.29" r="1.75" fill="#e8e7ec"/>
<circle cx="552.37" cy="339.67" r="1.75" fill="#8877c4"/>
<circle cx="536.15" cy="313.66" r="1.75" fill="#d9d4e5"/>
<circle cx="584.45" cy="308.14" r="1.75" fill="#d4cfe4"/>
<circle cx="515.17" cy="331.88" r="1.75" fill="#a697d0"/>
<circle cx="506.58" cy="363.68" r="1.75" fill="#c3badd"/>
<circle cx="558.29" cy="270.59" r="1.75" fill="#d4cee3"/>
<circle cx="536.61" cy="356.86" r="1.75" fill="#dcd9e7"/>
<circle cx="538.96" cy="292.69" r="1.75" fill="#e5e4eb"/>
<circle cx="531.81" cy="257.85" r="1.75" fill="#bcb1da"/>
<circle cx="567.81" cy="346.53" r="1.75" fill="#afa2d4"/>
<circle cx="508.91" cy="376.62" r="1.75" fill="#6252b1"/>
<circle cx="556.24" cy="336.56" r="1.75" fill="#a092ce"/>
<circle cx="540.94" cy="339.87" r="1.75" fill="#5a4bad"/>
<circle cx="554.82" cy="247.07" r="1.75" fill="#e5e4eb"/>
<circle cx="548.08" cy="315.75" r="1.75" fill="#e0dde8"/>
<circle cx="554.76" cy="324.84" r="1.75" fill="#eaeaed"/>
<circle cx="628.00" cy="309.30" r="1.75" fill="#d0c9e2"/>
<circle cx="513.09" cy="353.82" r="1.75" fill="#dad6e6"/>
<circle cx="525.48" cy="363.76" r="1.75" fill="#9788cb"/>
<circle cx="645.69" cy="308.28" r="1.75" fill="#eaeaed"/>
<circle cx="506.65" cy="366.33" r="1.75" fill="#e3e1ea"/>
<circle cx="554.55" cy="290.54" r="1.75" fill="#d2cde3"/>
</g>
<rect x="661.90" y="294.80" width="7.30" height="38.10" fill="url(#pur)" />
<text x="672.50" y="300.40" font-size="8" text-anchor="start" font-weight="normal" font-style="normal" fill="#000" >0.6</text>
<line x1="661.90" y1="305.55" x2="663.30" y2="305.55" stroke="#fff" stroke-width="0.6"/>
<line x1="667.80" y1="305.55" x2="669.20" y2="305.55" stroke="#fff" stroke-width="0.6"/>
<text x="672.50" y="308.45" font-size="8" text-anchor="start" font-weight="normal" font-style="normal" fill="#000" >0.5</text>
<line x1="661.90" y1="313.60" x2="663.30" y2="313.60" stroke="#fff" stroke-width="0.6"/>
<line x1="667.80" y1="313.60" x2="669.20" y2="313.60" stroke="#fff" stroke-width="0.6"/>
<text x="672.50" y="316.50" font-size="8" text-anchor="start" font-weight="normal" font-style="normal" fill="#000" >0.4</text>
<line x1="661.90" y1="321.65" x2="663.30" y2="321.65" stroke="#fff" stroke-width="0.6"/>
<line x1="667.80" y1="321.65" x2="669.20" y2="321.65" stroke="#fff" stroke-width="0.6"/>
<text x="672.50" y="324.55" font-size="8" text-anchor="start" font-weight="normal" font-style="normal" fill="#000" >0.3</text>
<text x="672.50" y="332.60" font-size="8" text-anchor="start" font-weight="normal" font-style="normal" fill="#000" >0.2</text></svg></body></html>
